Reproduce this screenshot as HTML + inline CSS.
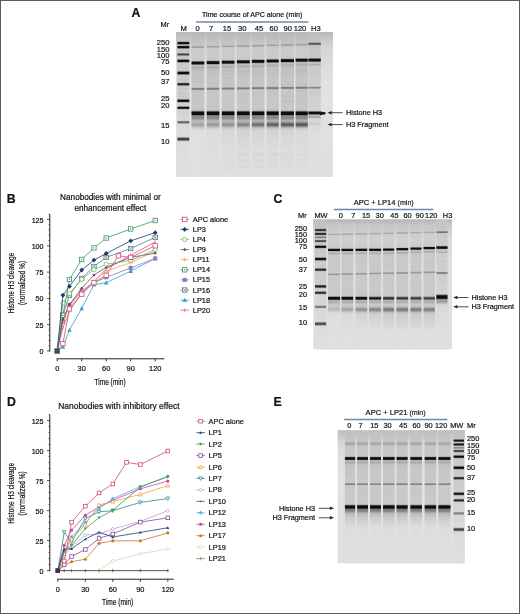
<!DOCTYPE html>
<html><head><meta charset="utf-8"><style>
html,body{margin:0;padding:0;background:#fff;}
svg{display:block;will-change:transform;}
text{font-family:"Liberation Sans", sans-serif;}
</style></head><body>
<svg width="520" height="614" viewBox="0 0 520 614">
<rect x="0" y="0" width="520" height="614" fill="#fff"/>
<defs><filter id="lb" x="-10%" y="-2%" width="120%" height="104%"><feGaussianBlur stdDeviation="0.5 0.6"/></filter><filter id="gb" x="-2%" y="-2%" width="104%" height="104%"><feGaussianBlur stdDeviation="0.4"/></filter></defs>
<text x="131.60" y="16.98" font-size="12.3" text-anchor="start" font-weight="bold" fill="#111" stroke="#111" stroke-width="0.2" >A</text>
<text x="202.00" y="16.74" font-size="7.1" text-anchor="start" fill="#111111" stroke="#111111" stroke-width="0.2" >Time course of APC alone (min)</text>
<line x1="196.00" y1="21.90" x2="308.50" y2="21.90" stroke="#7088a8" stroke-width="1.5" />
<text x="160.50" y="26.85" font-size="7.4" text-anchor="start" fill="#111111" stroke="#111111" stroke-width="0.2" >Mr</text>
<text x="183.70" y="30.91" font-size="7.6" text-anchor="middle" fill="#111111" stroke="#111111" stroke-width="0.2" >M</text>
<text x="197.70" y="30.91" font-size="7.6" text-anchor="middle" fill="#111111" stroke="#111111" stroke-width="0.2" >0</text>
<text x="211.20" y="30.91" font-size="7.6" text-anchor="middle" fill="#111111" stroke="#111111" stroke-width="0.2" >7</text>
<text x="226.90" y="30.91" font-size="7.6" text-anchor="middle" fill="#111111" stroke="#111111" stroke-width="0.2" >15</text>
<text x="242.30" y="30.91" font-size="7.6" text-anchor="middle" fill="#111111" stroke="#111111" stroke-width="0.2" >30</text>
<text x="259.10" y="30.91" font-size="7.6" text-anchor="middle" fill="#111111" stroke="#111111" stroke-width="0.2" >45</text>
<text x="273.80" y="30.91" font-size="7.6" text-anchor="middle" fill="#111111" stroke="#111111" stroke-width="0.2" >60</text>
<text x="287.70" y="30.91" font-size="7.6" text-anchor="middle" fill="#111111" stroke="#111111" stroke-width="0.2" >90</text>
<text x="300.00" y="30.91" font-size="7.6" text-anchor="middle" fill="#111111" stroke="#111111" stroke-width="0.2" >120</text>
<text x="315.80" y="30.91" font-size="7.6" text-anchor="middle" fill="#111111" stroke="#111111" stroke-width="0.2" >H3</text>
<text x="169.50" y="45.41" font-size="7.6" text-anchor="end" fill="#111111" stroke="#111111" stroke-width="0.2" >250</text>
<text x="169.50" y="51.81" font-size="7.6" text-anchor="end" fill="#111111" stroke="#111111" stroke-width="0.2" >150</text>
<text x="169.50" y="57.81" font-size="7.6" text-anchor="end" fill="#111111" stroke="#111111" stroke-width="0.2" >100</text>
<text x="169.50" y="64.21" font-size="7.6" text-anchor="end" fill="#111111" stroke="#111111" stroke-width="0.2" >75</text>
<text x="169.50" y="75.11" font-size="7.6" text-anchor="end" fill="#111111" stroke="#111111" stroke-width="0.2" >50</text>
<text x="169.50" y="84.41" font-size="7.6" text-anchor="end" fill="#111111" stroke="#111111" stroke-width="0.2" >37</text>
<text x="169.50" y="101.41" font-size="7.6" text-anchor="end" fill="#111111" stroke="#111111" stroke-width="0.2" >25</text>
<text x="169.50" y="108.01" font-size="7.6" text-anchor="end" fill="#111111" stroke="#111111" stroke-width="0.2" >20</text>
<text x="169.50" y="128.21" font-size="7.6" text-anchor="end" fill="#111111" stroke="#111111" stroke-width="0.2" >15</text>
<text x="169.50" y="144.11" font-size="7.6" text-anchor="end" fill="#111111" stroke="#111111" stroke-width="0.2" >10</text>
<linearGradient id="g1" gradientUnits="userSpaceOnUse" x1="0" y1="32.00" x2="0" y2="177.00"><stop offset="0.0000" stop-color="#b8b8b8"/><stop offset="0.0483" stop-color="#c8c8c8"/><stop offset="0.1103" stop-color="#d6d6d6"/><stop offset="0.3172" stop-color="#e0e0e0"/><stop offset="0.4414" stop-color="#e2e2e2"/><stop offset="1.0000" stop-color="#dfdfdf"/></linearGradient>
<rect x="176.00" y="32.00" width="157.00" height="145.00" fill="url(#g1)" />
<g filter="url(#lb)">
<linearGradient id="g2" gradientUnits="userSpaceOnUse" x1="0" y1="32.50" x2="0" y2="176.50"><stop offset="0.0000" stop-color="#bebebe"/><stop offset="0.0556" stop-color="#c4c4c4"/><stop offset="0.0590" stop-color="#c1c1c1"/><stop offset="0.0625" stop-color="#a6a6a6"/><stop offset="0.0660" stop-color="#5a5a5a"/><stop offset="0.0694" stop-color="#141414"/><stop offset="0.0729" stop-color="#0c0c0c"/><stop offset="0.0764" stop-color="#0c0c0c"/><stop offset="0.0799" stop-color="#393939"/><stop offset="0.0833" stop-color="#8d8d8d"/><stop offset="0.0868" stop-color="#bbbbbb"/><stop offset="0.0903" stop-color="#acacac"/><stop offset="0.0938" stop-color="#676767"/><stop offset="0.0972" stop-color="#181818"/><stop offset="0.1007" stop-color="#0c0c0c"/><stop offset="0.1042" stop-color="#0c0c0c"/><stop offset="0.1076" stop-color="#2c2c2c"/><stop offset="0.1111" stop-color="#7f7f7f"/><stop offset="0.1146" stop-color="#b9b9b9"/><stop offset="0.1181" stop-color="#c6c6c6"/><stop offset="0.1389" stop-color="#c7c7c7"/><stop offset="0.1424" stop-color="#bdbdbd"/><stop offset="0.1458" stop-color="#868686"/><stop offset="0.1493" stop-color="#494949"/><stop offset="0.1528" stop-color="#3c3c3c"/><stop offset="0.1562" stop-color="#494949"/><stop offset="0.1597" stop-color="#878787"/><stop offset="0.1632" stop-color="#bebebe"/><stop offset="0.1667" stop-color="#c9c9c9"/><stop offset="0.1806" stop-color="#c8c8c8"/><stop offset="0.1840" stop-color="#b9b9b9"/><stop offset="0.1875" stop-color="#7e7e7e"/><stop offset="0.1910" stop-color="#272727"/><stop offset="0.1944" stop-color="#0c0c0c"/><stop offset="0.2014" stop-color="#0d0d0d"/><stop offset="0.2049" stop-color="#4c4c4c"/><stop offset="0.2083" stop-color="#9c9c9c"/><stop offset="0.2118" stop-color="#c3c3c3"/><stop offset="0.2153" stop-color="#cacaca"/><stop offset="0.2604" stop-color="#cbcbcb"/><stop offset="0.2639" stop-color="#c5c5c5"/><stop offset="0.2674" stop-color="#b3b3b3"/><stop offset="0.2708" stop-color="#7f7f7f"/><stop offset="0.2743" stop-color="#333333"/><stop offset="0.2778" stop-color="#0c0c0c"/><stop offset="0.2847" stop-color="#0c0c0c"/><stop offset="0.2882" stop-color="#333333"/><stop offset="0.2917" stop-color="#7c7c7c"/><stop offset="0.2951" stop-color="#b1b1b1"/><stop offset="0.2986" stop-color="#c8c8c8"/><stop offset="0.3021" stop-color="#cbcbcb"/><stop offset="0.3194" stop-color="#cbcbcb"/><stop offset="0.3229" stop-color="#c5c5c5"/><stop offset="0.3264" stop-color="#c5c5c5"/><stop offset="0.3299" stop-color="#cbcbcb"/><stop offset="0.3438" stop-color="#cbcbcb"/><stop offset="0.3472" stop-color="#bababa"/><stop offset="0.3507" stop-color="#7d7d7d"/><stop offset="0.3542" stop-color="#373737"/><stop offset="0.3576" stop-color="#1e1e1e"/><stop offset="0.3611" stop-color="#202020"/><stop offset="0.3646" stop-color="#404040"/><stop offset="0.3681" stop-color="#848484"/><stop offset="0.3715" stop-color="#bababa"/><stop offset="0.3750" stop-color="#cbcbcb"/><stop offset="0.3854" stop-color="#cccccc"/><stop offset="0.3889" stop-color="#c5c5c5"/><stop offset="0.3924" stop-color="#c6c6c6"/><stop offset="0.3958" stop-color="#cccccc"/><stop offset="0.4271" stop-color="#cccccc"/><stop offset="0.4306" stop-color="#c9c9c9"/><stop offset="0.4375" stop-color="#cdcdcd"/><stop offset="0.4410" stop-color="#cdcdcd"/><stop offset="0.4479" stop-color="#c6c6c6"/><stop offset="0.4514" stop-color="#cccccc"/><stop offset="0.4549" stop-color="#cecece"/><stop offset="0.4583" stop-color="#cbcbcb"/><stop offset="0.4618" stop-color="#b5b5b5"/><stop offset="0.4653" stop-color="#727272"/><stop offset="0.4688" stop-color="#242424"/><stop offset="0.4722" stop-color="#0c0c0c"/><stop offset="0.4757" stop-color="#0c0c0c"/><stop offset="0.4792" stop-color="#1a1a1a"/><stop offset="0.4826" stop-color="#626262"/><stop offset="0.4861" stop-color="#adadad"/><stop offset="0.4896" stop-color="#cbcbcb"/><stop offset="0.4931" stop-color="#d0d0d0"/><stop offset="0.5069" stop-color="#d0d0d0"/><stop offset="0.5104" stop-color="#c3c3c3"/><stop offset="0.5139" stop-color="#8a8a8a"/><stop offset="0.5174" stop-color="#373737"/><stop offset="0.5208" stop-color="#111111"/><stop offset="0.5243" stop-color="#101010"/><stop offset="0.5278" stop-color="#2c2c2c"/><stop offset="0.5312" stop-color="#7a7a7a"/><stop offset="0.5347" stop-color="#bebebe"/><stop offset="0.5382" stop-color="#d2d2d2"/><stop offset="0.6076" stop-color="#d8d8d8"/><stop offset="0.6111" stop-color="#d0d0d0"/><stop offset="0.6146" stop-color="#aeaeae"/><stop offset="0.6181" stop-color="#7e7e7e"/><stop offset="0.6215" stop-color="#676767"/><stop offset="0.6250" stop-color="#666666"/><stop offset="0.6285" stop-color="#777777"/><stop offset="0.6319" stop-color="#a5a5a5"/><stop offset="0.6354" stop-color="#cdcdcd"/><stop offset="0.6389" stop-color="#d9d9d9"/><stop offset="0.7153" stop-color="#dcdcdc"/><stop offset="0.7188" stop-color="#dcdcdc"/><stop offset="0.7222" stop-color="#d8d8d8"/><stop offset="0.7257" stop-color="#c4c4c4"/><stop offset="0.7292" stop-color="#979797"/><stop offset="0.7326" stop-color="#636363"/><stop offset="0.7361" stop-color="#444444"/><stop offset="0.7396" stop-color="#3d3d3d"/><stop offset="0.7431" stop-color="#3f3f3f"/><stop offset="0.7465" stop-color="#535353"/><stop offset="0.7500" stop-color="#818181"/><stop offset="0.7535" stop-color="#b5b5b5"/><stop offset="0.7569" stop-color="#d3d3d3"/><stop offset="0.7604" stop-color="#dcdcdc"/><stop offset="1.0000" stop-color="#e0e0e0"/></linearGradient>
<rect x="177.40" y="32.50" width="11.90" height="144.00" fill="url(#g2)" />
<linearGradient id="g3" gradientUnits="userSpaceOnUse" x1="0" y1="33.00" x2="0" y2="176.00"><stop offset="0.0000" stop-color="#b8b8b8"/><stop offset="0.0874" stop-color="#c6c6c6"/><stop offset="0.0909" stop-color="#c1c1c1"/><stop offset="0.0944" stop-color="#aaaaaa"/><stop offset="0.0979" stop-color="#a0a0a0"/><stop offset="0.1014" stop-color="#a4a4a4"/><stop offset="0.1049" stop-color="#bbbbbb"/><stop offset="0.1084" stop-color="#c9c9c9"/><stop offset="0.1259" stop-color="#cccccc"/><stop offset="0.1888" stop-color="#cacaca"/><stop offset="0.1923" stop-color="#c5c5c5"/><stop offset="0.1958" stop-color="#a9a9a9"/><stop offset="0.1993" stop-color="#666666"/><stop offset="0.2028" stop-color="#181818"/><stop offset="0.2063" stop-color="#0c0c0c"/><stop offset="0.2133" stop-color="#0c0c0c"/><stop offset="0.2168" stop-color="#161616"/><stop offset="0.2203" stop-color="#636363"/><stop offset="0.2238" stop-color="#a5a5a5"/><stop offset="0.2273" stop-color="#bdbdbd"/><stop offset="0.2308" stop-color="#bcbcbc"/><stop offset="0.2343" stop-color="#b3b3b3"/><stop offset="0.2378" stop-color="#aeaeae"/><stop offset="0.2448" stop-color="#adadad"/><stop offset="0.2483" stop-color="#b1b1b1"/><stop offset="0.2517" stop-color="#b9b9b9"/><stop offset="0.2552" stop-color="#bdbdbd"/><stop offset="0.2587" stop-color="#bababa"/><stop offset="0.2657" stop-color="#c0c0c0"/><stop offset="0.3112" stop-color="#c4c4c4"/><stop offset="0.3147" stop-color="#bebebe"/><stop offset="0.3182" stop-color="#bebebe"/><stop offset="0.3217" stop-color="#c4c4c4"/><stop offset="0.3322" stop-color="#c6c6c6"/><stop offset="0.3392" stop-color="#c0c0c0"/><stop offset="0.3462" stop-color="#c6c6c6"/><stop offset="0.3776" stop-color="#c6c6c6"/><stop offset="0.3811" stop-color="#bdbdbd"/><stop offset="0.3846" stop-color="#9b9b9b"/><stop offset="0.3881" stop-color="#7f7f7f"/><stop offset="0.3916" stop-color="#7c7c7c"/><stop offset="0.3951" stop-color="#878787"/><stop offset="0.3986" stop-color="#ababab"/><stop offset="0.4021" stop-color="#c3c3c3"/><stop offset="0.4056" stop-color="#c5c5c5"/><stop offset="0.4091" stop-color="#c2c2c2"/><stop offset="0.4196" stop-color="#c7c7c7"/><stop offset="0.4336" stop-color="#c5c5c5"/><stop offset="0.4476" stop-color="#c6c6c6"/><stop offset="0.4510" stop-color="#c2c2c2"/><stop offset="0.4580" stop-color="#c7c7c7"/><stop offset="0.4825" stop-color="#c5c5c5"/><stop offset="0.5000" stop-color="#c8c8c8"/><stop offset="0.5280" stop-color="#c7c7c7"/><stop offset="0.5350" stop-color="#c3c3c3"/><stop offset="0.5385" stop-color="#c4c4c4"/><stop offset="0.5420" stop-color="#b8b8b8"/><stop offset="0.5455" stop-color="#939393"/><stop offset="0.5524" stop-color="#151515"/><stop offset="0.5559" stop-color="#0c0c0c"/><stop offset="0.5699" stop-color="#0d0d0d"/><stop offset="0.5734" stop-color="#454545"/><stop offset="0.5769" stop-color="#757575"/><stop offset="0.5804" stop-color="#8a8a8a"/><stop offset="0.5839" stop-color="#8b8b8b"/><stop offset="0.5909" stop-color="#858585"/><stop offset="0.5944" stop-color="#878787"/><stop offset="0.6014" stop-color="#979797"/><stop offset="0.6119" stop-color="#b4b4b4"/><stop offset="0.6154" stop-color="#b9b9b9"/><stop offset="0.6189" stop-color="#bbbbbb"/><stop offset="0.6259" stop-color="#b6b6b6"/><stop offset="0.6364" stop-color="#a7a7a7"/><stop offset="0.6399" stop-color="#a5a5a5"/><stop offset="0.6469" stop-color="#aaaaaa"/><stop offset="0.6643" stop-color="#cccccc"/><stop offset="0.6748" stop-color="#d8d8d8"/><stop offset="0.6853" stop-color="#e0e0e0"/><stop offset="1.0000" stop-color="#e0e0e0"/></linearGradient>
<rect x="191.50" y="33.00" width="12.80" height="143.00" fill="url(#g3)" />
<linearGradient id="g4" gradientUnits="userSpaceOnUse" x1="0" y1="33.00" x2="0" y2="176.00"><stop offset="0.0000" stop-color="#b8b8b8"/><stop offset="0.0839" stop-color="#c6c6c6"/><stop offset="0.0874" stop-color="#c4c4c4"/><stop offset="0.0944" stop-color="#a1a1a1"/><stop offset="0.0979" stop-color="#a1a1a1"/><stop offset="0.1049" stop-color="#c7c7c7"/><stop offset="0.1119" stop-color="#cbcbcb"/><stop offset="0.1853" stop-color="#cacaca"/><stop offset="0.1888" stop-color="#c7c7c7"/><stop offset="0.1923" stop-color="#b2b2b2"/><stop offset="0.1958" stop-color="#767676"/><stop offset="0.1993" stop-color="#262626"/><stop offset="0.2028" stop-color="#0c0c0c"/><stop offset="0.2133" stop-color="#0c0c0c"/><stop offset="0.2203" stop-color="#9b9b9b"/><stop offset="0.2238" stop-color="#bcbcbc"/><stop offset="0.2273" stop-color="#bdbdbd"/><stop offset="0.2343" stop-color="#afafaf"/><stop offset="0.2413" stop-color="#adadad"/><stop offset="0.2448" stop-color="#b0b0b0"/><stop offset="0.2517" stop-color="#bebebe"/><stop offset="0.2552" stop-color="#bfbfbf"/><stop offset="0.2587" stop-color="#bcbcbc"/><stop offset="0.2692" stop-color="#c1c1c1"/><stop offset="0.3007" stop-color="#c2c2c2"/><stop offset="0.3287" stop-color="#c6c6c6"/><stop offset="0.3392" stop-color="#c5c5c5"/><stop offset="0.3427" stop-color="#c1c1c1"/><stop offset="0.3741" stop-color="#c6c6c6"/><stop offset="0.3776" stop-color="#c5c5c5"/><stop offset="0.3811" stop-color="#b4b4b4"/><stop offset="0.3846" stop-color="#8f8f8f"/><stop offset="0.3881" stop-color="#7c7c7c"/><stop offset="0.3916" stop-color="#7d7d7d"/><stop offset="0.3951" stop-color="#919191"/><stop offset="0.3986" stop-color="#b7b7b7"/><stop offset="0.4021" stop-color="#c6c6c6"/><stop offset="0.4510" stop-color="#c7c7c7"/><stop offset="0.4580" stop-color="#c6c6c6"/><stop offset="0.4825" stop-color="#c7c7c7"/><stop offset="0.4895" stop-color="#c5c5c5"/><stop offset="0.4965" stop-color="#c8c8c8"/><stop offset="0.5105" stop-color="#c5c5c5"/><stop offset="0.5210" stop-color="#c8c8c8"/><stop offset="0.5385" stop-color="#c5c5c5"/><stop offset="0.5420" stop-color="#b8b8b8"/><stop offset="0.5455" stop-color="#939393"/><stop offset="0.5524" stop-color="#151515"/><stop offset="0.5559" stop-color="#0c0c0c"/><stop offset="0.5699" stop-color="#0d0d0d"/><stop offset="0.5734" stop-color="#454545"/><stop offset="0.5769" stop-color="#757575"/><stop offset="0.5804" stop-color="#8a8a8a"/><stop offset="0.5839" stop-color="#8b8b8b"/><stop offset="0.5909" stop-color="#858585"/><stop offset="0.5944" stop-color="#878787"/><stop offset="0.6014" stop-color="#979797"/><stop offset="0.6084" stop-color="#ababab"/><stop offset="0.6119" stop-color="#b3b3b3"/><stop offset="0.6154" stop-color="#b8b8b8"/><stop offset="0.6189" stop-color="#b9b9b9"/><stop offset="0.6259" stop-color="#b1b1b1"/><stop offset="0.6364" stop-color="#9d9d9d"/><stop offset="0.6399" stop-color="#9b9b9b"/><stop offset="0.6434" stop-color="#9d9d9d"/><stop offset="0.6503" stop-color="#a9a9a9"/><stop offset="0.6643" stop-color="#cacaca"/><stop offset="0.6748" stop-color="#d6d6d6"/><stop offset="0.6853" stop-color="#dcdcdc"/><stop offset="0.8357" stop-color="#dedede"/><stop offset="0.8566" stop-color="#dedede"/><stop offset="1.0000" stop-color="#e0e0e0"/></linearGradient>
<rect x="206.70" y="33.00" width="12.70" height="143.00" fill="url(#g4)" />
<linearGradient id="g5" gradientUnits="userSpaceOnUse" x1="0" y1="33.00" x2="0" y2="176.00"><stop offset="0.0000" stop-color="#b8b8b8"/><stop offset="0.0839" stop-color="#c5c5c5"/><stop offset="0.0874" stop-color="#b8b8b8"/><stop offset="0.0909" stop-color="#a3a3a3"/><stop offset="0.0944" stop-color="#a0a0a0"/><stop offset="0.0979" stop-color="#ababab"/><stop offset="0.1014" stop-color="#c3c3c3"/><stop offset="0.1049" stop-color="#c9c9c9"/><stop offset="0.1329" stop-color="#cccccc"/><stop offset="0.1818" stop-color="#cacaca"/><stop offset="0.1853" stop-color="#c8c8c8"/><stop offset="0.1888" stop-color="#b9b9b9"/><stop offset="0.1923" stop-color="#868686"/><stop offset="0.1958" stop-color="#353535"/><stop offset="0.1993" stop-color="#0c0c0c"/><stop offset="0.2098" stop-color="#0c0c0c"/><stop offset="0.2133" stop-color="#434343"/><stop offset="0.2168" stop-color="#909090"/><stop offset="0.2203" stop-color="#b9b9b9"/><stop offset="0.2238" stop-color="#bfbfbf"/><stop offset="0.2308" stop-color="#b0b0b0"/><stop offset="0.2378" stop-color="#adadad"/><stop offset="0.2413" stop-color="#b0b0b0"/><stop offset="0.2483" stop-color="#bebebe"/><stop offset="0.2552" stop-color="#c0c0c0"/><stop offset="0.2622" stop-color="#bababa"/><stop offset="0.2692" stop-color="#c0c0c0"/><stop offset="0.2832" stop-color="#c2c2c2"/><stop offset="0.2902" stop-color="#bebebe"/><stop offset="0.2972" stop-color="#c3c3c3"/><stop offset="0.3042" stop-color="#c3c3c3"/><stop offset="0.3112" stop-color="#bdbdbd"/><stop offset="0.3217" stop-color="#c5c5c5"/><stop offset="0.3497" stop-color="#c6c6c6"/><stop offset="0.3601" stop-color="#c2c2c2"/><stop offset="0.3706" stop-color="#c6c6c6"/><stop offset="0.3741" stop-color="#c6c6c6"/><stop offset="0.3776" stop-color="#c2c2c2"/><stop offset="0.3811" stop-color="#a8a8a8"/><stop offset="0.3846" stop-color="#858585"/><stop offset="0.3881" stop-color="#7c7c7c"/><stop offset="0.3916" stop-color="#808080"/><stop offset="0.3986" stop-color="#bfbfbf"/><stop offset="0.4021" stop-color="#c4c4c4"/><stop offset="0.4056" stop-color="#c2c2c2"/><stop offset="0.4126" stop-color="#c7c7c7"/><stop offset="0.4615" stop-color="#c7c7c7"/><stop offset="0.4685" stop-color="#c2c2c2"/><stop offset="0.4755" stop-color="#c7c7c7"/><stop offset="0.5140" stop-color="#c7c7c7"/><stop offset="0.5175" stop-color="#c3c3c3"/><stop offset="0.5280" stop-color="#c8c8c8"/><stop offset="0.5350" stop-color="#c8c8c8"/><stop offset="0.5385" stop-color="#c5c5c5"/><stop offset="0.5420" stop-color="#b8b8b8"/><stop offset="0.5455" stop-color="#939393"/><stop offset="0.5524" stop-color="#151515"/><stop offset="0.5559" stop-color="#0c0c0c"/><stop offset="0.5699" stop-color="#0d0d0d"/><stop offset="0.5734" stop-color="#454545"/><stop offset="0.5769" stop-color="#757575"/><stop offset="0.5804" stop-color="#8a8a8a"/><stop offset="0.5839" stop-color="#8b8b8b"/><stop offset="0.5909" stop-color="#858585"/><stop offset="0.5944" stop-color="#878787"/><stop offset="0.6014" stop-color="#979797"/><stop offset="0.6084" stop-color="#ababab"/><stop offset="0.6119" stop-color="#b2b2b2"/><stop offset="0.6154" stop-color="#b6b6b6"/><stop offset="0.6189" stop-color="#b7b7b7"/><stop offset="0.6224" stop-color="#b3b3b3"/><stop offset="0.6364" stop-color="#949494"/><stop offset="0.6399" stop-color="#919191"/><stop offset="0.6434" stop-color="#939393"/><stop offset="0.6469" stop-color="#999999"/><stop offset="0.6608" stop-color="#c0c0c0"/><stop offset="0.6678" stop-color="#cccccc"/><stop offset="0.6818" stop-color="#d6d6d6"/><stop offset="0.8322" stop-color="#dddddd"/><stop offset="0.8497" stop-color="#dadada"/><stop offset="0.8671" stop-color="#dedede"/><stop offset="0.8916" stop-color="#dbdbdb"/><stop offset="0.9126" stop-color="#dedede"/><stop offset="0.9336" stop-color="#dcdcdc"/><stop offset="0.9790" stop-color="#dfdfdf"/><stop offset="1.0000" stop-color="#e0e0e0"/></linearGradient>
<rect x="221.80" y="33.00" width="12.70" height="143.00" fill="url(#g5)" />
<linearGradient id="g6" gradientUnits="userSpaceOnUse" x1="0" y1="33.00" x2="0" y2="176.00"><stop offset="0.0000" stop-color="#b8b8b8"/><stop offset="0.0804" stop-color="#c5c5c5"/><stop offset="0.0839" stop-color="#bebebe"/><stop offset="0.0874" stop-color="#a7a7a7"/><stop offset="0.0909" stop-color="#9f9f9f"/><stop offset="0.0944" stop-color="#a5a5a5"/><stop offset="0.0979" stop-color="#bcbcbc"/><stop offset="0.1014" stop-color="#c8c8c8"/><stop offset="0.1259" stop-color="#cccccc"/><stop offset="0.1818" stop-color="#c9c9c9"/><stop offset="0.1853" stop-color="#bfbfbf"/><stop offset="0.1888" stop-color="#949494"/><stop offset="0.1923" stop-color="#464646"/><stop offset="0.1958" stop-color="#0c0c0c"/><stop offset="0.2063" stop-color="#0c0c0c"/><stop offset="0.2098" stop-color="#333333"/><stop offset="0.2133" stop-color="#838383"/><stop offset="0.2168" stop-color="#b5b5b5"/><stop offset="0.2203" stop-color="#c0c0c0"/><stop offset="0.2273" stop-color="#b2b2b2"/><stop offset="0.2343" stop-color="#aeaeae"/><stop offset="0.2378" stop-color="#afafaf"/><stop offset="0.2448" stop-color="#bdbdbd"/><stop offset="0.2483" stop-color="#c1c1c1"/><stop offset="0.2622" stop-color="#c0c0c0"/><stop offset="0.2692" stop-color="#bbbbbb"/><stop offset="0.2762" stop-color="#c1c1c1"/><stop offset="0.2832" stop-color="#bebebe"/><stop offset="0.2937" stop-color="#c3c3c3"/><stop offset="0.3042" stop-color="#c2c2c2"/><stop offset="0.3252" stop-color="#c6c6c6"/><stop offset="0.3427" stop-color="#c6c6c6"/><stop offset="0.3531" stop-color="#c1c1c1"/><stop offset="0.3601" stop-color="#c6c6c6"/><stop offset="0.3741" stop-color="#c6c6c6"/><stop offset="0.3776" stop-color="#bcbcbc"/><stop offset="0.3811" stop-color="#9a9a9a"/><stop offset="0.3846" stop-color="#7f7f7f"/><stop offset="0.3881" stop-color="#7c7c7c"/><stop offset="0.3916" stop-color="#878787"/><stop offset="0.3951" stop-color="#acacac"/><stop offset="0.3986" stop-color="#c3c3c3"/><stop offset="0.4021" stop-color="#c7c7c7"/><stop offset="0.4126" stop-color="#c4c4c4"/><stop offset="0.4231" stop-color="#c7c7c7"/><stop offset="0.4301" stop-color="#c1c1c1"/><stop offset="0.4371" stop-color="#c7c7c7"/><stop offset="0.4476" stop-color="#c5c5c5"/><stop offset="0.4510" stop-color="#c1c1c1"/><stop offset="0.4580" stop-color="#c7c7c7"/><stop offset="0.4755" stop-color="#c7c7c7"/><stop offset="0.4825" stop-color="#c2c2c2"/><stop offset="0.4895" stop-color="#c7c7c7"/><stop offset="0.5350" stop-color="#c8c8c8"/><stop offset="0.5385" stop-color="#c5c5c5"/><stop offset="0.5420" stop-color="#b8b8b8"/><stop offset="0.5455" stop-color="#939393"/><stop offset="0.5524" stop-color="#151515"/><stop offset="0.5559" stop-color="#0c0c0c"/><stop offset="0.5699" stop-color="#0d0d0d"/><stop offset="0.5734" stop-color="#454545"/><stop offset="0.5769" stop-color="#757575"/><stop offset="0.5804" stop-color="#8a8a8a"/><stop offset="0.5839" stop-color="#8b8b8b"/><stop offset="0.5909" stop-color="#858585"/><stop offset="0.5944" stop-color="#878787"/><stop offset="0.6014" stop-color="#979797"/><stop offset="0.6084" stop-color="#aaaaaa"/><stop offset="0.6119" stop-color="#b2b2b2"/><stop offset="0.6154" stop-color="#b5b5b5"/><stop offset="0.6189" stop-color="#b4b4b4"/><stop offset="0.6224" stop-color="#afafaf"/><stop offset="0.6364" stop-color="#898989"/><stop offset="0.6399" stop-color="#858585"/><stop offset="0.6434" stop-color="#878787"/><stop offset="0.6469" stop-color="#8e8e8e"/><stop offset="0.6608" stop-color="#bcbcbc"/><stop offset="0.6678" stop-color="#cacaca"/><stop offset="0.6783" stop-color="#d2d2d2"/><stop offset="0.7587" stop-color="#d8d8d8"/><stop offset="0.8287" stop-color="#dddddd"/><stop offset="0.8462" stop-color="#d6d6d6"/><stop offset="0.8671" stop-color="#dddddd"/><stop offset="0.8916" stop-color="#d8d8d8"/><stop offset="0.9091" stop-color="#dedede"/><stop offset="0.9336" stop-color="#dadada"/><stop offset="0.9545" stop-color="#dedede"/><stop offset="1.0000" stop-color="#e0e0e0"/></linearGradient>
<rect x="236.90" y="33.00" width="12.90" height="143.00" fill="url(#g6)" />
<linearGradient id="g7" gradientUnits="userSpaceOnUse" x1="0" y1="33.00" x2="0" y2="176.00"><stop offset="0.0000" stop-color="#b8b8b8"/><stop offset="0.0769" stop-color="#c5c5c5"/><stop offset="0.0804" stop-color="#c2c2c2"/><stop offset="0.0839" stop-color="#adadad"/><stop offset="0.0874" stop-color="#9f9f9f"/><stop offset="0.0909" stop-color="#a1a1a1"/><stop offset="0.0979" stop-color="#c6c6c6"/><stop offset="0.1119" stop-color="#cbcbcb"/><stop offset="0.1783" stop-color="#cacaca"/><stop offset="0.1818" stop-color="#c3c3c3"/><stop offset="0.1853" stop-color="#a0a0a0"/><stop offset="0.1923" stop-color="#0d0d0d"/><stop offset="0.2028" stop-color="#0c0c0c"/><stop offset="0.2063" stop-color="#252525"/><stop offset="0.2098" stop-color="#747474"/><stop offset="0.2133" stop-color="#afafaf"/><stop offset="0.2168" stop-color="#c0c0c0"/><stop offset="0.2203" stop-color="#bcbcbc"/><stop offset="0.2238" stop-color="#b3b3b3"/><stop offset="0.2273" stop-color="#afafaf"/><stop offset="0.2343" stop-color="#afafaf"/><stop offset="0.2448" stop-color="#c1c1c1"/><stop offset="0.2622" stop-color="#c0c0c0"/><stop offset="0.2727" stop-color="#bcbcbc"/><stop offset="0.2832" stop-color="#c2c2c2"/><stop offset="0.2902" stop-color="#c0c0c0"/><stop offset="0.2972" stop-color="#c3c3c3"/><stop offset="0.3671" stop-color="#c6c6c6"/><stop offset="0.3741" stop-color="#c3c3c3"/><stop offset="0.3776" stop-color="#b3b3b3"/><stop offset="0.3811" stop-color="#8d8d8d"/><stop offset="0.3846" stop-color="#797979"/><stop offset="0.3881" stop-color="#7a7a7a"/><stop offset="0.3916" stop-color="#929292"/><stop offset="0.3951" stop-color="#b7b7b7"/><stop offset="0.3986" stop-color="#c6c6c6"/><stop offset="0.4196" stop-color="#c6c6c6"/><stop offset="0.4231" stop-color="#c3c3c3"/><stop offset="0.4266" stop-color="#c3c3c3"/><stop offset="0.4301" stop-color="#c6c6c6"/><stop offset="0.4336" stop-color="#c3c3c3"/><stop offset="0.4441" stop-color="#c7c7c7"/><stop offset="0.4580" stop-color="#c7c7c7"/><stop offset="0.4615" stop-color="#c3c3c3"/><stop offset="0.4650" stop-color="#c3c3c3"/><stop offset="0.4685" stop-color="#c7c7c7"/><stop offset="0.4895" stop-color="#c7c7c7"/><stop offset="0.4930" stop-color="#c5c5c5"/><stop offset="0.5105" stop-color="#c8c8c8"/><stop offset="0.5315" stop-color="#c6c6c6"/><stop offset="0.5385" stop-color="#c4c4c4"/><stop offset="0.5420" stop-color="#b8b8b8"/><stop offset="0.5455" stop-color="#939393"/><stop offset="0.5524" stop-color="#151515"/><stop offset="0.5559" stop-color="#0c0c0c"/><stop offset="0.5699" stop-color="#0d0d0d"/><stop offset="0.5734" stop-color="#454545"/><stop offset="0.5769" stop-color="#757575"/><stop offset="0.5804" stop-color="#8a8a8a"/><stop offset="0.5839" stop-color="#8b8b8b"/><stop offset="0.5909" stop-color="#858585"/><stop offset="0.5944" stop-color="#878787"/><stop offset="0.6014" stop-color="#979797"/><stop offset="0.6084" stop-color="#aaaaaa"/><stop offset="0.6119" stop-color="#b0b0b0"/><stop offset="0.6154" stop-color="#b2b2b2"/><stop offset="0.6189" stop-color="#afafaf"/><stop offset="0.6224" stop-color="#a7a7a7"/><stop offset="0.6329" stop-color="#7e7e7e"/><stop offset="0.6364" stop-color="#737373"/><stop offset="0.6399" stop-color="#6e6e6e"/><stop offset="0.6434" stop-color="#717171"/><stop offset="0.6469" stop-color="#7a7a7a"/><stop offset="0.6608" stop-color="#b6b6b6"/><stop offset="0.6643" stop-color="#c1c1c1"/><stop offset="0.6713" stop-color="#cdcdcd"/><stop offset="0.6853" stop-color="#d4d4d4"/><stop offset="0.8287" stop-color="#dddddd"/><stop offset="0.8462" stop-color="#d6d6d6"/><stop offset="0.8671" stop-color="#dddddd"/><stop offset="0.8916" stop-color="#d8d8d8"/><stop offset="0.9091" stop-color="#dedede"/><stop offset="0.9336" stop-color="#dadada"/><stop offset="0.9545" stop-color="#dedede"/><stop offset="1.0000" stop-color="#e0e0e0"/></linearGradient>
<rect x="251.90" y="33.00" width="12.50" height="143.00" fill="url(#g7)" />
<linearGradient id="g8" gradientUnits="userSpaceOnUse" x1="0" y1="33.00" x2="0" y2="176.00"><stop offset="0.0000" stop-color="#b8b8b8"/><stop offset="0.0769" stop-color="#c3c3c3"/><stop offset="0.0804" stop-color="#b4b4b4"/><stop offset="0.0839" stop-color="#a0a0a0"/><stop offset="0.0874" stop-color="#9f9f9f"/><stop offset="0.0909" stop-color="#acacac"/><stop offset="0.0944" stop-color="#c3c3c3"/><stop offset="0.0979" stop-color="#c8c8c8"/><stop offset="0.1294" stop-color="#cccccc"/><stop offset="0.1748" stop-color="#cacaca"/><stop offset="0.1783" stop-color="#c5c5c5"/><stop offset="0.1818" stop-color="#aaaaaa"/><stop offset="0.1853" stop-color="#676767"/><stop offset="0.1888" stop-color="#1a1a1a"/><stop offset="0.1923" stop-color="#0c0c0c"/><stop offset="0.1993" stop-color="#0c0c0c"/><stop offset="0.2028" stop-color="#181818"/><stop offset="0.2063" stop-color="#656565"/><stop offset="0.2098" stop-color="#a7a7a7"/><stop offset="0.2133" stop-color="#bfbfbf"/><stop offset="0.2168" stop-color="#bebebe"/><stop offset="0.2203" stop-color="#b5b5b5"/><stop offset="0.2238" stop-color="#b0b0b0"/><stop offset="0.2308" stop-color="#afafaf"/><stop offset="0.2343" stop-color="#b3b3b3"/><stop offset="0.2413" stop-color="#c0c0c0"/><stop offset="0.2937" stop-color="#c3c3c3"/><stop offset="0.3007" stop-color="#bebebe"/><stop offset="0.3077" stop-color="#c4c4c4"/><stop offset="0.3357" stop-color="#c6c6c6"/><stop offset="0.3427" stop-color="#c3c3c3"/><stop offset="0.3497" stop-color="#c6c6c6"/><stop offset="0.3601" stop-color="#c5c5c5"/><stop offset="0.3636" stop-color="#c1c1c1"/><stop offset="0.3706" stop-color="#c4c4c4"/><stop offset="0.3741" stop-color="#c0c0c0"/><stop offset="0.3776" stop-color="#a7a7a7"/><stop offset="0.3811" stop-color="#848484"/><stop offset="0.3846" stop-color="#7c7c7c"/><stop offset="0.3881" stop-color="#808080"/><stop offset="0.3951" stop-color="#b7b7b7"/><stop offset="0.3986" stop-color="#c1c1c1"/><stop offset="0.4021" stop-color="#c5c5c5"/><stop offset="0.5210" stop-color="#c8c8c8"/><stop offset="0.5280" stop-color="#c2c2c2"/><stop offset="0.5350" stop-color="#c4c4c4"/><stop offset="0.5385" stop-color="#c0c0c0"/><stop offset="0.5420" stop-color="#b6b6b6"/><stop offset="0.5455" stop-color="#929292"/><stop offset="0.5524" stop-color="#151515"/><stop offset="0.5559" stop-color="#0c0c0c"/><stop offset="0.5699" stop-color="#0d0d0d"/><stop offset="0.5734" stop-color="#454545"/><stop offset="0.5769" stop-color="#757575"/><stop offset="0.5804" stop-color="#8a8a8a"/><stop offset="0.5839" stop-color="#8b8b8b"/><stop offset="0.5909" stop-color="#858585"/><stop offset="0.5944" stop-color="#878787"/><stop offset="0.6014" stop-color="#969696"/><stop offset="0.6084" stop-color="#a9a9a9"/><stop offset="0.6119" stop-color="#afafaf"/><stop offset="0.6154" stop-color="#b0b0b0"/><stop offset="0.6189" stop-color="#acacac"/><stop offset="0.6224" stop-color="#a2a2a2"/><stop offset="0.6294" stop-color="#828282"/><stop offset="0.6329" stop-color="#727272"/><stop offset="0.6364" stop-color="#656565"/><stop offset="0.6399" stop-color="#5f5f5f"/><stop offset="0.6434" stop-color="#626262"/><stop offset="0.6469" stop-color="#6d6d6d"/><stop offset="0.6608" stop-color="#b2b2b2"/><stop offset="0.6643" stop-color="#bebebe"/><stop offset="0.6713" stop-color="#cccccc"/><stop offset="0.6818" stop-color="#d3d3d3"/><stop offset="0.8287" stop-color="#dddddd"/><stop offset="0.8462" stop-color="#d6d6d6"/><stop offset="0.8671" stop-color="#dddddd"/><stop offset="0.8916" stop-color="#d8d8d8"/><stop offset="0.9091" stop-color="#dedede"/><stop offset="0.9336" stop-color="#dadada"/><stop offset="0.9545" stop-color="#dedede"/><stop offset="1.0000" stop-color="#e0e0e0"/></linearGradient>
<rect x="266.60" y="33.00" width="12.20" height="143.00" fill="url(#g8)" />
<linearGradient id="g9" gradientUnits="userSpaceOnUse" x1="0" y1="33.00" x2="0" y2="176.00"><stop offset="0.0000" stop-color="#b8b8b8"/><stop offset="0.0734" stop-color="#c4c4c4"/><stop offset="0.0769" stop-color="#bbbbbb"/><stop offset="0.0804" stop-color="#a4a4a4"/><stop offset="0.0839" stop-color="#9e9e9e"/><stop offset="0.0874" stop-color="#a5a5a5"/><stop offset="0.0909" stop-color="#bdbdbd"/><stop offset="0.0944" stop-color="#c7c7c7"/><stop offset="0.1259" stop-color="#cccccc"/><stop offset="0.1713" stop-color="#cacaca"/><stop offset="0.1748" stop-color="#c7c7c7"/><stop offset="0.1783" stop-color="#b3b3b3"/><stop offset="0.1818" stop-color="#777777"/><stop offset="0.1853" stop-color="#282828"/><stop offset="0.1888" stop-color="#0c0c0c"/><stop offset="0.1993" stop-color="#0c0c0c"/><stop offset="0.2063" stop-color="#9d9d9d"/><stop offset="0.2098" stop-color="#bebebe"/><stop offset="0.2133" stop-color="#bfbfbf"/><stop offset="0.2203" stop-color="#b1b1b1"/><stop offset="0.2273" stop-color="#afafaf"/><stop offset="0.2308" stop-color="#b2b2b2"/><stop offset="0.2378" stop-color="#c0c0c0"/><stop offset="0.2448" stop-color="#c2c2c2"/><stop offset="0.2692" stop-color="#c1c1c1"/><stop offset="0.2832" stop-color="#bfbfbf"/><stop offset="0.2972" stop-color="#c3c3c3"/><stop offset="0.3322" stop-color="#c6c6c6"/><stop offset="0.3392" stop-color="#bfbfbf"/><stop offset="0.3462" stop-color="#c6c6c6"/><stop offset="0.3531" stop-color="#c6c6c6"/><stop offset="0.3601" stop-color="#bcbcbc"/><stop offset="0.3671" stop-color="#c6c6c6"/><stop offset="0.3706" stop-color="#c6c6c6"/><stop offset="0.3741" stop-color="#bcbcbc"/><stop offset="0.3776" stop-color="#9a9a9a"/><stop offset="0.3811" stop-color="#7f7f7f"/><stop offset="0.3846" stop-color="#7c7c7c"/><stop offset="0.3881" stop-color="#888888"/><stop offset="0.3916" stop-color="#acacac"/><stop offset="0.3951" stop-color="#c4c4c4"/><stop offset="0.4021" stop-color="#c7c7c7"/><stop offset="0.4371" stop-color="#c5c5c5"/><stop offset="0.4406" stop-color="#c1c1c1"/><stop offset="0.4441" stop-color="#c1c1c1"/><stop offset="0.4510" stop-color="#c7c7c7"/><stop offset="0.4685" stop-color="#c7c7c7"/><stop offset="0.4755" stop-color="#bbbbbb"/><stop offset="0.4825" stop-color="#c7c7c7"/><stop offset="0.5350" stop-color="#c8c8c8"/><stop offset="0.5385" stop-color="#c5c5c5"/><stop offset="0.5420" stop-color="#b8b8b8"/><stop offset="0.5455" stop-color="#939393"/><stop offset="0.5524" stop-color="#151515"/><stop offset="0.5559" stop-color="#0c0c0c"/><stop offset="0.5699" stop-color="#0d0d0d"/><stop offset="0.5734" stop-color="#454545"/><stop offset="0.5769" stop-color="#757575"/><stop offset="0.5804" stop-color="#8a8a8a"/><stop offset="0.5839" stop-color="#8b8b8b"/><stop offset="0.5909" stop-color="#858585"/><stop offset="0.5944" stop-color="#878787"/><stop offset="0.6014" stop-color="#969696"/><stop offset="0.6084" stop-color="#a9a9a9"/><stop offset="0.6119" stop-color="#afafaf"/><stop offset="0.6154" stop-color="#b0b0b0"/><stop offset="0.6189" stop-color="#ababab"/><stop offset="0.6224" stop-color="#a0a0a0"/><stop offset="0.6294" stop-color="#7f7f7f"/><stop offset="0.6329" stop-color="#6d6d6d"/><stop offset="0.6364" stop-color="#606060"/><stop offset="0.6399" stop-color="#5a5a5a"/><stop offset="0.6434" stop-color="#5d5d5d"/><stop offset="0.6469" stop-color="#686868"/><stop offset="0.6608" stop-color="#b1b1b1"/><stop offset="0.6643" stop-color="#bebebe"/><stop offset="0.6678" stop-color="#c7c7c7"/><stop offset="0.6748" stop-color="#d0d0d0"/><stop offset="0.6888" stop-color="#d5d5d5"/><stop offset="0.8287" stop-color="#dddddd"/><stop offset="0.8462" stop-color="#d7d7d7"/><stop offset="0.8671" stop-color="#dddddd"/><stop offset="0.8916" stop-color="#d9d9d9"/><stop offset="0.9091" stop-color="#dedede"/><stop offset="0.9336" stop-color="#dbdbdb"/><stop offset="0.9580" stop-color="#dedede"/><stop offset="1.0000" stop-color="#e0e0e0"/></linearGradient>
<rect x="280.80" y="33.00" width="13.20" height="143.00" fill="url(#g9)" />
<linearGradient id="g10" gradientUnits="userSpaceOnUse" x1="0" y1="33.00" x2="0" y2="176.00"><stop offset="0.0000" stop-color="#b8b8b8"/><stop offset="0.0699" stop-color="#c4c4c4"/><stop offset="0.0734" stop-color="#bfbfbf"/><stop offset="0.0769" stop-color="#a9a9a9"/><stop offset="0.0804" stop-color="#9e9e9e"/><stop offset="0.0839" stop-color="#a0a0a0"/><stop offset="0.0874" stop-color="#b5b5b5"/><stop offset="0.0909" stop-color="#c6c6c6"/><stop offset="0.1259" stop-color="#cccccc"/><stop offset="0.1678" stop-color="#cbcbcb"/><stop offset="0.1713" stop-color="#c9c9c9"/><stop offset="0.1748" stop-color="#bababa"/><stop offset="0.1783" stop-color="#868686"/><stop offset="0.1818" stop-color="#373737"/><stop offset="0.1853" stop-color="#0c0c0c"/><stop offset="0.1958" stop-color="#0c0c0c"/><stop offset="0.1993" stop-color="#454545"/><stop offset="0.2028" stop-color="#929292"/><stop offset="0.2063" stop-color="#bbbbbb"/><stop offset="0.2098" stop-color="#c1c1c1"/><stop offset="0.2168" stop-color="#b2b2b2"/><stop offset="0.2238" stop-color="#afafaf"/><stop offset="0.2273" stop-color="#b2b2b2"/><stop offset="0.2343" stop-color="#c0c0c0"/><stop offset="0.2413" stop-color="#c2c2c2"/><stop offset="0.2587" stop-color="#bebebe"/><stop offset="0.2622" stop-color="#bcbcbc"/><stop offset="0.2727" stop-color="#c1c1c1"/><stop offset="0.3252" stop-color="#c4c4c4"/><stop offset="0.3287" stop-color="#c1c1c1"/><stop offset="0.3392" stop-color="#c6c6c6"/><stop offset="0.3497" stop-color="#c6c6c6"/><stop offset="0.3566" stop-color="#bcbcbc"/><stop offset="0.3601" stop-color="#c3c3c3"/><stop offset="0.3671" stop-color="#c6c6c6"/><stop offset="0.3706" stop-color="#c5c5c5"/><stop offset="0.3741" stop-color="#b3b3b3"/><stop offset="0.3776" stop-color="#8d8d8d"/><stop offset="0.3811" stop-color="#7c7c7c"/><stop offset="0.3846" stop-color="#7b7b7b"/><stop offset="0.3881" stop-color="#8e8e8e"/><stop offset="0.3916" stop-color="#b6b6b6"/><stop offset="0.3951" stop-color="#c6c6c6"/><stop offset="0.3986" stop-color="#c6c6c6"/><stop offset="0.4021" stop-color="#c3c3c3"/><stop offset="0.4161" stop-color="#c7c7c7"/><stop offset="0.4336" stop-color="#c7c7c7"/><stop offset="0.4406" stop-color="#c2c2c2"/><stop offset="0.4476" stop-color="#c7c7c7"/><stop offset="0.4615" stop-color="#c5c5c5"/><stop offset="0.4650" stop-color="#c2c2c2"/><stop offset="0.4720" stop-color="#c7c7c7"/><stop offset="0.4965" stop-color="#c7c7c7"/><stop offset="0.5035" stop-color="#c4c4c4"/><stop offset="0.5105" stop-color="#c8c8c8"/><stop offset="0.5280" stop-color="#c6c6c6"/><stop offset="0.5315" stop-color="#c2c2c2"/><stop offset="0.5350" stop-color="#c5c5c5"/><stop offset="0.5385" stop-color="#c5c5c5"/><stop offset="0.5420" stop-color="#b8b8b8"/><stop offset="0.5455" stop-color="#939393"/><stop offset="0.5524" stop-color="#151515"/><stop offset="0.5559" stop-color="#0c0c0c"/><stop offset="0.5699" stop-color="#0d0d0d"/><stop offset="0.5734" stop-color="#454545"/><stop offset="0.5769" stop-color="#757575"/><stop offset="0.5804" stop-color="#8a8a8a"/><stop offset="0.5839" stop-color="#8b8b8b"/><stop offset="0.5909" stop-color="#858585"/><stop offset="0.5944" stop-color="#878787"/><stop offset="0.6014" stop-color="#969696"/><stop offset="0.6084" stop-color="#a9a9a9"/><stop offset="0.6119" stop-color="#aeaeae"/><stop offset="0.6154" stop-color="#afafaf"/><stop offset="0.6189" stop-color="#aaaaaa"/><stop offset="0.6224" stop-color="#9f9f9f"/><stop offset="0.6294" stop-color="#7c7c7c"/><stop offset="0.6329" stop-color="#696969"/><stop offset="0.6364" stop-color="#5b5b5b"/><stop offset="0.6399" stop-color="#555555"/><stop offset="0.6434" stop-color="#585858"/><stop offset="0.6469" stop-color="#646464"/><stop offset="0.6538" stop-color="#8a8a8a"/><stop offset="0.6608" stop-color="#b0b0b0"/><stop offset="0.6643" stop-color="#bdbdbd"/><stop offset="0.6678" stop-color="#c7c7c7"/><stop offset="0.6748" stop-color="#d1d1d1"/><stop offset="0.6888" stop-color="#d7d7d7"/><stop offset="0.8322" stop-color="#dddddd"/><stop offset="0.8462" stop-color="#d8d8d8"/><stop offset="0.8671" stop-color="#dedede"/><stop offset="0.8916" stop-color="#dadada"/><stop offset="0.9126" stop-color="#dedede"/><stop offset="0.9336" stop-color="#dcdcdc"/><stop offset="0.9650" stop-color="#dfdfdf"/><stop offset="1.0000" stop-color="#e0e0e0"/></linearGradient>
<rect x="295.60" y="33.00" width="12.20" height="143.00" fill="url(#g10)" />
<linearGradient id="g11" gradientUnits="userSpaceOnUse" x1="0" y1="33.00" x2="0" y2="176.00"><stop offset="0.0000" stop-color="#bebebe"/><stop offset="0.0594" stop-color="#c4c4c4"/><stop offset="0.0629" stop-color="#c1c1c1"/><stop offset="0.0664" stop-color="#a6a6a6"/><stop offset="0.0699" stop-color="#737373"/><stop offset="0.0734" stop-color="#595959"/><stop offset="0.0769" stop-color="#585858"/><stop offset="0.0804" stop-color="#6b6b6b"/><stop offset="0.0839" stop-color="#9d9d9d"/><stop offset="0.0874" stop-color="#bfbfbf"/><stop offset="0.0909" stop-color="#c5c5c5"/><stop offset="0.1678" stop-color="#c8c8c8"/><stop offset="0.1713" stop-color="#c5c5c5"/><stop offset="0.1748" stop-color="#b1b1b1"/><stop offset="0.1783" stop-color="#767676"/><stop offset="0.1818" stop-color="#262626"/><stop offset="0.1853" stop-color="#0c0c0c"/><stop offset="0.1958" stop-color="#0d0d0d"/><stop offset="0.2028" stop-color="#9f9f9f"/><stop offset="0.2063" stop-color="#c2c2c2"/><stop offset="0.2098" stop-color="#c8c8c8"/><stop offset="0.2133" stop-color="#bfbfbf"/><stop offset="0.2168" stop-color="#afafaf"/><stop offset="0.2203" stop-color="#acacac"/><stop offset="0.2238" stop-color="#b0b0b0"/><stop offset="0.2273" stop-color="#bfbfbf"/><stop offset="0.2308" stop-color="#c9c9c9"/><stop offset="0.2727" stop-color="#cbcbcb"/><stop offset="0.2797" stop-color="#c6c6c6"/><stop offset="0.2867" stop-color="#cccccc"/><stop offset="0.3706" stop-color="#cdcdcd"/><stop offset="0.3741" stop-color="#c2c2c2"/><stop offset="0.3776" stop-color="#9c9c9c"/><stop offset="0.3811" stop-color="#898989"/><stop offset="0.3846" stop-color="#8a8a8a"/><stop offset="0.3881" stop-color="#a4a4a4"/><stop offset="0.3916" stop-color="#c7c7c7"/><stop offset="0.3951" stop-color="#cecece"/><stop offset="0.4091" stop-color="#cecece"/><stop offset="0.4161" stop-color="#c8c8c8"/><stop offset="0.4231" stop-color="#cdcdcd"/><stop offset="0.4336" stop-color="#cbcbcb"/><stop offset="0.4406" stop-color="#cfcfcf"/><stop offset="0.4476" stop-color="#cecece"/><stop offset="0.4545" stop-color="#d0d0d0"/><stop offset="0.4615" stop-color="#cdcdcd"/><stop offset="0.4685" stop-color="#d0d0d0"/><stop offset="0.5000" stop-color="#d1d1d1"/><stop offset="0.5070" stop-color="#cecece"/><stop offset="0.5140" stop-color="#d1d1d1"/><stop offset="0.5385" stop-color="#d2d2d2"/><stop offset="0.5420" stop-color="#cdcdcd"/><stop offset="0.5455" stop-color="#b3b3b3"/><stop offset="0.5490" stop-color="#707070"/><stop offset="0.5524" stop-color="#232323"/><stop offset="0.5559" stop-color="#0c0c0c"/><stop offset="0.5629" stop-color="#0c0c0c"/><stop offset="0.5664" stop-color="#242424"/><stop offset="0.5699" stop-color="#717171"/><stop offset="0.5734" stop-color="#b0b0b0"/><stop offset="0.5769" stop-color="#bcbcbc"/><stop offset="0.5804" stop-color="#b0b0b0"/><stop offset="0.5839" stop-color="#a9a9a9"/><stop offset="0.5874" stop-color="#a9a9a9"/><stop offset="0.5909" stop-color="#afafaf"/><stop offset="0.5979" stop-color="#d0d0d0"/><stop offset="0.6014" stop-color="#d6d6d6"/><stop offset="0.6224" stop-color="#d8d8d8"/><stop offset="0.6329" stop-color="#cfcfcf"/><stop offset="0.6399" stop-color="#cfcfcf"/><stop offset="0.6503" stop-color="#dadada"/><stop offset="0.6993" stop-color="#dedede"/><stop offset="1.0000" stop-color="#e0e0e0"/></linearGradient>
<rect x="308.40" y="33.00" width="12.40" height="143.00" fill="url(#g11)" />
<path d="M320,111.6 L325.5,112.2 L325.5,114.2 L320,115.2 Z" fill="#181818"/>
</g>
<line x1="330.50" y1="112.70" x2="342.70" y2="112.70" stroke="#222" stroke-width="0.8" />
<path d="M327.50,112.70 L331.70,111.00 L331.70,114.40 Z" fill="#222"/>
<line x1="330.50" y1="124.60" x2="342.70" y2="124.60" stroke="#222" stroke-width="0.8" />
<path d="M327.50,124.60 L331.70,122.90 L331.70,126.30 Z" fill="#222"/>
<text x="346.00" y="115.21" font-size="7.3" text-anchor="start" fill="#111111" stroke="#111111" stroke-width="0.2" >Histone H3</text>
<text x="346.00" y="127.11" font-size="7.3" text-anchor="start" fill="#111111" stroke="#111111" stroke-width="0.2" >H3 Fragment</text>
<text x="273.60" y="203.23" font-size="12.3" text-anchor="start" font-weight="bold" fill="#111" stroke="#111" stroke-width="0.2" >C</text>
<text x="353.70" y="205.20" font-size="7.55" text-anchor="start" fill="#111111" stroke="#111111" stroke-width="0.2" >APC + LP14 <tspan font-size="7.1" fill="#3a3a3a">(min)</tspan></text>
<line x1="333.70" y1="209.50" x2="433.30" y2="209.50" stroke="#7088a8" stroke-width="1.5" />
<text x="298.00" y="218.25" font-size="7.4" text-anchor="start" fill="#111111" stroke="#111111" stroke-width="0.2" >Mr</text>
<text x="321.00" y="218.25" font-size="7.4" text-anchor="middle" fill="#111111" stroke="#111111" stroke-width="0.2" >MW</text>
<text x="340.80" y="218.05" font-size="7.4" text-anchor="middle" fill="#111111" stroke="#111111" stroke-width="0.2" >0</text>
<text x="353.20" y="218.05" font-size="7.4" text-anchor="middle" fill="#111111" stroke="#111111" stroke-width="0.2" >7</text>
<text x="366.00" y="218.05" font-size="7.4" text-anchor="middle" fill="#111111" stroke="#111111" stroke-width="0.2" >15</text>
<text x="379.70" y="218.05" font-size="7.4" text-anchor="middle" fill="#111111" stroke="#111111" stroke-width="0.2" >30</text>
<text x="394.40" y="218.05" font-size="7.4" text-anchor="middle" fill="#111111" stroke="#111111" stroke-width="0.2" >45</text>
<text x="407.50" y="218.05" font-size="7.4" text-anchor="middle" fill="#111111" stroke="#111111" stroke-width="0.2" >60</text>
<text x="419.70" y="218.05" font-size="7.4" text-anchor="middle" fill="#111111" stroke="#111111" stroke-width="0.2" >90</text>
<text x="431.20" y="218.05" font-size="7.4" text-anchor="middle" fill="#111111" stroke="#111111" stroke-width="0.2" >120</text>
<text x="447.60" y="218.05" font-size="7.4" text-anchor="middle" fill="#111111" stroke="#111111" stroke-width="0.2" >H3</text>
<text x="307.00" y="230.55" font-size="7.4" text-anchor="end" fill="#111111" stroke="#111111" stroke-width="0.2" >250</text>
<text x="307.00" y="236.75" font-size="7.4" text-anchor="end" fill="#111111" stroke="#111111" stroke-width="0.2" >150</text>
<text x="307.00" y="242.55" font-size="7.4" text-anchor="end" fill="#111111" stroke="#111111" stroke-width="0.2" >100</text>
<text x="307.00" y="248.85" font-size="7.4" text-anchor="end" fill="#111111" stroke="#111111" stroke-width="0.2" >75</text>
<text x="307.00" y="261.75" font-size="7.4" text-anchor="end" fill="#111111" stroke="#111111" stroke-width="0.2" >50</text>
<text x="307.00" y="271.95" font-size="7.4" text-anchor="end" fill="#111111" stroke="#111111" stroke-width="0.2" >37</text>
<text x="307.00" y="289.45" font-size="7.4" text-anchor="end" fill="#111111" stroke="#111111" stroke-width="0.2" >25</text>
<text x="307.00" y="296.85" font-size="7.4" text-anchor="end" fill="#111111" stroke="#111111" stroke-width="0.2" >20</text>
<text x="307.00" y="310.25" font-size="7.4" text-anchor="end" fill="#111111" stroke="#111111" stroke-width="0.2" >15</text>
<text x="307.00" y="325.45" font-size="7.4" text-anchor="end" fill="#111111" stroke="#111111" stroke-width="0.2" >10</text>
<linearGradient id="g12" gradientUnits="userSpaceOnUse" x1="0" y1="219.30" x2="0" y2="349.30"><stop offset="0.0000" stop-color="#b6b6b6"/><stop offset="0.0538" stop-color="#cccccc"/><stop offset="0.1385" stop-color="#d8d8d8"/><stop offset="0.3385" stop-color="#e0e0e0"/><stop offset="1.0000" stop-color="#dfdfdf"/></linearGradient>
<rect x="313.20" y="219.30" width="138.80" height="130.00" fill="url(#g12)" />
<g filter="url(#lb)">
<linearGradient id="g13" gradientUnits="userSpaceOnUse" x1="0" y1="220.00" x2="0" y2="349.50"><stop offset="0.0000" stop-color="#c0c0c0"/><stop offset="0.0618" stop-color="#c2c2c2"/><stop offset="0.0656" stop-color="#b5b5b5"/><stop offset="0.0695" stop-color="#7e7e7e"/><stop offset="0.0734" stop-color="#3f3f3f"/><stop offset="0.0772" stop-color="#2e2e2e"/><stop offset="0.0811" stop-color="#343434"/><stop offset="0.0849" stop-color="#626262"/><stop offset="0.0888" stop-color="#a6a6a6"/><stop offset="0.0927" stop-color="#bfbfbf"/><stop offset="0.0965" stop-color="#a4a4a4"/><stop offset="0.1004" stop-color="#5c5c5c"/><stop offset="0.1042" stop-color="#2b2b2b"/><stop offset="0.1081" stop-color="#262626"/><stop offset="0.1120" stop-color="#393939"/><stop offset="0.1158" stop-color="#7c7c7c"/><stop offset="0.1197" stop-color="#b7b7b7"/><stop offset="0.1236" stop-color="#c2c2c2"/><stop offset="0.1274" stop-color="#a4a4a4"/><stop offset="0.1313" stop-color="#828282"/><stop offset="0.1351" stop-color="#7e7e7e"/><stop offset="0.1390" stop-color="#9a9a9a"/><stop offset="0.1429" stop-color="#bfbfbf"/><stop offset="0.1467" stop-color="#c4c4c4"/><stop offset="0.1506" stop-color="#c1c1c1"/><stop offset="0.1544" stop-color="#989898"/><stop offset="0.1583" stop-color="#5a5a5a"/><stop offset="0.1622" stop-color="#464646"/><stop offset="0.1660" stop-color="#4c4c4c"/><stop offset="0.1699" stop-color="#7d7d7d"/><stop offset="0.1737" stop-color="#b8b8b8"/><stop offset="0.1776" stop-color="#c8c8c8"/><stop offset="0.1892" stop-color="#c8c8c8"/><stop offset="0.1931" stop-color="#bbbbbb"/><stop offset="0.1969" stop-color="#838383"/><stop offset="0.2008" stop-color="#313131"/><stop offset="0.2046" stop-color="#0c0c0c"/><stop offset="0.2085" stop-color="#0c0c0c"/><stop offset="0.2124" stop-color="#222222"/><stop offset="0.2201" stop-color="#b4b4b4"/><stop offset="0.2239" stop-color="#c8c8c8"/><stop offset="0.2510" stop-color="#c9c9c9"/><stop offset="0.2548" stop-color="#c6c6c6"/><stop offset="0.2664" stop-color="#cacaca"/><stop offset="0.2819" stop-color="#cacaca"/><stop offset="0.2857" stop-color="#c0c0c0"/><stop offset="0.2896" stop-color="#939393"/><stop offset="0.2934" stop-color="#474747"/><stop offset="0.2973" stop-color="#151515"/><stop offset="0.3012" stop-color="#0c0c0c"/><stop offset="0.3050" stop-color="#111111"/><stop offset="0.3089" stop-color="#414141"/><stop offset="0.3127" stop-color="#929292"/><stop offset="0.3166" stop-color="#bfbfbf"/><stop offset="0.3205" stop-color="#c6c6c6"/><stop offset="0.3282" stop-color="#cbcbcb"/><stop offset="0.3668" stop-color="#cbcbcb"/><stop offset="0.3707" stop-color="#bbbbbb"/><stop offset="0.3745" stop-color="#838383"/><stop offset="0.3784" stop-color="#434343"/><stop offset="0.3822" stop-color="#2c2c2c"/><stop offset="0.3861" stop-color="#2b2b2b"/><stop offset="0.3900" stop-color="#4c4c4c"/><stop offset="0.3938" stop-color="#929292"/><stop offset="0.3977" stop-color="#c1c1c1"/><stop offset="0.4015" stop-color="#cccccc"/><stop offset="0.4942" stop-color="#cecece"/><stop offset="0.4981" stop-color="#c1c1c1"/><stop offset="0.5019" stop-color="#909090"/><stop offset="0.5058" stop-color="#4a4a4a"/><stop offset="0.5097" stop-color="#252525"/><stop offset="0.5135" stop-color="#222222"/><stop offset="0.5174" stop-color="#2f2f2f"/><stop offset="0.5212" stop-color="#656565"/><stop offset="0.5251" stop-color="#aaaaaa"/><stop offset="0.5290" stop-color="#cbcbcb"/><stop offset="0.5328" stop-color="#d1d1d1"/><stop offset="0.5444" stop-color="#d2d2d2"/><stop offset="0.5483" stop-color="#c7c7c7"/><stop offset="0.5521" stop-color="#969696"/><stop offset="0.5560" stop-color="#505050"/><stop offset="0.5598" stop-color="#303030"/><stop offset="0.5637" stop-color="#2f2f2f"/><stop offset="0.5676" stop-color="#464646"/><stop offset="0.5714" stop-color="#888888"/><stop offset="0.5753" stop-color="#c2c2c2"/><stop offset="0.5792" stop-color="#d3d3d3"/><stop offset="0.6525" stop-color="#d7d7d7"/><stop offset="0.6564" stop-color="#d3d3d3"/><stop offset="0.6602" stop-color="#bcbcbc"/><stop offset="0.6641" stop-color="#949494"/><stop offset="0.6680" stop-color="#7c7c7c"/><stop offset="0.6718" stop-color="#797979"/><stop offset="0.6757" stop-color="#828282"/><stop offset="0.6834" stop-color="#cacaca"/><stop offset="0.6873" stop-color="#d7d7d7"/><stop offset="0.7799" stop-color="#dbdbdb"/><stop offset="0.7838" stop-color="#d5d5d5"/><stop offset="0.7876" stop-color="#b9b9b9"/><stop offset="0.7915" stop-color="#888888"/><stop offset="0.7954" stop-color="#5c5c5c"/><stop offset="0.7992" stop-color="#4c4c4c"/><stop offset="0.8031" stop-color="#4c4c4c"/><stop offset="0.8069" stop-color="#575757"/><stop offset="0.8108" stop-color="#7e7e7e"/><stop offset="0.8147" stop-color="#b1b1b1"/><stop offset="0.8185" stop-color="#d2d2d2"/><stop offset="0.8224" stop-color="#dcdcdc"/><stop offset="1.0000" stop-color="#e0e0e0"/></linearGradient>
<rect x="315.00" y="220.00" width="11.20" height="129.50" fill="url(#g13)" />
<linearGradient id="g14" gradientUnits="userSpaceOnUse" x1="0" y1="220.00" x2="0" y2="349.50"><stop offset="0.0000" stop-color="#b8b8b8"/><stop offset="0.0502" stop-color="#c8c8c8"/><stop offset="0.1004" stop-color="#cccccc"/><stop offset="0.1042" stop-color="#c5c5c5"/><stop offset="0.1081" stop-color="#b0b0b0"/><stop offset="0.1120" stop-color="#aaaaaa"/><stop offset="0.1158" stop-color="#b1b1b1"/><stop offset="0.1197" stop-color="#c7c7c7"/><stop offset="0.1236" stop-color="#cecece"/><stop offset="0.1622" stop-color="#cfcfcf"/><stop offset="0.2124" stop-color="#cacaca"/><stop offset="0.2162" stop-color="#c6c6c6"/><stop offset="0.2201" stop-color="#9d9d9d"/><stop offset="0.2239" stop-color="#3c3c3c"/><stop offset="0.2278" stop-color="#0c0c0c"/><stop offset="0.2355" stop-color="#0c0c0c"/><stop offset="0.2394" stop-color="#656565"/><stop offset="0.2432" stop-color="#b4b4b4"/><stop offset="0.2471" stop-color="#c6c6c6"/><stop offset="0.2510" stop-color="#bebebe"/><stop offset="0.2548" stop-color="#b0b0b0"/><stop offset="0.2587" stop-color="#acacac"/><stop offset="0.2625" stop-color="#acacac"/><stop offset="0.2664" stop-color="#bdbdbd"/><stop offset="0.2703" stop-color="#c8c8c8"/><stop offset="0.2934" stop-color="#c9c9c9"/><stop offset="0.3012" stop-color="#c5c5c5"/><stop offset="0.3089" stop-color="#cacaca"/><stop offset="0.3320" stop-color="#cacaca"/><stop offset="0.3398" stop-color="#c4c4c4"/><stop offset="0.3475" stop-color="#c9c9c9"/><stop offset="0.3514" stop-color="#c7c7c7"/><stop offset="0.3668" stop-color="#cacaca"/><stop offset="0.3861" stop-color="#c8c8c8"/><stop offset="0.4054" stop-color="#cacaca"/><stop offset="0.4093" stop-color="#c8c8c8"/><stop offset="0.4131" stop-color="#b4b4b4"/><stop offset="0.4170" stop-color="#9b9b9b"/><stop offset="0.4208" stop-color="#989898"/><stop offset="0.4247" stop-color="#a5a5a5"/><stop offset="0.4286" stop-color="#c2c2c2"/><stop offset="0.4324" stop-color="#cacaca"/><stop offset="0.4556" stop-color="#c9c9c9"/><stop offset="0.4595" stop-color="#c4c4c4"/><stop offset="0.4633" stop-color="#c5c5c5"/><stop offset="0.4672" stop-color="#c9c9c9"/><stop offset="0.5830" stop-color="#c9c9c9"/><stop offset="0.5869" stop-color="#bebebe"/><stop offset="0.5907" stop-color="#939393"/><stop offset="0.5946" stop-color="#454545"/><stop offset="0.5985" stop-color="#0c0c0c"/><stop offset="0.6100" stop-color="#0c0c0c"/><stop offset="0.6139" stop-color="#333333"/><stop offset="0.6178" stop-color="#818181"/><stop offset="0.6216" stop-color="#afafaf"/><stop offset="0.6255" stop-color="#b6b6b6"/><stop offset="0.6332" stop-color="#adadad"/><stop offset="0.6371" stop-color="#b0b0b0"/><stop offset="0.6486" stop-color="#c6c6c6"/><stop offset="0.6564" stop-color="#cbcbcb"/><stop offset="0.6718" stop-color="#c7c7c7"/><stop offset="0.6873" stop-color="#bababa"/><stop offset="0.6950" stop-color="#bcbcbc"/><stop offset="0.7104" stop-color="#d6d6d6"/><stop offset="0.7220" stop-color="#dedede"/><stop offset="0.8919" stop-color="#e0e0e0"/><stop offset="1.0000" stop-color="#e0e0e0"/></linearGradient>
<rect x="328.10" y="220.00" width="12.00" height="129.50" fill="url(#g14)" />
<linearGradient id="g15" gradientUnits="userSpaceOnUse" x1="0" y1="220.00" x2="0" y2="349.50"><stop offset="0.0000" stop-color="#b8b8b8"/><stop offset="0.0502" stop-color="#c8c8c8"/><stop offset="0.0965" stop-color="#cccccc"/><stop offset="0.1004" stop-color="#cacaca"/><stop offset="0.1042" stop-color="#b8b8b8"/><stop offset="0.1081" stop-color="#aaaaaa"/><stop offset="0.1120" stop-color="#ababab"/><stop offset="0.1158" stop-color="#bebebe"/><stop offset="0.1197" stop-color="#cccccc"/><stop offset="0.1622" stop-color="#cfcfcf"/><stop offset="0.2124" stop-color="#cacaca"/><stop offset="0.2162" stop-color="#c6c6c6"/><stop offset="0.2201" stop-color="#9d9d9d"/><stop offset="0.2239" stop-color="#3c3c3c"/><stop offset="0.2278" stop-color="#0c0c0c"/><stop offset="0.2355" stop-color="#0c0c0c"/><stop offset="0.2394" stop-color="#656565"/><stop offset="0.2432" stop-color="#b4b4b4"/><stop offset="0.2471" stop-color="#c6c6c6"/><stop offset="0.2510" stop-color="#bebebe"/><stop offset="0.2548" stop-color="#b0b0b0"/><stop offset="0.2587" stop-color="#adadad"/><stop offset="0.2625" stop-color="#b0b0b0"/><stop offset="0.2664" stop-color="#bfbfbf"/><stop offset="0.2703" stop-color="#c8c8c8"/><stop offset="0.3745" stop-color="#cacaca"/><stop offset="0.3822" stop-color="#c7c7c7"/><stop offset="0.4015" stop-color="#cacaca"/><stop offset="0.4054" stop-color="#cacaca"/><stop offset="0.4093" stop-color="#c2c2c2"/><stop offset="0.4131" stop-color="#a5a5a5"/><stop offset="0.4170" stop-color="#989898"/><stop offset="0.4208" stop-color="#9c9c9c"/><stop offset="0.4247" stop-color="#b8b8b8"/><stop offset="0.4286" stop-color="#c9c9c9"/><stop offset="0.4363" stop-color="#c8c8c8"/><stop offset="0.4402" stop-color="#c7c7c7"/><stop offset="0.4440" stop-color="#c9c9c9"/><stop offset="0.4517" stop-color="#c3c3c3"/><stop offset="0.4595" stop-color="#c5c5c5"/><stop offset="0.4672" stop-color="#cacaca"/><stop offset="0.5212" stop-color="#c9c9c9"/><stop offset="0.5251" stop-color="#c4c4c4"/><stop offset="0.5290" stop-color="#c4c4c4"/><stop offset="0.5328" stop-color="#c9c9c9"/><stop offset="0.5676" stop-color="#c9c9c9"/><stop offset="0.5714" stop-color="#c5c5c5"/><stop offset="0.5792" stop-color="#cacaca"/><stop offset="0.5830" stop-color="#c9c9c9"/><stop offset="0.5869" stop-color="#bfbfbf"/><stop offset="0.5907" stop-color="#959595"/><stop offset="0.5946" stop-color="#484848"/><stop offset="0.5985" stop-color="#0c0c0c"/><stop offset="0.6100" stop-color="#0c0c0c"/><stop offset="0.6139" stop-color="#373737"/><stop offset="0.6178" stop-color="#838383"/><stop offset="0.6216" stop-color="#afafaf"/><stop offset="0.6255" stop-color="#b6b6b6"/><stop offset="0.6332" stop-color="#adadad"/><stop offset="0.6371" stop-color="#b0b0b0"/><stop offset="0.6486" stop-color="#c6c6c6"/><stop offset="0.6564" stop-color="#cacaca"/><stop offset="0.6680" stop-color="#c5c5c5"/><stop offset="0.6757" stop-color="#bababa"/><stop offset="0.6873" stop-color="#a4a4a4"/><stop offset="0.6911" stop-color="#a2a2a2"/><stop offset="0.6950" stop-color="#a4a4a4"/><stop offset="0.7027" stop-color="#b5b5b5"/><stop offset="0.7104" stop-color="#c9c9c9"/><stop offset="0.7181" stop-color="#d4d4d4"/><stop offset="0.7297" stop-color="#dadada"/><stop offset="0.9073" stop-color="#e0e0e0"/><stop offset="1.0000" stop-color="#e0e0e0"/></linearGradient>
<rect x="341.50" y="220.00" width="11.70" height="129.50" fill="url(#g15)" />
<linearGradient id="g16" gradientUnits="userSpaceOnUse" x1="0" y1="220.00" x2="0" y2="349.50"><stop offset="0.0000" stop-color="#b8b8b8"/><stop offset="0.0502" stop-color="#c8c8c8"/><stop offset="0.0965" stop-color="#cbcbcb"/><stop offset="0.1004" stop-color="#c1c1c1"/><stop offset="0.1042" stop-color="#adadad"/><stop offset="0.1081" stop-color="#aaaaaa"/><stop offset="0.1120" stop-color="#b4b4b4"/><stop offset="0.1158" stop-color="#c9c9c9"/><stop offset="0.1197" stop-color="#cdcdcd"/><stop offset="0.1622" stop-color="#cfcfcf"/><stop offset="0.2124" stop-color="#cacaca"/><stop offset="0.2162" stop-color="#c2c2c2"/><stop offset="0.2201" stop-color="#8d8d8d"/><stop offset="0.2239" stop-color="#292929"/><stop offset="0.2278" stop-color="#0c0c0c"/><stop offset="0.2317" stop-color="#0c0c0c"/><stop offset="0.2355" stop-color="#181818"/><stop offset="0.2394" stop-color="#797979"/><stop offset="0.2432" stop-color="#bcbcbc"/><stop offset="0.2471" stop-color="#c6c6c6"/><stop offset="0.2548" stop-color="#aeaeae"/><stop offset="0.2587" stop-color="#adadad"/><stop offset="0.2625" stop-color="#b2b2b2"/><stop offset="0.2664" stop-color="#c2c2c2"/><stop offset="0.2703" stop-color="#c9c9c9"/><stop offset="0.2934" stop-color="#c8c8c8"/><stop offset="0.2973" stop-color="#c5c5c5"/><stop offset="0.3089" stop-color="#cacaca"/><stop offset="0.3320" stop-color="#c9c9c9"/><stop offset="0.3359" stop-color="#c7c7c7"/><stop offset="0.3475" stop-color="#cacaca"/><stop offset="0.3784" stop-color="#cacaca"/><stop offset="0.3861" stop-color="#c7c7c7"/><stop offset="0.3938" stop-color="#cacaca"/><stop offset="0.4015" stop-color="#cacaca"/><stop offset="0.4054" stop-color="#c8c8c8"/><stop offset="0.4131" stop-color="#9a9a9a"/><stop offset="0.4170" stop-color="#999999"/><stop offset="0.4208" stop-color="#ababab"/><stop offset="0.4247" stop-color="#c5c5c5"/><stop offset="0.4286" stop-color="#cacaca"/><stop offset="0.4595" stop-color="#c8c8c8"/><stop offset="0.4672" stop-color="#c4c4c4"/><stop offset="0.4749" stop-color="#cacaca"/><stop offset="0.5483" stop-color="#c9c9c9"/><stop offset="0.5560" stop-color="#c9c9c9"/><stop offset="0.5676" stop-color="#cacaca"/><stop offset="0.5753" stop-color="#c3c3c3"/><stop offset="0.5830" stop-color="#c8c8c8"/><stop offset="0.5869" stop-color="#bfbfbf"/><stop offset="0.5907" stop-color="#999999"/><stop offset="0.5946" stop-color="#525252"/><stop offset="0.5985" stop-color="#151515"/><stop offset="0.6023" stop-color="#0c0c0c"/><stop offset="0.6100" stop-color="#0e0e0e"/><stop offset="0.6139" stop-color="#424242"/><stop offset="0.6178" stop-color="#888888"/><stop offset="0.6216" stop-color="#b1b1b1"/><stop offset="0.6255" stop-color="#b6b6b6"/><stop offset="0.6332" stop-color="#adadad"/><stop offset="0.6371" stop-color="#b0b0b0"/><stop offset="0.6486" stop-color="#c6c6c6"/><stop offset="0.6564" stop-color="#cacaca"/><stop offset="0.6641" stop-color="#c7c7c7"/><stop offset="0.6718" stop-color="#bcbcbc"/><stop offset="0.6834" stop-color="#9e9e9e"/><stop offset="0.6873" stop-color="#959595"/><stop offset="0.6911" stop-color="#929292"/><stop offset="0.6950" stop-color="#949494"/><stop offset="0.6988" stop-color="#9c9c9c"/><stop offset="0.7104" stop-color="#bebebe"/><stop offset="0.7181" stop-color="#cccccc"/><stop offset="0.7297" stop-color="#d4d4d4"/><stop offset="0.8726" stop-color="#dfdfdf"/><stop offset="1.0000" stop-color="#e0e0e0"/></linearGradient>
<rect x="355.50" y="220.00" width="11.70" height="129.50" fill="url(#g16)" />
<linearGradient id="g17" gradientUnits="userSpaceOnUse" x1="0" y1="220.00" x2="0" y2="349.50"><stop offset="0.0000" stop-color="#b8b8b8"/><stop offset="0.0502" stop-color="#c8c8c8"/><stop offset="0.0927" stop-color="#cbcbcb"/><stop offset="0.0965" stop-color="#c8c8c8"/><stop offset="0.1004" stop-color="#b3b3b3"/><stop offset="0.1042" stop-color="#a9a9a9"/><stop offset="0.1081" stop-color="#adadad"/><stop offset="0.1120" stop-color="#c2c2c2"/><stop offset="0.1158" stop-color="#cdcdcd"/><stop offset="0.1622" stop-color="#cfcfcf"/><stop offset="0.2124" stop-color="#cacaca"/><stop offset="0.2162" stop-color="#c2c2c2"/><stop offset="0.2201" stop-color="#8d8d8d"/><stop offset="0.2239" stop-color="#292929"/><stop offset="0.2278" stop-color="#0c0c0c"/><stop offset="0.2317" stop-color="#0c0c0c"/><stop offset="0.2355" stop-color="#181818"/><stop offset="0.2394" stop-color="#797979"/><stop offset="0.2432" stop-color="#bcbcbc"/><stop offset="0.2471" stop-color="#c6c6c6"/><stop offset="0.2548" stop-color="#aeaeae"/><stop offset="0.2587" stop-color="#adadad"/><stop offset="0.2625" stop-color="#b2b2b2"/><stop offset="0.2664" stop-color="#c2c2c2"/><stop offset="0.2703" stop-color="#c9c9c9"/><stop offset="0.2973" stop-color="#c9c9c9"/><stop offset="0.3012" stop-color="#c6c6c6"/><stop offset="0.3127" stop-color="#cacaca"/><stop offset="0.3514" stop-color="#c9c9c9"/><stop offset="0.3552" stop-color="#c6c6c6"/><stop offset="0.3668" stop-color="#cacaca"/><stop offset="0.3938" stop-color="#c9c9c9"/><stop offset="0.4015" stop-color="#c8c8c8"/><stop offset="0.4054" stop-color="#bababa"/><stop offset="0.4093" stop-color="#9e9e9e"/><stop offset="0.4131" stop-color="#989898"/><stop offset="0.4170" stop-color="#a0a0a0"/><stop offset="0.4208" stop-color="#bdbdbd"/><stop offset="0.4247" stop-color="#cacaca"/><stop offset="0.4517" stop-color="#c9c9c9"/><stop offset="0.4556" stop-color="#c7c7c7"/><stop offset="0.4710" stop-color="#cacaca"/><stop offset="0.5097" stop-color="#cacaca"/><stop offset="0.5174" stop-color="#c5c5c5"/><stop offset="0.5251" stop-color="#cacaca"/><stop offset="0.5753" stop-color="#c9c9c9"/><stop offset="0.5792" stop-color="#c4c4c4"/><stop offset="0.5869" stop-color="#c0c0c0"/><stop offset="0.5907" stop-color="#a0a0a0"/><stop offset="0.5946" stop-color="#646464"/><stop offset="0.5985" stop-color="#303030"/><stop offset="0.6023" stop-color="#1d1d1d"/><stop offset="0.6062" stop-color="#1c1c1c"/><stop offset="0.6100" stop-color="#292929"/><stop offset="0.6139" stop-color="#565656"/><stop offset="0.6178" stop-color="#919191"/><stop offset="0.6216" stop-color="#b3b3b3"/><stop offset="0.6255" stop-color="#b6b6b6"/><stop offset="0.6293" stop-color="#b0b0b0"/><stop offset="0.6332" stop-color="#adadad"/><stop offset="0.6371" stop-color="#b0b0b0"/><stop offset="0.6486" stop-color="#c6c6c6"/><stop offset="0.6564" stop-color="#cacaca"/><stop offset="0.6641" stop-color="#c6c6c6"/><stop offset="0.6718" stop-color="#b8b8b8"/><stop offset="0.6834" stop-color="#949494"/><stop offset="0.6873" stop-color="#8a8a8a"/><stop offset="0.6911" stop-color="#868686"/><stop offset="0.6950" stop-color="#888888"/><stop offset="0.6988" stop-color="#909090"/><stop offset="0.7104" stop-color="#b6b6b6"/><stop offset="0.7181" stop-color="#c7c7c7"/><stop offset="0.7259" stop-color="#cecece"/><stop offset="0.8494" stop-color="#dedede"/><stop offset="0.9614" stop-color="#e0e0e0"/><stop offset="1.0000" stop-color="#e0e0e0"/></linearGradient>
<rect x="369.10" y="220.00" width="12.00" height="129.50" fill="url(#g17)" />
<linearGradient id="g18" gradientUnits="userSpaceOnUse" x1="0" y1="220.00" x2="0" y2="349.50"><stop offset="0.0000" stop-color="#b8b8b8"/><stop offset="0.0502" stop-color="#c8c8c8"/><stop offset="0.0927" stop-color="#cacaca"/><stop offset="0.0965" stop-color="#bdbdbd"/><stop offset="0.1004" stop-color="#ababab"/><stop offset="0.1042" stop-color="#aaaaaa"/><stop offset="0.1081" stop-color="#b9b9b9"/><stop offset="0.1120" stop-color="#cbcbcb"/><stop offset="0.1236" stop-color="#cecece"/><stop offset="0.1660" stop-color="#cfcfcf"/><stop offset="0.2124" stop-color="#c9c9c9"/><stop offset="0.2162" stop-color="#b6b6b6"/><stop offset="0.2201" stop-color="#666666"/><stop offset="0.2239" stop-color="#0c0c0c"/><stop offset="0.2317" stop-color="#0c0c0c"/><stop offset="0.2355" stop-color="#3b3b3b"/><stop offset="0.2394" stop-color="#9c9c9c"/><stop offset="0.2432" stop-color="#c4c4c4"/><stop offset="0.2471" stop-color="#c3c3c3"/><stop offset="0.2510" stop-color="#b5b5b5"/><stop offset="0.2548" stop-color="#adadad"/><stop offset="0.2587" stop-color="#adadad"/><stop offset="0.2664" stop-color="#c2c2c2"/><stop offset="0.2703" stop-color="#c7c7c7"/><stop offset="0.2896" stop-color="#cacaca"/><stop offset="0.3436" stop-color="#cacaca"/><stop offset="0.3514" stop-color="#c2c2c2"/><stop offset="0.3552" stop-color="#c8c8c8"/><stop offset="0.3668" stop-color="#cacaca"/><stop offset="0.3977" stop-color="#cacaca"/><stop offset="0.4015" stop-color="#c5c5c5"/><stop offset="0.4054" stop-color="#ababab"/><stop offset="0.4093" stop-color="#999999"/><stop offset="0.4131" stop-color="#9a9a9a"/><stop offset="0.4208" stop-color="#c8c8c8"/><stop offset="0.4286" stop-color="#cacaca"/><stop offset="0.4556" stop-color="#c9c9c9"/><stop offset="0.4595" stop-color="#c6c6c6"/><stop offset="0.4672" stop-color="#c9c9c9"/><stop offset="0.4710" stop-color="#c6c6c6"/><stop offset="0.4826" stop-color="#cacaca"/><stop offset="0.5058" stop-color="#c8c8c8"/><stop offset="0.5135" stop-color="#c8c8c8"/><stop offset="0.5714" stop-color="#cacaca"/><stop offset="0.5792" stop-color="#c9c9c9"/><stop offset="0.5869" stop-color="#c1c1c1"/><stop offset="0.5907" stop-color="#a5a5a5"/><stop offset="0.5946" stop-color="#707070"/><stop offset="0.5985" stop-color="#424242"/><stop offset="0.6023" stop-color="#303030"/><stop offset="0.6062" stop-color="#303030"/><stop offset="0.6100" stop-color="#3c3c3c"/><stop offset="0.6139" stop-color="#636363"/><stop offset="0.6178" stop-color="#979797"/><stop offset="0.6216" stop-color="#b4b4b4"/><stop offset="0.6255" stop-color="#b6b6b6"/><stop offset="0.6293" stop-color="#b0b0b0"/><stop offset="0.6332" stop-color="#adadad"/><stop offset="0.6371" stop-color="#b0b0b0"/><stop offset="0.6486" stop-color="#c6c6c6"/><stop offset="0.6564" stop-color="#cacaca"/><stop offset="0.6641" stop-color="#c5c5c5"/><stop offset="0.6680" stop-color="#bfbfbf"/><stop offset="0.6718" stop-color="#b5b5b5"/><stop offset="0.6834" stop-color="#8c8c8c"/><stop offset="0.6873" stop-color="#808080"/><stop offset="0.6911" stop-color="#7b7b7b"/><stop offset="0.6950" stop-color="#7d7d7d"/><stop offset="0.6988" stop-color="#868686"/><stop offset="0.7104" stop-color="#afafaf"/><stop offset="0.7143" stop-color="#bababa"/><stop offset="0.7220" stop-color="#c7c7c7"/><stop offset="0.7375" stop-color="#cdcdcd"/><stop offset="0.8571" stop-color="#dedede"/><stop offset="0.9459" stop-color="#e0e0e0"/><stop offset="1.0000" stop-color="#e0e0e0"/></linearGradient>
<rect x="383.10" y="220.00" width="11.10" height="129.50" fill="url(#g18)" />
<linearGradient id="g19" gradientUnits="userSpaceOnUse" x1="0" y1="220.00" x2="0" y2="349.50"><stop offset="0.0000" stop-color="#b8b8b8"/><stop offset="0.0502" stop-color="#c8c8c8"/><stop offset="0.0888" stop-color="#cbcbcb"/><stop offset="0.0927" stop-color="#c5c5c5"/><stop offset="0.0965" stop-color="#afafaf"/><stop offset="0.1004" stop-color="#a9a9a9"/><stop offset="0.1042" stop-color="#b0b0b0"/><stop offset="0.1081" stop-color="#c6c6c6"/><stop offset="0.1120" stop-color="#cdcdcd"/><stop offset="0.1622" stop-color="#cfcfcf"/><stop offset="0.2085" stop-color="#cacaca"/><stop offset="0.2124" stop-color="#bdbdbd"/><stop offset="0.2162" stop-color="#7b7b7b"/><stop offset="0.2201" stop-color="#191919"/><stop offset="0.2239" stop-color="#0c0c0c"/><stop offset="0.2278" stop-color="#0c0c0c"/><stop offset="0.2317" stop-color="#282828"/><stop offset="0.2355" stop-color="#8c8c8c"/><stop offset="0.2394" stop-color="#c1c1c1"/><stop offset="0.2432" stop-color="#c5c5c5"/><stop offset="0.2471" stop-color="#b8b8b8"/><stop offset="0.2510" stop-color="#adadad"/><stop offset="0.2548" stop-color="#adadad"/><stop offset="0.2587" stop-color="#b5b5b5"/><stop offset="0.2625" stop-color="#c4c4c4"/><stop offset="0.2664" stop-color="#c9c9c9"/><stop offset="0.2741" stop-color="#c6c6c6"/><stop offset="0.2896" stop-color="#c9c9c9"/><stop offset="0.3514" stop-color="#cacaca"/><stop offset="0.3591" stop-color="#c6c6c6"/><stop offset="0.3707" stop-color="#cacaca"/><stop offset="0.3977" stop-color="#c9c9c9"/><stop offset="0.4015" stop-color="#b8b8b8"/><stop offset="0.4054" stop-color="#9b9b9b"/><stop offset="0.4093" stop-color="#929292"/><stop offset="0.4131" stop-color="#9e9e9e"/><stop offset="0.4170" stop-color="#c0c0c0"/><stop offset="0.4208" stop-color="#cacaca"/><stop offset="0.4324" stop-color="#c8c8c8"/><stop offset="0.4363" stop-color="#c7c7c7"/><stop offset="0.4479" stop-color="#cacaca"/><stop offset="0.4981" stop-color="#cacaca"/><stop offset="0.5058" stop-color="#c5c5c5"/><stop offset="0.5174" stop-color="#cacaca"/><stop offset="0.5444" stop-color="#cacaca"/><stop offset="0.5521" stop-color="#c6c6c6"/><stop offset="0.5598" stop-color="#cacaca"/><stop offset="0.5830" stop-color="#c9c9c9"/><stop offset="0.5869" stop-color="#c3c3c3"/><stop offset="0.5907" stop-color="#a7a7a7"/><stop offset="0.5946" stop-color="#757575"/><stop offset="0.5985" stop-color="#4a4a4a"/><stop offset="0.6023" stop-color="#3a3a3a"/><stop offset="0.6062" stop-color="#3a3a3a"/><stop offset="0.6100" stop-color="#454545"/><stop offset="0.6139" stop-color="#6a6a6a"/><stop offset="0.6178" stop-color="#9a9a9a"/><stop offset="0.6216" stop-color="#b5b5b5"/><stop offset="0.6255" stop-color="#b7b7b7"/><stop offset="0.6293" stop-color="#b0b0b0"/><stop offset="0.6332" stop-color="#adadad"/><stop offset="0.6371" stop-color="#b0b0b0"/><stop offset="0.6486" stop-color="#c6c6c6"/><stop offset="0.6564" stop-color="#cacaca"/><stop offset="0.6641" stop-color="#c5c5c5"/><stop offset="0.6680" stop-color="#bfbfbf"/><stop offset="0.6718" stop-color="#b5b5b5"/><stop offset="0.6834" stop-color="#8c8c8c"/><stop offset="0.6873" stop-color="#808080"/><stop offset="0.6911" stop-color="#7b7b7b"/><stop offset="0.6950" stop-color="#7d7d7d"/><stop offset="0.6988" stop-color="#868686"/><stop offset="0.7104" stop-color="#afafaf"/><stop offset="0.7143" stop-color="#bababa"/><stop offset="0.7220" stop-color="#c7c7c7"/><stop offset="0.7375" stop-color="#cdcdcd"/><stop offset="0.8571" stop-color="#dedede"/><stop offset="0.9459" stop-color="#e0e0e0"/><stop offset="1.0000" stop-color="#e0e0e0"/></linearGradient>
<rect x="396.40" y="220.00" width="11.80" height="129.50" fill="url(#g19)" />
<linearGradient id="g20" gradientUnits="userSpaceOnUse" x1="0" y1="220.00" x2="0" y2="349.50"><stop offset="0.0000" stop-color="#b8b8b8"/><stop offset="0.0502" stop-color="#c8c8c8"/><stop offset="0.0849" stop-color="#cbcbcb"/><stop offset="0.0888" stop-color="#c9c9c9"/><stop offset="0.0927" stop-color="#b7b7b7"/><stop offset="0.0965" stop-color="#a9a9a9"/><stop offset="0.1004" stop-color="#ababab"/><stop offset="0.1042" stop-color="#bdbdbd"/><stop offset="0.1081" stop-color="#cccccc"/><stop offset="0.1622" stop-color="#cfcfcf"/><stop offset="0.2046" stop-color="#cacaca"/><stop offset="0.2085" stop-color="#b6b6b6"/><stop offset="0.2124" stop-color="#666666"/><stop offset="0.2162" stop-color="#0c0c0c"/><stop offset="0.2239" stop-color="#0c0c0c"/><stop offset="0.2278" stop-color="#3b3b3b"/><stop offset="0.2317" stop-color="#9c9c9c"/><stop offset="0.2355" stop-color="#c4c4c4"/><stop offset="0.2394" stop-color="#c3c3c3"/><stop offset="0.2432" stop-color="#b4b4b4"/><stop offset="0.2471" stop-color="#adadad"/><stop offset="0.2510" stop-color="#adadad"/><stop offset="0.2548" stop-color="#b8b8b8"/><stop offset="0.2587" stop-color="#c6c6c6"/><stop offset="0.2625" stop-color="#c8c8c8"/><stop offset="0.2664" stop-color="#c4c4c4"/><stop offset="0.2741" stop-color="#c9c9c9"/><stop offset="0.2780" stop-color="#c9c9c9"/><stop offset="0.2819" stop-color="#c5c5c5"/><stop offset="0.2857" stop-color="#c5c5c5"/><stop offset="0.2896" stop-color="#c9c9c9"/><stop offset="0.3514" stop-color="#cacaca"/><stop offset="0.3591" stop-color="#c5c5c5"/><stop offset="0.3668" stop-color="#cacaca"/><stop offset="0.3822" stop-color="#c9c9c9"/><stop offset="0.3861" stop-color="#c7c7c7"/><stop offset="0.3938" stop-color="#c9c9c9"/><stop offset="0.3977" stop-color="#c0c0c0"/><stop offset="0.4015" stop-color="#a1a1a1"/><stop offset="0.4054" stop-color="#979797"/><stop offset="0.4093" stop-color="#9c9c9c"/><stop offset="0.4131" stop-color="#b7b7b7"/><stop offset="0.4170" stop-color="#c4c4c4"/><stop offset="0.4286" stop-color="#cacaca"/><stop offset="0.4865" stop-color="#cacaca"/><stop offset="0.4903" stop-color="#c6c6c6"/><stop offset="0.5058" stop-color="#cacaca"/><stop offset="0.5328" stop-color="#cacaca"/><stop offset="0.5405" stop-color="#c8c8c8"/><stop offset="0.5598" stop-color="#cacaca"/><stop offset="0.5830" stop-color="#c9c9c9"/><stop offset="0.5869" stop-color="#c3c3c3"/><stop offset="0.5907" stop-color="#a8a8a8"/><stop offset="0.5946" stop-color="#787878"/><stop offset="0.5985" stop-color="#4f4f4f"/><stop offset="0.6023" stop-color="#3f3f3f"/><stop offset="0.6062" stop-color="#3f3f3f"/><stop offset="0.6100" stop-color="#494949"/><stop offset="0.6139" stop-color="#6d6d6d"/><stop offset="0.6178" stop-color="#9c9c9c"/><stop offset="0.6216" stop-color="#b5b5b5"/><stop offset="0.6255" stop-color="#b7b7b7"/><stop offset="0.6293" stop-color="#b0b0b0"/><stop offset="0.6332" stop-color="#adadad"/><stop offset="0.6371" stop-color="#b0b0b0"/><stop offset="0.6486" stop-color="#c6c6c6"/><stop offset="0.6564" stop-color="#cacaca"/><stop offset="0.6641" stop-color="#c5c5c5"/><stop offset="0.6680" stop-color="#bfbfbf"/><stop offset="0.6718" stop-color="#b6b6b6"/><stop offset="0.6834" stop-color="#8d8d8d"/><stop offset="0.6873" stop-color="#828282"/><stop offset="0.6911" stop-color="#7d7d7d"/><stop offset="0.6950" stop-color="#7f7f7f"/><stop offset="0.6988" stop-color="#888888"/><stop offset="0.7104" stop-color="#b0b0b0"/><stop offset="0.7143" stop-color="#bbbbbb"/><stop offset="0.7220" stop-color="#c7c7c7"/><stop offset="0.7375" stop-color="#cdcdcd"/><stop offset="0.8571" stop-color="#dedede"/><stop offset="0.9459" stop-color="#e0e0e0"/><stop offset="1.0000" stop-color="#e0e0e0"/></linearGradient>
<rect x="410.40" y="220.00" width="11.10" height="129.50" fill="url(#g20)" />
<linearGradient id="g21" gradientUnits="userSpaceOnUse" x1="0" y1="220.00" x2="0" y2="349.50"><stop offset="0.0000" stop-color="#b8b8b8"/><stop offset="0.0502" stop-color="#c8c8c8"/><stop offset="0.0849" stop-color="#cacaca"/><stop offset="0.0888" stop-color="#c0c0c0"/><stop offset="0.0927" stop-color="#acacac"/><stop offset="0.0965" stop-color="#a9a9a9"/><stop offset="0.1004" stop-color="#b3b3b3"/><stop offset="0.1042" stop-color="#c8c8c8"/><stop offset="0.1081" stop-color="#cdcdcd"/><stop offset="0.1622" stop-color="#cfcfcf"/><stop offset="0.2008" stop-color="#cacaca"/><stop offset="0.2046" stop-color="#b7b7b7"/><stop offset="0.2085" stop-color="#676767"/><stop offset="0.2124" stop-color="#0c0c0c"/><stop offset="0.2201" stop-color="#0c0c0c"/><stop offset="0.2239" stop-color="#3c3c3c"/><stop offset="0.2278" stop-color="#9c9c9c"/><stop offset="0.2317" stop-color="#c4c4c4"/><stop offset="0.2355" stop-color="#c3c3c3"/><stop offset="0.2394" stop-color="#b4b4b4"/><stop offset="0.2432" stop-color="#adadad"/><stop offset="0.2471" stop-color="#adadad"/><stop offset="0.2510" stop-color="#b8b8b8"/><stop offset="0.2548" stop-color="#c5c5c5"/><stop offset="0.2625" stop-color="#c9c9c9"/><stop offset="0.3050" stop-color="#cacaca"/><stop offset="0.3127" stop-color="#c6c6c6"/><stop offset="0.3205" stop-color="#cacaca"/><stop offset="0.3320" stop-color="#c9c9c9"/><stop offset="0.3359" stop-color="#c5c5c5"/><stop offset="0.3475" stop-color="#cacaca"/><stop offset="0.3552" stop-color="#c5c5c5"/><stop offset="0.3629" stop-color="#cacaca"/><stop offset="0.3900" stop-color="#cacaca"/><stop offset="0.3938" stop-color="#c8c8c8"/><stop offset="0.4015" stop-color="#9a9a9a"/><stop offset="0.4054" stop-color="#999999"/><stop offset="0.4093" stop-color="#ababab"/><stop offset="0.4131" stop-color="#c4c4c4"/><stop offset="0.4363" stop-color="#cacaca"/><stop offset="0.4826" stop-color="#c9c9c9"/><stop offset="0.4865" stop-color="#c7c7c7"/><stop offset="0.5019" stop-color="#cacaca"/><stop offset="0.5290" stop-color="#c9c9c9"/><stop offset="0.5521" stop-color="#cacaca"/><stop offset="0.5598" stop-color="#c8c8c8"/><stop offset="0.5792" stop-color="#cacaca"/><stop offset="0.5830" stop-color="#c9c9c9"/><stop offset="0.5869" stop-color="#c3c3c3"/><stop offset="0.5907" stop-color="#aaaaaa"/><stop offset="0.5946" stop-color="#7b7b7b"/><stop offset="0.5985" stop-color="#535353"/><stop offset="0.6023" stop-color="#444444"/><stop offset="0.6062" stop-color="#444444"/><stop offset="0.6100" stop-color="#4e4e4e"/><stop offset="0.6139" stop-color="#707070"/><stop offset="0.6178" stop-color="#9d9d9d"/><stop offset="0.6216" stop-color="#b6b6b6"/><stop offset="0.6255" stop-color="#b7b7b7"/><stop offset="0.6293" stop-color="#b0b0b0"/><stop offset="0.6332" stop-color="#adadad"/><stop offset="0.6371" stop-color="#b0b0b0"/><stop offset="0.6486" stop-color="#c6c6c6"/><stop offset="0.6564" stop-color="#cacaca"/><stop offset="0.6641" stop-color="#c6c6c6"/><stop offset="0.6680" stop-color="#c0c0c0"/><stop offset="0.6757" stop-color="#ababab"/><stop offset="0.6834" stop-color="#909090"/><stop offset="0.6873" stop-color="#858585"/><stop offset="0.6911" stop-color="#808080"/><stop offset="0.6950" stop-color="#828282"/><stop offset="0.6988" stop-color="#8a8a8a"/><stop offset="0.7104" stop-color="#b1b1b1"/><stop offset="0.7143" stop-color="#bbbbbb"/><stop offset="0.7220" stop-color="#c7c7c7"/><stop offset="0.7375" stop-color="#cdcdcd"/><stop offset="0.8571" stop-color="#dedede"/><stop offset="0.9459" stop-color="#e0e0e0"/><stop offset="1.0000" stop-color="#e0e0e0"/></linearGradient>
<rect x="423.50" y="220.00" width="11.40" height="129.50" fill="url(#g21)" />
<linearGradient id="g22" gradientUnits="userSpaceOnUse" x1="0" y1="220.00" x2="0" y2="349.50"><stop offset="0.0000" stop-color="#c4c4c4"/><stop offset="0.0811" stop-color="#c8c8c8"/><stop offset="0.0849" stop-color="#c0c0c0"/><stop offset="0.0888" stop-color="#909090"/><stop offset="0.0927" stop-color="#6f6f6f"/><stop offset="0.0965" stop-color="#727272"/><stop offset="0.1042" stop-color="#c4c4c4"/><stop offset="0.1081" stop-color="#c9c9c9"/><stop offset="0.1931" stop-color="#cbcbcb"/><stop offset="0.1969" stop-color="#c4c4c4"/><stop offset="0.2008" stop-color="#9b9b9b"/><stop offset="0.2046" stop-color="#474747"/><stop offset="0.2085" stop-color="#0c0c0c"/><stop offset="0.2162" stop-color="#0c0c0c"/><stop offset="0.2201" stop-color="#272727"/><stop offset="0.2239" stop-color="#7d7d7d"/><stop offset="0.2278" stop-color="#bababa"/><stop offset="0.2317" stop-color="#cacaca"/><stop offset="0.2355" stop-color="#cacaca"/><stop offset="0.2394" stop-color="#c4c4c4"/><stop offset="0.2471" stop-color="#afafaf"/><stop offset="0.2510" stop-color="#b0b0b0"/><stop offset="0.2548" stop-color="#c2c2c2"/><stop offset="0.2587" stop-color="#cccccc"/><stop offset="0.3166" stop-color="#cdcdcd"/><stop offset="0.3205" stop-color="#c7c7c7"/><stop offset="0.3243" stop-color="#c8c8c8"/><stop offset="0.3282" stop-color="#cecece"/><stop offset="0.3938" stop-color="#d0d0d0"/><stop offset="0.3977" stop-color="#cacaca"/><stop offset="0.4015" stop-color="#ababab"/><stop offset="0.4054" stop-color="#888888"/><stop offset="0.4093" stop-color="#818181"/><stop offset="0.4131" stop-color="#888888"/><stop offset="0.4170" stop-color="#ababab"/><stop offset="0.4208" stop-color="#cbcbcb"/><stop offset="0.4247" stop-color="#d0d0d0"/><stop offset="0.4324" stop-color="#c9c9c9"/><stop offset="0.4363" stop-color="#d0d0d0"/><stop offset="0.4440" stop-color="#d0d0d0"/><stop offset="0.4479" stop-color="#cdcdcd"/><stop offset="0.4517" stop-color="#cccccc"/><stop offset="0.4595" stop-color="#d2d2d2"/><stop offset="0.4710" stop-color="#d1d1d1"/><stop offset="0.4749" stop-color="#cccccc"/><stop offset="0.4826" stop-color="#d2d2d2"/><stop offset="0.4903" stop-color="#cfcfcf"/><stop offset="0.5019" stop-color="#d3d3d3"/><stop offset="0.5290" stop-color="#d2d2d2"/><stop offset="0.5328" stop-color="#cccccc"/><stop offset="0.5405" stop-color="#d4d4d4"/><stop offset="0.5637" stop-color="#d4d4d4"/><stop offset="0.5676" stop-color="#d1d1d1"/><stop offset="0.5714" stop-color="#c3c3c3"/><stop offset="0.5753" stop-color="#a0a0a0"/><stop offset="0.5792" stop-color="#696969"/><stop offset="0.5830" stop-color="#2f2f2f"/><stop offset="0.5869" stop-color="#0c0c0c"/><stop offset="0.6023" stop-color="#0c0c0c"/><stop offset="0.6062" stop-color="#292929"/><stop offset="0.6100" stop-color="#5e5e5e"/><stop offset="0.6139" stop-color="#8b8b8b"/><stop offset="0.6178" stop-color="#a2a2a2"/><stop offset="0.6216" stop-color="#a3a3a3"/><stop offset="0.6255" stop-color="#9d9d9d"/><stop offset="0.6293" stop-color="#9b9b9b"/><stop offset="0.6332" stop-color="#9e9e9e"/><stop offset="0.6409" stop-color="#b5b5b5"/><stop offset="0.6486" stop-color="#cbcbcb"/><stop offset="0.6564" stop-color="#d5d5d5"/><stop offset="0.6795" stop-color="#d9d9d9"/><stop offset="0.8263" stop-color="#dedede"/><stop offset="1.0000" stop-color="#e0e0e0"/></linearGradient>
<rect x="436.30" y="220.00" width="11.30" height="129.50" fill="url(#g22)" />
</g>
<line x1="456.20" y1="297.50" x2="468.50" y2="297.50" stroke="#222" stroke-width="0.8" />
<path d="M453.20,297.50 L457.40,295.80 L457.40,299.20 Z" fill="#222"/>
<line x1="456.20" y1="306.80" x2="468.50" y2="306.80" stroke="#222" stroke-width="0.8" />
<path d="M453.20,306.80 L457.40,305.10 L457.40,308.50 Z" fill="#222"/>
<text x="471.50" y="300.01" font-size="7.3" text-anchor="start" fill="#111111" stroke="#111111" stroke-width="0.2" >Histone H3</text>
<text x="471.50" y="309.31" font-size="7.3" text-anchor="start" fill="#111111" stroke="#111111" stroke-width="0.2" >H3 Fragment</text>
<text x="273.40" y="406.28" font-size="12.3" text-anchor="start" font-weight="bold" fill="#111" stroke="#111" stroke-width="0.2" >E</text>
<text x="365.60" y="415.10" font-size="7.55" text-anchor="start" fill="#111111" stroke="#111111" stroke-width="0.2" >APC + LP21 <tspan font-size="7.1" fill="#3a3a3a">(min)</tspan></text>
<line x1="344.00" y1="419.60" x2="447.50" y2="419.60" stroke="#7088a8" stroke-width="1.5" />
<text x="349.40" y="427.95" font-size="7.4" text-anchor="middle" fill="#111111" stroke="#111111" stroke-width="0.2" >0</text>
<text x="360.50" y="427.95" font-size="7.4" text-anchor="middle" fill="#111111" stroke="#111111" stroke-width="0.2" >7</text>
<text x="374.30" y="427.95" font-size="7.4" text-anchor="middle" fill="#111111" stroke="#111111" stroke-width="0.2" >15</text>
<text x="387.50" y="427.95" font-size="7.4" text-anchor="middle" fill="#111111" stroke="#111111" stroke-width="0.2" >30</text>
<text x="403.20" y="427.95" font-size="7.4" text-anchor="middle" fill="#111111" stroke="#111111" stroke-width="0.2" >45</text>
<text x="416.50" y="427.95" font-size="7.4" text-anchor="middle" fill="#111111" stroke="#111111" stroke-width="0.2" >60</text>
<text x="428.50" y="427.95" font-size="7.4" text-anchor="middle" fill="#111111" stroke="#111111" stroke-width="0.2" >90</text>
<text x="441.10" y="427.95" font-size="7.4" text-anchor="middle" fill="#111111" stroke="#111111" stroke-width="0.2" >120</text>
<text x="456.70" y="427.95" font-size="7.4" text-anchor="middle" fill="#111111" stroke="#111111" stroke-width="0.2" >MW</text>
<text x="467.00" y="427.95" font-size="7.4" text-anchor="start" fill="#111111" stroke="#111111" stroke-width="0.2" >Mr</text>
<text x="467.00" y="441.35" font-size="7.4" text-anchor="start" fill="#111111" stroke="#111111" stroke-width="0.2" >250</text>
<text x="467.00" y="447.55" font-size="7.4" text-anchor="start" fill="#111111" stroke="#111111" stroke-width="0.2" >150</text>
<text x="467.00" y="453.75" font-size="7.4" text-anchor="start" fill="#111111" stroke="#111111" stroke-width="0.2" >100</text>
<text x="467.00" y="460.05" font-size="7.4" text-anchor="start" fill="#111111" stroke="#111111" stroke-width="0.2" >75</text>
<text x="467.00" y="470.05" font-size="7.4" text-anchor="start" fill="#111111" stroke="#111111" stroke-width="0.2" >50</text>
<text x="467.00" y="480.05" font-size="7.4" text-anchor="start" fill="#111111" stroke="#111111" stroke-width="0.2" >37</text>
<text x="467.00" y="495.05" font-size="7.4" text-anchor="start" fill="#111111" stroke="#111111" stroke-width="0.2" >25</text>
<text x="467.00" y="501.55" font-size="7.4" text-anchor="start" fill="#111111" stroke="#111111" stroke-width="0.2" >20</text>
<text x="467.00" y="515.05" font-size="7.4" text-anchor="start" fill="#111111" stroke="#111111" stroke-width="0.2" >15</text>
<text x="467.00" y="531.05" font-size="7.4" text-anchor="start" fill="#111111" stroke="#111111" stroke-width="0.2" >10</text>
<linearGradient id="g23" gradientUnits="userSpaceOnUse" x1="0" y1="430.20" x2="0" y2="563.20"><stop offset="0.0000" stop-color="#bcbcbc"/><stop offset="0.0602" stop-color="#cecece"/><stop offset="0.1203" stop-color="#dadada"/><stop offset="0.3158" stop-color="#e2e2e2"/><stop offset="1.0000" stop-color="#dfdfdf"/></linearGradient>
<rect x="337.60" y="430.20" width="127.40" height="133.00" fill="url(#g23)" />
<g filter="url(#lb)">
<linearGradient id="g24" gradientUnits="userSpaceOnUse" x1="0" y1="431.00" x2="0" y2="563.50"><stop offset="0.0000" stop-color="#c0c0c0"/><stop offset="0.0566" stop-color="#c2c2c2"/><stop offset="0.0604" stop-color="#b3b3b3"/><stop offset="0.0642" stop-color="#737373"/><stop offset="0.0679" stop-color="#292929"/><stop offset="0.0717" stop-color="#151515"/><stop offset="0.0755" stop-color="#1c1c1c"/><stop offset="0.0792" stop-color="#525252"/><stop offset="0.0830" stop-color="#a1a1a1"/><stop offset="0.0868" stop-color="#c0c0c0"/><stop offset="0.0906" stop-color="#acacac"/><stop offset="0.0943" stop-color="#636363"/><stop offset="0.0981" stop-color="#232323"/><stop offset="0.1019" stop-color="#171717"/><stop offset="0.1057" stop-color="#232323"/><stop offset="0.1094" stop-color="#646464"/><stop offset="0.1132" stop-color="#adadad"/><stop offset="0.1170" stop-color="#c4c4c4"/><stop offset="0.1208" stop-color="#b1b1b1"/><stop offset="0.1245" stop-color="#8e8e8e"/><stop offset="0.1283" stop-color="#8b8b8b"/><stop offset="0.1321" stop-color="#a5a5a5"/><stop offset="0.1358" stop-color="#c3c3c3"/><stop offset="0.1396" stop-color="#bdbdbd"/><stop offset="0.1434" stop-color="#868686"/><stop offset="0.1472" stop-color="#484848"/><stop offset="0.1509" stop-color="#404040"/><stop offset="0.1547" stop-color="#4d4d4d"/><stop offset="0.1585" stop-color="#868686"/><stop offset="0.1623" stop-color="#b7b7b7"/><stop offset="0.1660" stop-color="#c6c6c6"/><stop offset="0.1736" stop-color="#c9c9c9"/><stop offset="0.1774" stop-color="#c7c7c7"/><stop offset="0.1811" stop-color="#b4b4b4"/><stop offset="0.1849" stop-color="#707070"/><stop offset="0.1887" stop-color="#222222"/><stop offset="0.1925" stop-color="#0c0c0c"/><stop offset="0.1962" stop-color="#0c0c0c"/><stop offset="0.2000" stop-color="#2f2f2f"/><stop offset="0.2038" stop-color="#818181"/><stop offset="0.2075" stop-color="#bcbcbc"/><stop offset="0.2113" stop-color="#c9c9c9"/><stop offset="0.2566" stop-color="#cacaca"/><stop offset="0.2604" stop-color="#c5c5c5"/><stop offset="0.2642" stop-color="#afafaf"/><stop offset="0.2679" stop-color="#6e6e6e"/><stop offset="0.2717" stop-color="#262626"/><stop offset="0.2755" stop-color="#0c0c0c"/><stop offset="0.2792" stop-color="#0c0c0c"/><stop offset="0.2830" stop-color="#1f1f1f"/><stop offset="0.2868" stop-color="#636363"/><stop offset="0.2906" stop-color="#aaaaaa"/><stop offset="0.2943" stop-color="#c7c7c7"/><stop offset="0.2981" stop-color="#cbcbcb"/><stop offset="0.3170" stop-color="#cbcbcb"/><stop offset="0.3208" stop-color="#c6c6c6"/><stop offset="0.3245" stop-color="#c6c6c6"/><stop offset="0.3283" stop-color="#cbcbcb"/><stop offset="0.3358" stop-color="#cbcbcb"/><stop offset="0.3396" stop-color="#c8c8c8"/><stop offset="0.3434" stop-color="#b9b9b9"/><stop offset="0.3472" stop-color="#818181"/><stop offset="0.3509" stop-color="#3f3f3f"/><stop offset="0.3547" stop-color="#282828"/><stop offset="0.3585" stop-color="#292929"/><stop offset="0.3623" stop-color="#4a4a4a"/><stop offset="0.3660" stop-color="#909090"/><stop offset="0.3698" stop-color="#c1c1c1"/><stop offset="0.3736" stop-color="#cccccc"/><stop offset="0.4302" stop-color="#cecece"/><stop offset="0.4377" stop-color="#cacaca"/><stop offset="0.4491" stop-color="#cecece"/><stop offset="0.4566" stop-color="#cccccc"/><stop offset="0.4604" stop-color="#b9b9b9"/><stop offset="0.4642" stop-color="#7c7c7c"/><stop offset="0.4679" stop-color="#363636"/><stop offset="0.4717" stop-color="#181818"/><stop offset="0.4755" stop-color="#171717"/><stop offset="0.4792" stop-color="#2d2d2d"/><stop offset="0.4868" stop-color="#b1b1b1"/><stop offset="0.4906" stop-color="#cdcdcd"/><stop offset="0.4943" stop-color="#d0d0d0"/><stop offset="0.5057" stop-color="#d1d1d1"/><stop offset="0.5094" stop-color="#cacaca"/><stop offset="0.5132" stop-color="#a2a2a2"/><stop offset="0.5170" stop-color="#5b5b5b"/><stop offset="0.5208" stop-color="#323232"/><stop offset="0.5245" stop-color="#2d2d2d"/><stop offset="0.5283" stop-color="#3d3d3d"/><stop offset="0.5321" stop-color="#797979"/><stop offset="0.5358" stop-color="#b9b9b9"/><stop offset="0.5396" stop-color="#d1d1d1"/><stop offset="0.5472" stop-color="#d3d3d3"/><stop offset="0.6038" stop-color="#d6d6d6"/><stop offset="0.6075" stop-color="#d3d3d3"/><stop offset="0.6113" stop-color="#bebebe"/><stop offset="0.6151" stop-color="#9a9a9a"/><stop offset="0.6189" stop-color="#848484"/><stop offset="0.6226" stop-color="#828282"/><stop offset="0.6264" stop-color="#8a8a8a"/><stop offset="0.6340" stop-color="#cacaca"/><stop offset="0.6377" stop-color="#d6d6d6"/><stop offset="0.7208" stop-color="#dbdbdb"/><stop offset="0.7245" stop-color="#d8d8d8"/><stop offset="0.7283" stop-color="#c6c6c6"/><stop offset="0.7321" stop-color="#9a9a9a"/><stop offset="0.7358" stop-color="#666666"/><stop offset="0.7396" stop-color="#4a4a4a"/><stop offset="0.7434" stop-color="#464646"/><stop offset="0.7472" stop-color="#4b4b4b"/><stop offset="0.7509" stop-color="#676767"/><stop offset="0.7547" stop-color="#9a9a9a"/><stop offset="0.7585" stop-color="#c7c7c7"/><stop offset="0.7623" stop-color="#d9d9d9"/><stop offset="0.7698" stop-color="#dcdcdc"/><stop offset="1.0000" stop-color="#dfdfdf"/></linearGradient>
<rect x="453.60" y="431.00" width="10.40" height="132.50" fill="url(#g24)" />
<linearGradient id="g25" gradientUnits="userSpaceOnUse" x1="0" y1="431.00" x2="0" y2="563.50"><stop offset="0.0000" stop-color="#c0c0c0"/><stop offset="0.0717" stop-color="#c5c5c5"/><stop offset="0.0792" stop-color="#c1c1c1"/><stop offset="0.0830" stop-color="#bcbcbc"/><stop offset="0.0906" stop-color="#aaaaaa"/><stop offset="0.0943" stop-color="#a4a4a4"/><stop offset="0.0981" stop-color="#a5a5a5"/><stop offset="0.1094" stop-color="#bebebe"/><stop offset="0.1170" stop-color="#c6c6c6"/><stop offset="0.1585" stop-color="#c7c7c7"/><stop offset="0.1849" stop-color="#c5c5c5"/><stop offset="0.1887" stop-color="#c3c3c3"/><stop offset="0.1925" stop-color="#b1b1b1"/><stop offset="0.1962" stop-color="#757575"/><stop offset="0.2000" stop-color="#242424"/><stop offset="0.2038" stop-color="#0c0c0c"/><stop offset="0.2113" stop-color="#0c0c0c"/><stop offset="0.2151" stop-color="#232323"/><stop offset="0.2189" stop-color="#747474"/><stop offset="0.2226" stop-color="#afafaf"/><stop offset="0.2264" stop-color="#bfbfbf"/><stop offset="0.2302" stop-color="#b7b7b7"/><stop offset="0.2340" stop-color="#a8a8a8"/><stop offset="0.2377" stop-color="#a4a4a4"/><stop offset="0.2415" stop-color="#a8a8a8"/><stop offset="0.2453" stop-color="#b8b8b8"/><stop offset="0.2491" stop-color="#c2c2c2"/><stop offset="0.2528" stop-color="#c4c4c4"/><stop offset="0.2604" stop-color="#c0c0c0"/><stop offset="0.2679" stop-color="#c5c5c5"/><stop offset="0.2830" stop-color="#c7c7c7"/><stop offset="0.2906" stop-color="#c4c4c4"/><stop offset="0.2981" stop-color="#c8c8c8"/><stop offset="0.3132" stop-color="#c6c6c6"/><stop offset="0.3245" stop-color="#c1c1c1"/><stop offset="0.3283" stop-color="#c6c6c6"/><stop offset="0.3396" stop-color="#c8c8c8"/><stop offset="0.3887" stop-color="#c9c9c9"/><stop offset="0.3925" stop-color="#c2c2c2"/><stop offset="0.3962" stop-color="#9c9c9c"/><stop offset="0.4000" stop-color="#7f7f7f"/><stop offset="0.4038" stop-color="#7f7f7f"/><stop offset="0.4075" stop-color="#a4a4a4"/><stop offset="0.4113" stop-color="#c5c5c5"/><stop offset="0.4189" stop-color="#c5c5c5"/><stop offset="0.4226" stop-color="#c8c8c8"/><stop offset="0.4340" stop-color="#c6c6c6"/><stop offset="0.4415" stop-color="#c9c9c9"/><stop offset="0.5321" stop-color="#cacaca"/><stop offset="0.5396" stop-color="#c6c6c6"/><stop offset="0.5472" stop-color="#cacaca"/><stop offset="0.5509" stop-color="#c7c7c7"/><stop offset="0.5547" stop-color="#b5b5b5"/><stop offset="0.5585" stop-color="#858585"/><stop offset="0.5623" stop-color="#3b3b3b"/><stop offset="0.5660" stop-color="#0c0c0c"/><stop offset="0.5811" stop-color="#0c0c0c"/><stop offset="0.5849" stop-color="#333333"/><stop offset="0.5887" stop-color="#666666"/><stop offset="0.5925" stop-color="#7d7d7d"/><stop offset="0.6000" stop-color="#7d7d7d"/><stop offset="0.6038" stop-color="#828282"/><stop offset="0.6113" stop-color="#9a9a9a"/><stop offset="0.6189" stop-color="#b1b1b1"/><stop offset="0.6264" stop-color="#bdbdbd"/><stop offset="0.6491" stop-color="#c8c8c8"/><stop offset="0.7057" stop-color="#d8d8d8"/><stop offset="0.7321" stop-color="#dddddd"/><stop offset="1.0000" stop-color="#dfdfdf"/></linearGradient>
<rect x="344.90" y="431.00" width="10.30" height="132.50" fill="url(#g25)" />
<linearGradient id="g26" gradientUnits="userSpaceOnUse" x1="0" y1="431.00" x2="0" y2="563.50"><stop offset="0.0000" stop-color="#c0c0c0"/><stop offset="0.0717" stop-color="#c5c5c5"/><stop offset="0.0792" stop-color="#c1c1c1"/><stop offset="0.0830" stop-color="#bcbcbc"/><stop offset="0.0906" stop-color="#aaaaaa"/><stop offset="0.0943" stop-color="#a4a4a4"/><stop offset="0.0981" stop-color="#a5a5a5"/><stop offset="0.1094" stop-color="#bebebe"/><stop offset="0.1170" stop-color="#c6c6c6"/><stop offset="0.1585" stop-color="#c7c7c7"/><stop offset="0.1849" stop-color="#c5c5c5"/><stop offset="0.1887" stop-color="#c3c3c3"/><stop offset="0.1925" stop-color="#b1b1b1"/><stop offset="0.1962" stop-color="#757575"/><stop offset="0.2000" stop-color="#242424"/><stop offset="0.2038" stop-color="#0c0c0c"/><stop offset="0.2113" stop-color="#0c0c0c"/><stop offset="0.2151" stop-color="#232323"/><stop offset="0.2189" stop-color="#747474"/><stop offset="0.2226" stop-color="#afafaf"/><stop offset="0.2264" stop-color="#bfbfbf"/><stop offset="0.2302" stop-color="#b7b7b7"/><stop offset="0.2340" stop-color="#a8a8a8"/><stop offset="0.2377" stop-color="#a4a4a4"/><stop offset="0.2415" stop-color="#a8a8a8"/><stop offset="0.2453" stop-color="#b8b8b8"/><stop offset="0.2491" stop-color="#bfbfbf"/><stop offset="0.2642" stop-color="#c3c3c3"/><stop offset="0.2679" stop-color="#bfbfbf"/><stop offset="0.2792" stop-color="#c6c6c6"/><stop offset="0.3396" stop-color="#c7c7c7"/><stop offset="0.3434" stop-color="#c3c3c3"/><stop offset="0.3509" stop-color="#c8c8c8"/><stop offset="0.3887" stop-color="#c9c9c9"/><stop offset="0.3925" stop-color="#c2c2c2"/><stop offset="0.3962" stop-color="#9d9d9d"/><stop offset="0.4000" stop-color="#848484"/><stop offset="0.4038" stop-color="#858585"/><stop offset="0.4113" stop-color="#c5c5c5"/><stop offset="0.4151" stop-color="#c9c9c9"/><stop offset="0.4302" stop-color="#c6c6c6"/><stop offset="0.4453" stop-color="#c9c9c9"/><stop offset="0.4642" stop-color="#c7c7c7"/><stop offset="0.4679" stop-color="#c5c5c5"/><stop offset="0.4868" stop-color="#c9c9c9"/><stop offset="0.5132" stop-color="#c9c9c9"/><stop offset="0.5208" stop-color="#c6c6c6"/><stop offset="0.5283" stop-color="#cacaca"/><stop offset="0.5396" stop-color="#c8c8c8"/><stop offset="0.5434" stop-color="#c5c5c5"/><stop offset="0.5472" stop-color="#c8c8c8"/><stop offset="0.5509" stop-color="#c6c6c6"/><stop offset="0.5547" stop-color="#b5b5b5"/><stop offset="0.5585" stop-color="#858585"/><stop offset="0.5623" stop-color="#3b3b3b"/><stop offset="0.5660" stop-color="#0c0c0c"/><stop offset="0.5811" stop-color="#0c0c0c"/><stop offset="0.5849" stop-color="#333333"/><stop offset="0.5887" stop-color="#666666"/><stop offset="0.5925" stop-color="#7d7d7d"/><stop offset="0.6000" stop-color="#7d7d7d"/><stop offset="0.6038" stop-color="#828282"/><stop offset="0.6113" stop-color="#9a9a9a"/><stop offset="0.6189" stop-color="#b1b1b1"/><stop offset="0.6264" stop-color="#bdbdbd"/><stop offset="0.6491" stop-color="#c8c8c8"/><stop offset="0.7057" stop-color="#d8d8d8"/><stop offset="0.7321" stop-color="#dddddd"/><stop offset="1.0000" stop-color="#dfdfdf"/></linearGradient>
<rect x="357.10" y="431.00" width="10.90" height="132.50" fill="url(#g26)" />
<linearGradient id="g27" gradientUnits="userSpaceOnUse" x1="0" y1="431.00" x2="0" y2="563.50"><stop offset="0.0000" stop-color="#c0c0c0"/><stop offset="0.0717" stop-color="#c5c5c5"/><stop offset="0.0792" stop-color="#c1c1c1"/><stop offset="0.0830" stop-color="#bcbcbc"/><stop offset="0.0906" stop-color="#aaaaaa"/><stop offset="0.0943" stop-color="#a4a4a4"/><stop offset="0.0981" stop-color="#a5a5a5"/><stop offset="0.1094" stop-color="#bebebe"/><stop offset="0.1170" stop-color="#c6c6c6"/><stop offset="0.1585" stop-color="#c7c7c7"/><stop offset="0.1849" stop-color="#c5c5c5"/><stop offset="0.1887" stop-color="#c3c3c3"/><stop offset="0.1925" stop-color="#b1b1b1"/><stop offset="0.1962" stop-color="#757575"/><stop offset="0.2000" stop-color="#242424"/><stop offset="0.2038" stop-color="#0c0c0c"/><stop offset="0.2113" stop-color="#0c0c0c"/><stop offset="0.2151" stop-color="#232323"/><stop offset="0.2189" stop-color="#747474"/><stop offset="0.2226" stop-color="#afafaf"/><stop offset="0.2264" stop-color="#bfbfbf"/><stop offset="0.2302" stop-color="#b7b7b7"/><stop offset="0.2340" stop-color="#a8a8a8"/><stop offset="0.2377" stop-color="#a4a4a4"/><stop offset="0.2415" stop-color="#a8a8a8"/><stop offset="0.2453" stop-color="#b8b8b8"/><stop offset="0.2491" stop-color="#c2c2c2"/><stop offset="0.3057" stop-color="#c8c8c8"/><stop offset="0.3132" stop-color="#c4c4c4"/><stop offset="0.3283" stop-color="#c8c8c8"/><stop offset="0.3585" stop-color="#c8c8c8"/><stop offset="0.3660" stop-color="#c7c7c7"/><stop offset="0.3887" stop-color="#c9c9c9"/><stop offset="0.3925" stop-color="#c2c2c2"/><stop offset="0.3962" stop-color="#9d9d9d"/><stop offset="0.4000" stop-color="#848484"/><stop offset="0.4038" stop-color="#858585"/><stop offset="0.4113" stop-color="#c5c5c5"/><stop offset="0.4151" stop-color="#c9c9c9"/><stop offset="0.4302" stop-color="#c9c9c9"/><stop offset="0.4377" stop-color="#c4c4c4"/><stop offset="0.4491" stop-color="#c9c9c9"/><stop offset="0.4906" stop-color="#c9c9c9"/><stop offset="0.5057" stop-color="#c4c4c4"/><stop offset="0.5208" stop-color="#cacaca"/><stop offset="0.5434" stop-color="#cacaca"/><stop offset="0.5509" stop-color="#c2c2c2"/><stop offset="0.5547" stop-color="#b4b4b4"/><stop offset="0.5585" stop-color="#858585"/><stop offset="0.5623" stop-color="#3b3b3b"/><stop offset="0.5660" stop-color="#0c0c0c"/><stop offset="0.5811" stop-color="#0c0c0c"/><stop offset="0.5849" stop-color="#333333"/><stop offset="0.5887" stop-color="#666666"/><stop offset="0.5925" stop-color="#7d7d7d"/><stop offset="0.6000" stop-color="#7d7d7d"/><stop offset="0.6038" stop-color="#828282"/><stop offset="0.6113" stop-color="#9a9a9a"/><stop offset="0.6189" stop-color="#b1b1b1"/><stop offset="0.6264" stop-color="#bdbdbd"/><stop offset="0.6491" stop-color="#c8c8c8"/><stop offset="0.7057" stop-color="#d8d8d8"/><stop offset="0.7321" stop-color="#dddddd"/><stop offset="1.0000" stop-color="#dfdfdf"/></linearGradient>
<rect x="370.00" y="431.00" width="11.00" height="132.50" fill="url(#g27)" />
<linearGradient id="g28" gradientUnits="userSpaceOnUse" x1="0" y1="431.00" x2="0" y2="563.50"><stop offset="0.0000" stop-color="#c0c0c0"/><stop offset="0.0717" stop-color="#c5c5c5"/><stop offset="0.0792" stop-color="#c1c1c1"/><stop offset="0.0830" stop-color="#bcbcbc"/><stop offset="0.0906" stop-color="#aaaaaa"/><stop offset="0.0943" stop-color="#a4a4a4"/><stop offset="0.0981" stop-color="#a5a5a5"/><stop offset="0.1094" stop-color="#bebebe"/><stop offset="0.1170" stop-color="#c6c6c6"/><stop offset="0.1585" stop-color="#c7c7c7"/><stop offset="0.1849" stop-color="#c5c5c5"/><stop offset="0.1887" stop-color="#c3c3c3"/><stop offset="0.1925" stop-color="#b1b1b1"/><stop offset="0.1962" stop-color="#757575"/><stop offset="0.2000" stop-color="#242424"/><stop offset="0.2038" stop-color="#0c0c0c"/><stop offset="0.2113" stop-color="#0c0c0c"/><stop offset="0.2151" stop-color="#232323"/><stop offset="0.2189" stop-color="#747474"/><stop offset="0.2226" stop-color="#afafaf"/><stop offset="0.2264" stop-color="#bfbfbf"/><stop offset="0.2302" stop-color="#b7b7b7"/><stop offset="0.2340" stop-color="#a8a8a8"/><stop offset="0.2377" stop-color="#a4a4a4"/><stop offset="0.2415" stop-color="#a8a8a8"/><stop offset="0.2453" stop-color="#b8b8b8"/><stop offset="0.2491" stop-color="#c2c2c2"/><stop offset="0.2679" stop-color="#c5c5c5"/><stop offset="0.2755" stop-color="#c5c5c5"/><stop offset="0.2868" stop-color="#c6c6c6"/><stop offset="0.2906" stop-color="#c5c5c5"/><stop offset="0.3019" stop-color="#c7c7c7"/><stop offset="0.3094" stop-color="#c7c7c7"/><stop offset="0.3849" stop-color="#c7c7c7"/><stop offset="0.3925" stop-color="#bdbdbd"/><stop offset="0.3962" stop-color="#9c9c9c"/><stop offset="0.4000" stop-color="#848484"/><stop offset="0.4038" stop-color="#858585"/><stop offset="0.4113" stop-color="#c5c5c5"/><stop offset="0.4151" stop-color="#c9c9c9"/><stop offset="0.4264" stop-color="#c7c7c7"/><stop offset="0.4302" stop-color="#c5c5c5"/><stop offset="0.4340" stop-color="#c7c7c7"/><stop offset="0.4377" stop-color="#c5c5c5"/><stop offset="0.4491" stop-color="#c9c9c9"/><stop offset="0.4717" stop-color="#c8c8c8"/><stop offset="0.4755" stop-color="#c6c6c6"/><stop offset="0.5019" stop-color="#cacaca"/><stop offset="0.5170" stop-color="#c9c9c9"/><stop offset="0.5245" stop-color="#c6c6c6"/><stop offset="0.5321" stop-color="#cacaca"/><stop offset="0.5472" stop-color="#cacaca"/><stop offset="0.5509" stop-color="#c7c7c7"/><stop offset="0.5547" stop-color="#b5b5b5"/><stop offset="0.5585" stop-color="#858585"/><stop offset="0.5623" stop-color="#3b3b3b"/><stop offset="0.5660" stop-color="#0c0c0c"/><stop offset="0.5811" stop-color="#0c0c0c"/><stop offset="0.5849" stop-color="#333333"/><stop offset="0.5887" stop-color="#666666"/><stop offset="0.5925" stop-color="#7d7d7d"/><stop offset="0.6000" stop-color="#7d7d7d"/><stop offset="0.6038" stop-color="#828282"/><stop offset="0.6113" stop-color="#9a9a9a"/><stop offset="0.6189" stop-color="#b1b1b1"/><stop offset="0.6264" stop-color="#bdbdbd"/><stop offset="0.6491" stop-color="#c8c8c8"/><stop offset="0.7057" stop-color="#d8d8d8"/><stop offset="0.7321" stop-color="#dddddd"/><stop offset="1.0000" stop-color="#dfdfdf"/></linearGradient>
<rect x="383.00" y="431.00" width="11.70" height="132.50" fill="url(#g28)" />
<linearGradient id="g29" gradientUnits="userSpaceOnUse" x1="0" y1="431.00" x2="0" y2="563.50"><stop offset="0.0000" stop-color="#c0c0c0"/><stop offset="0.0717" stop-color="#c5c5c5"/><stop offset="0.0792" stop-color="#c1c1c1"/><stop offset="0.0830" stop-color="#bcbcbc"/><stop offset="0.0906" stop-color="#aaaaaa"/><stop offset="0.0943" stop-color="#a4a4a4"/><stop offset="0.0981" stop-color="#a5a5a5"/><stop offset="0.1094" stop-color="#bebebe"/><stop offset="0.1170" stop-color="#c6c6c6"/><stop offset="0.1585" stop-color="#c7c7c7"/><stop offset="0.1849" stop-color="#c5c5c5"/><stop offset="0.1887" stop-color="#c3c3c3"/><stop offset="0.1925" stop-color="#b1b1b1"/><stop offset="0.1962" stop-color="#757575"/><stop offset="0.2000" stop-color="#242424"/><stop offset="0.2038" stop-color="#0c0c0c"/><stop offset="0.2113" stop-color="#0c0c0c"/><stop offset="0.2151" stop-color="#232323"/><stop offset="0.2189" stop-color="#747474"/><stop offset="0.2226" stop-color="#afafaf"/><stop offset="0.2264" stop-color="#bfbfbf"/><stop offset="0.2302" stop-color="#b7b7b7"/><stop offset="0.2340" stop-color="#a8a8a8"/><stop offset="0.2377" stop-color="#a4a4a4"/><stop offset="0.2415" stop-color="#a8a8a8"/><stop offset="0.2453" stop-color="#b8b8b8"/><stop offset="0.2491" stop-color="#bfbfbf"/><stop offset="0.2528" stop-color="#bfbfbf"/><stop offset="0.2566" stop-color="#c3c3c3"/><stop offset="0.2717" stop-color="#c6c6c6"/><stop offset="0.2792" stop-color="#c2c2c2"/><stop offset="0.2868" stop-color="#c7c7c7"/><stop offset="0.2943" stop-color="#c5c5c5"/><stop offset="0.3057" stop-color="#c8c8c8"/><stop offset="0.3170" stop-color="#c4c4c4"/><stop offset="0.3358" stop-color="#c8c8c8"/><stop offset="0.3509" stop-color="#c8c8c8"/><stop offset="0.3547" stop-color="#c6c6c6"/><stop offset="0.3585" stop-color="#c0c0c0"/><stop offset="0.3660" stop-color="#c8c8c8"/><stop offset="0.3849" stop-color="#c8c8c8"/><stop offset="0.3887" stop-color="#c5c5c5"/><stop offset="0.3925" stop-color="#bdbdbd"/><stop offset="0.3962" stop-color="#9c9c9c"/><stop offset="0.4000" stop-color="#848484"/><stop offset="0.4038" stop-color="#858585"/><stop offset="0.4113" stop-color="#c5c5c5"/><stop offset="0.4151" stop-color="#c9c9c9"/><stop offset="0.4528" stop-color="#c9c9c9"/><stop offset="0.4604" stop-color="#c5c5c5"/><stop offset="0.4679" stop-color="#c9c9c9"/><stop offset="0.5170" stop-color="#c9c9c9"/><stop offset="0.5208" stop-color="#c7c7c7"/><stop offset="0.5358" stop-color="#cacaca"/><stop offset="0.5472" stop-color="#cacaca"/><stop offset="0.5509" stop-color="#c7c7c7"/><stop offset="0.5547" stop-color="#b5b5b5"/><stop offset="0.5585" stop-color="#858585"/><stop offset="0.5623" stop-color="#3b3b3b"/><stop offset="0.5660" stop-color="#0c0c0c"/><stop offset="0.5811" stop-color="#0c0c0c"/><stop offset="0.5849" stop-color="#333333"/><stop offset="0.5887" stop-color="#666666"/><stop offset="0.5925" stop-color="#7d7d7d"/><stop offset="0.6000" stop-color="#7d7d7d"/><stop offset="0.6038" stop-color="#828282"/><stop offset="0.6113" stop-color="#9a9a9a"/><stop offset="0.6189" stop-color="#b1b1b1"/><stop offset="0.6264" stop-color="#bdbdbd"/><stop offset="0.6491" stop-color="#c8c8c8"/><stop offset="0.7057" stop-color="#d8d8d8"/><stop offset="0.7321" stop-color="#dddddd"/><stop offset="1.0000" stop-color="#dfdfdf"/></linearGradient>
<rect x="396.50" y="431.00" width="11.20" height="132.50" fill="url(#g29)" />
<linearGradient id="g30" gradientUnits="userSpaceOnUse" x1="0" y1="431.00" x2="0" y2="563.50"><stop offset="0.0000" stop-color="#c0c0c0"/><stop offset="0.0717" stop-color="#c5c5c5"/><stop offset="0.0792" stop-color="#c1c1c1"/><stop offset="0.0830" stop-color="#bcbcbc"/><stop offset="0.0906" stop-color="#aaaaaa"/><stop offset="0.0943" stop-color="#a4a4a4"/><stop offset="0.0981" stop-color="#a5a5a5"/><stop offset="0.1094" stop-color="#bebebe"/><stop offset="0.1170" stop-color="#c6c6c6"/><stop offset="0.1585" stop-color="#c7c7c7"/><stop offset="0.1849" stop-color="#c5c5c5"/><stop offset="0.1887" stop-color="#c3c3c3"/><stop offset="0.1925" stop-color="#b1b1b1"/><stop offset="0.1962" stop-color="#757575"/><stop offset="0.2000" stop-color="#242424"/><stop offset="0.2038" stop-color="#0c0c0c"/><stop offset="0.2113" stop-color="#0c0c0c"/><stop offset="0.2151" stop-color="#232323"/><stop offset="0.2189" stop-color="#747474"/><stop offset="0.2226" stop-color="#afafaf"/><stop offset="0.2264" stop-color="#bfbfbf"/><stop offset="0.2302" stop-color="#b7b7b7"/><stop offset="0.2340" stop-color="#a8a8a8"/><stop offset="0.2377" stop-color="#a4a4a4"/><stop offset="0.2415" stop-color="#a8a8a8"/><stop offset="0.2453" stop-color="#b8b8b8"/><stop offset="0.2491" stop-color="#c2c2c2"/><stop offset="0.2868" stop-color="#c7c7c7"/><stop offset="0.2943" stop-color="#c5c5c5"/><stop offset="0.3019" stop-color="#c7c7c7"/><stop offset="0.3170" stop-color="#c7c7c7"/><stop offset="0.3283" stop-color="#c8c8c8"/><stop offset="0.3321" stop-color="#c4c4c4"/><stop offset="0.3472" stop-color="#c8c8c8"/><stop offset="0.3585" stop-color="#c6c6c6"/><stop offset="0.3623" stop-color="#c8c8c8"/><stop offset="0.3698" stop-color="#c3c3c3"/><stop offset="0.3736" stop-color="#c8c8c8"/><stop offset="0.3849" stop-color="#c8c8c8"/><stop offset="0.3887" stop-color="#c6c6c6"/><stop offset="0.3925" stop-color="#c0c0c0"/><stop offset="0.3962" stop-color="#9d9d9d"/><stop offset="0.4000" stop-color="#848484"/><stop offset="0.4038" stop-color="#858585"/><stop offset="0.4113" stop-color="#c5c5c5"/><stop offset="0.4151" stop-color="#c9c9c9"/><stop offset="0.4491" stop-color="#c8c8c8"/><stop offset="0.4528" stop-color="#c5c5c5"/><stop offset="0.4566" stop-color="#c5c5c5"/><stop offset="0.4604" stop-color="#c9c9c9"/><stop offset="0.4679" stop-color="#c8c8c8"/><stop offset="0.4717" stop-color="#c3c3c3"/><stop offset="0.4755" stop-color="#c4c4c4"/><stop offset="0.4792" stop-color="#c9c9c9"/><stop offset="0.5472" stop-color="#cacaca"/><stop offset="0.5509" stop-color="#c7c7c7"/><stop offset="0.5547" stop-color="#b5b5b5"/><stop offset="0.5585" stop-color="#858585"/><stop offset="0.5623" stop-color="#3b3b3b"/><stop offset="0.5660" stop-color="#0c0c0c"/><stop offset="0.5811" stop-color="#0c0c0c"/><stop offset="0.5849" stop-color="#333333"/><stop offset="0.5887" stop-color="#666666"/><stop offset="0.5925" stop-color="#7d7d7d"/><stop offset="0.6000" stop-color="#7d7d7d"/><stop offset="0.6038" stop-color="#828282"/><stop offset="0.6113" stop-color="#9a9a9a"/><stop offset="0.6189" stop-color="#b1b1b1"/><stop offset="0.6264" stop-color="#bdbdbd"/><stop offset="0.6491" stop-color="#c8c8c8"/><stop offset="0.7057" stop-color="#d8d8d8"/><stop offset="0.7321" stop-color="#dddddd"/><stop offset="1.0000" stop-color="#dfdfdf"/></linearGradient>
<rect x="410.30" y="431.00" width="11.70" height="132.50" fill="url(#g30)" />
<linearGradient id="g31" gradientUnits="userSpaceOnUse" x1="0" y1="431.00" x2="0" y2="563.50"><stop offset="0.0000" stop-color="#c0c0c0"/><stop offset="0.0717" stop-color="#c5c5c5"/><stop offset="0.0792" stop-color="#c1c1c1"/><stop offset="0.0830" stop-color="#bcbcbc"/><stop offset="0.0906" stop-color="#aaaaaa"/><stop offset="0.0943" stop-color="#a4a4a4"/><stop offset="0.0981" stop-color="#a5a5a5"/><stop offset="0.1094" stop-color="#bebebe"/><stop offset="0.1170" stop-color="#c6c6c6"/><stop offset="0.1585" stop-color="#c7c7c7"/><stop offset="0.1849" stop-color="#c5c5c5"/><stop offset="0.1887" stop-color="#c3c3c3"/><stop offset="0.1925" stop-color="#b1b1b1"/><stop offset="0.1962" stop-color="#757575"/><stop offset="0.2000" stop-color="#242424"/><stop offset="0.2038" stop-color="#0c0c0c"/><stop offset="0.2113" stop-color="#0c0c0c"/><stop offset="0.2151" stop-color="#232323"/><stop offset="0.2189" stop-color="#747474"/><stop offset="0.2226" stop-color="#afafaf"/><stop offset="0.2264" stop-color="#bfbfbf"/><stop offset="0.2302" stop-color="#b7b7b7"/><stop offset="0.2340" stop-color="#a8a8a8"/><stop offset="0.2377" stop-color="#a4a4a4"/><stop offset="0.2415" stop-color="#a8a8a8"/><stop offset="0.2453" stop-color="#b8b8b8"/><stop offset="0.2491" stop-color="#c2c2c2"/><stop offset="0.2566" stop-color="#c3c3c3"/><stop offset="0.2604" stop-color="#c0c0c0"/><stop offset="0.2679" stop-color="#c4c4c4"/><stop offset="0.3094" stop-color="#c8c8c8"/><stop offset="0.3208" stop-color="#c7c7c7"/><stop offset="0.3660" stop-color="#c8c8c8"/><stop offset="0.3736" stop-color="#c7c7c7"/><stop offset="0.3887" stop-color="#c9c9c9"/><stop offset="0.3925" stop-color="#c2c2c2"/><stop offset="0.3962" stop-color="#9d9d9d"/><stop offset="0.4000" stop-color="#838383"/><stop offset="0.4038" stop-color="#838383"/><stop offset="0.4113" stop-color="#c3c3c3"/><stop offset="0.4151" stop-color="#c3c3c3"/><stop offset="0.4226" stop-color="#c9c9c9"/><stop offset="0.4415" stop-color="#c8c8c8"/><stop offset="0.4453" stop-color="#c6c6c6"/><stop offset="0.4566" stop-color="#c9c9c9"/><stop offset="0.5208" stop-color="#c9c9c9"/><stop offset="0.5283" stop-color="#c7c7c7"/><stop offset="0.5321" stop-color="#c9c9c9"/><stop offset="0.5472" stop-color="#c9c9c9"/><stop offset="0.5509" stop-color="#c4c4c4"/><stop offset="0.5547" stop-color="#b4b4b4"/><stop offset="0.5585" stop-color="#858585"/><stop offset="0.5623" stop-color="#3b3b3b"/><stop offset="0.5660" stop-color="#0c0c0c"/><stop offset="0.5811" stop-color="#0c0c0c"/><stop offset="0.5849" stop-color="#333333"/><stop offset="0.5887" stop-color="#666666"/><stop offset="0.5925" stop-color="#7d7d7d"/><stop offset="0.6000" stop-color="#7d7d7d"/><stop offset="0.6038" stop-color="#828282"/><stop offset="0.6113" stop-color="#9a9a9a"/><stop offset="0.6189" stop-color="#b1b1b1"/><stop offset="0.6264" stop-color="#bdbdbd"/><stop offset="0.6491" stop-color="#c8c8c8"/><stop offset="0.7057" stop-color="#d8d8d8"/><stop offset="0.7321" stop-color="#dddddd"/><stop offset="1.0000" stop-color="#dfdfdf"/></linearGradient>
<rect x="424.60" y="431.00" width="11.60" height="132.50" fill="url(#g31)" />
<linearGradient id="g32" gradientUnits="userSpaceOnUse" x1="0" y1="431.00" x2="0" y2="563.50"><stop offset="0.0000" stop-color="#c0c0c0"/><stop offset="0.0717" stop-color="#c5c5c5"/><stop offset="0.0792" stop-color="#c1c1c1"/><stop offset="0.0830" stop-color="#bcbcbc"/><stop offset="0.0906" stop-color="#aaaaaa"/><stop offset="0.0943" stop-color="#a4a4a4"/><stop offset="0.0981" stop-color="#a5a5a5"/><stop offset="0.1094" stop-color="#bebebe"/><stop offset="0.1170" stop-color="#c6c6c6"/><stop offset="0.1585" stop-color="#c7c7c7"/><stop offset="0.1849" stop-color="#c5c5c5"/><stop offset="0.1887" stop-color="#c3c3c3"/><stop offset="0.1925" stop-color="#b1b1b1"/><stop offset="0.1962" stop-color="#757575"/><stop offset="0.2000" stop-color="#242424"/><stop offset="0.2038" stop-color="#0c0c0c"/><stop offset="0.2113" stop-color="#0c0c0c"/><stop offset="0.2151" stop-color="#232323"/><stop offset="0.2189" stop-color="#747474"/><stop offset="0.2226" stop-color="#afafaf"/><stop offset="0.2264" stop-color="#bfbfbf"/><stop offset="0.2302" stop-color="#b7b7b7"/><stop offset="0.2340" stop-color="#a8a8a8"/><stop offset="0.2377" stop-color="#a4a4a4"/><stop offset="0.2415" stop-color="#a8a8a8"/><stop offset="0.2453" stop-color="#b8b8b8"/><stop offset="0.2491" stop-color="#c1c1c1"/><stop offset="0.2528" stop-color="#bebebe"/><stop offset="0.2604" stop-color="#c4c4c4"/><stop offset="0.2755" stop-color="#c2c2c2"/><stop offset="0.2868" stop-color="#c7c7c7"/><stop offset="0.2943" stop-color="#c7c7c7"/><stop offset="0.2981" stop-color="#c4c4c4"/><stop offset="0.3094" stop-color="#c8c8c8"/><stop offset="0.3170" stop-color="#c8c8c8"/><stop offset="0.3245" stop-color="#c6c6c6"/><stop offset="0.3321" stop-color="#c8c8c8"/><stop offset="0.3396" stop-color="#c6c6c6"/><stop offset="0.3623" stop-color="#c8c8c8"/><stop offset="0.3698" stop-color="#c3c3c3"/><stop offset="0.3736" stop-color="#c7c7c7"/><stop offset="0.3887" stop-color="#c9c9c9"/><stop offset="0.3925" stop-color="#c2c2c2"/><stop offset="0.3962" stop-color="#9d9d9d"/><stop offset="0.4000" stop-color="#848484"/><stop offset="0.4038" stop-color="#858585"/><stop offset="0.4113" stop-color="#c5c5c5"/><stop offset="0.4151" stop-color="#c9c9c9"/><stop offset="0.5094" stop-color="#c9c9c9"/><stop offset="0.5132" stop-color="#c7c7c7"/><stop offset="0.5245" stop-color="#cacaca"/><stop offset="0.5321" stop-color="#c6c6c6"/><stop offset="0.5434" stop-color="#cacaca"/><stop offset="0.5509" stop-color="#c7c7c7"/><stop offset="0.5547" stop-color="#b5b5b5"/><stop offset="0.5585" stop-color="#858585"/><stop offset="0.5623" stop-color="#3b3b3b"/><stop offset="0.5660" stop-color="#0c0c0c"/><stop offset="0.5811" stop-color="#0c0c0c"/><stop offset="0.5849" stop-color="#333333"/><stop offset="0.5887" stop-color="#666666"/><stop offset="0.5925" stop-color="#7d7d7d"/><stop offset="0.6000" stop-color="#7d7d7d"/><stop offset="0.6038" stop-color="#828282"/><stop offset="0.6113" stop-color="#9a9a9a"/><stop offset="0.6189" stop-color="#b1b1b1"/><stop offset="0.6264" stop-color="#bdbdbd"/><stop offset="0.6491" stop-color="#c8c8c8"/><stop offset="0.7057" stop-color="#d8d8d8"/><stop offset="0.7321" stop-color="#dddddd"/><stop offset="1.0000" stop-color="#dfdfdf"/></linearGradient>
<rect x="438.30" y="431.00" width="12.20" height="132.50" fill="url(#g32)" />
</g>
<line x1="318.80" y1="508.30" x2="331.00" y2="508.30" stroke="#222" stroke-width="0.8" />
<path d="M334.00,508.30 L329.80,506.60 L329.80,510.00 Z" fill="#222"/>
<line x1="318.80" y1="517.80" x2="331.00" y2="517.80" stroke="#222" stroke-width="0.8" />
<path d="M334.00,517.80 L329.80,516.10 L329.80,519.50 Z" fill="#222"/>
<text x="315.00" y="510.61" font-size="7.3" text-anchor="end" fill="#111111" stroke="#111111" stroke-width="0.2" >Histone H3</text>
<text x="315.00" y="520.41" font-size="7.3" text-anchor="end" fill="#111111" stroke="#111111" stroke-width="0.2" >H3 Fragment</text>
<text x="6.70" y="203.03" font-size="12.3" text-anchor="start" font-weight="bold" fill="#111" stroke="#111" stroke-width="0.2" >B</text>
<text x="110.40" y="199.62" font-size="8.2" text-anchor="middle" fill="#111111" stroke="#111111" stroke-width="0.2" >Nanobodies with minimal or</text>
<text x="110.30" y="211.02" font-size="8.2" text-anchor="middle" fill="#111111" stroke="#111111" stroke-width="0.2" >enhancement effect</text>
<line x1="49.80" y1="214.24" x2="49.80" y2="351.50" stroke="#222" stroke-width="1.0" />
<line x1="47.00" y1="351.00" x2="49.80" y2="351.00" stroke="#222" stroke-width="0.8" />
<line x1="48.60" y1="345.74" x2="49.80" y2="345.74" stroke="#222" stroke-width="0.8" />
<line x1="48.60" y1="340.48" x2="49.80" y2="340.48" stroke="#222" stroke-width="0.8" />
<line x1="48.60" y1="335.22" x2="49.80" y2="335.22" stroke="#222" stroke-width="0.8" />
<line x1="48.60" y1="329.96" x2="49.80" y2="329.96" stroke="#222" stroke-width="0.8" />
<line x1="47.00" y1="324.70" x2="49.80" y2="324.70" stroke="#222" stroke-width="0.8" />
<line x1="48.60" y1="319.44" x2="49.80" y2="319.44" stroke="#222" stroke-width="0.8" />
<line x1="48.60" y1="314.18" x2="49.80" y2="314.18" stroke="#222" stroke-width="0.8" />
<line x1="48.60" y1="308.92" x2="49.80" y2="308.92" stroke="#222" stroke-width="0.8" />
<line x1="48.60" y1="303.66" x2="49.80" y2="303.66" stroke="#222" stroke-width="0.8" />
<line x1="47.00" y1="298.40" x2="49.80" y2="298.40" stroke="#222" stroke-width="0.8" />
<line x1="48.60" y1="293.14" x2="49.80" y2="293.14" stroke="#222" stroke-width="0.8" />
<line x1="48.60" y1="287.88" x2="49.80" y2="287.88" stroke="#222" stroke-width="0.8" />
<line x1="48.60" y1="282.62" x2="49.80" y2="282.62" stroke="#222" stroke-width="0.8" />
<line x1="48.60" y1="277.36" x2="49.80" y2="277.36" stroke="#222" stroke-width="0.8" />
<line x1="47.00" y1="272.10" x2="49.80" y2="272.10" stroke="#222" stroke-width="0.8" />
<line x1="48.60" y1="266.84" x2="49.80" y2="266.84" stroke="#222" stroke-width="0.8" />
<line x1="48.60" y1="261.58" x2="49.80" y2="261.58" stroke="#222" stroke-width="0.8" />
<line x1="48.60" y1="256.32" x2="49.80" y2="256.32" stroke="#222" stroke-width="0.8" />
<line x1="48.60" y1="251.06" x2="49.80" y2="251.06" stroke="#222" stroke-width="0.8" />
<line x1="47.00" y1="245.80" x2="49.80" y2="245.80" stroke="#222" stroke-width="0.8" />
<line x1="48.60" y1="240.54" x2="49.80" y2="240.54" stroke="#222" stroke-width="0.8" />
<line x1="48.60" y1="235.28" x2="49.80" y2="235.28" stroke="#222" stroke-width="0.8" />
<line x1="48.60" y1="230.02" x2="49.80" y2="230.02" stroke="#222" stroke-width="0.8" />
<line x1="48.60" y1="224.76" x2="49.80" y2="224.76" stroke="#222" stroke-width="0.8" />
<line x1="47.00" y1="219.50" x2="49.80" y2="219.50" stroke="#222" stroke-width="0.8" />
<line x1="48.60" y1="214.24" x2="49.80" y2="214.24" stroke="#222" stroke-width="0.8" />
<text x="43.50" y="354.04" font-size="7.1" text-anchor="end" fill="#111111" stroke="#111111" stroke-width="0.2" >0</text>
<text x="43.50" y="327.74" font-size="7.1" text-anchor="end" fill="#111111" stroke="#111111" stroke-width="0.2" >25</text>
<text x="43.50" y="301.44" font-size="7.1" text-anchor="end" fill="#111111" stroke="#111111" stroke-width="0.2" >50</text>
<text x="43.50" y="275.14" font-size="7.1" text-anchor="end" fill="#111111" stroke="#111111" stroke-width="0.2" >75</text>
<text x="43.50" y="248.84" font-size="7.1" text-anchor="end" fill="#111111" stroke="#111111" stroke-width="0.2" >100</text>
<text x="43.50" y="222.54" font-size="7.1" text-anchor="end" fill="#111111" stroke="#111111" stroke-width="0.2" >125</text>
<line x1="56.70" y1="358.80" x2="164.30" y2="358.80" stroke="#222" stroke-width="1.0" />
<line x1="57.20" y1="358.80" x2="57.20" y2="361.40" stroke="#222" stroke-width="0.9" />
<line x1="81.70" y1="358.80" x2="81.70" y2="361.40" stroke="#222" stroke-width="0.9" />
<line x1="106.20" y1="358.80" x2="106.20" y2="361.40" stroke="#222" stroke-width="0.9" />
<line x1="130.70" y1="358.80" x2="130.70" y2="361.40" stroke="#222" stroke-width="0.9" />
<line x1="155.20" y1="358.80" x2="155.20" y2="361.40" stroke="#222" stroke-width="0.9" />
<text x="57.20" y="371.35" font-size="7.4" text-anchor="middle" fill="#111111" stroke="#111111" stroke-width="0.2" >0</text>
<text x="81.70" y="371.35" font-size="7.4" text-anchor="middle" fill="#111111" stroke="#111111" stroke-width="0.2" >30</text>
<text x="106.20" y="371.35" font-size="7.4" text-anchor="middle" fill="#111111" stroke="#111111" stroke-width="0.2" >60</text>
<text x="130.70" y="371.35" font-size="7.4" text-anchor="middle" fill="#111111" stroke="#111111" stroke-width="0.2" >90</text>
<text x="155.20" y="371.35" font-size="7.4" text-anchor="middle" fill="#111111" stroke="#111111" stroke-width="0.2" >120</text>
<text x="0" y="0" font-size="9.4" text-anchor="middle" fill="#111111" stroke="#111111" stroke-width="0.2" transform="translate(110.00,384.73) scale(0.7,1)">Time (min)</text>
<text x="0" y="0" font-size="9.4" text-anchor="middle" fill="#111111" stroke="#111111" stroke-width="0.2" transform="translate(14.13,283.00) rotate(-90) scale(0.7,1)">Histone H3 cleavage</text>
<text x="0" y="0" font-size="9.4" text-anchor="middle" fill="#111111" stroke="#111111" stroke-width="0.2" transform="translate(24.73,283.00) rotate(-90) scale(0.7,1)">(normalized %)</text>
<path d="M57.20,351.00 L62.92,327.86 L69.45,311.02 L81.70,293.14 L93.95,281.57 L106.20,268.94 L130.70,255.27 L155.20,241.91" fill="none" stroke="#e0508f" stroke-width="0.8"/>
<path d="M57.20,349.20V352.80" stroke="#e0508f" stroke-width="0.7"/>
<path d="M62.92,326.06V329.66" stroke="#e0508f" stroke-width="0.7"/>
<path d="M69.45,309.22V312.82" stroke="#e0508f" stroke-width="0.7"/>
<path d="M81.70,291.34V294.94" stroke="#e0508f" stroke-width="0.7"/>
<path d="M93.95,279.77V283.37" stroke="#e0508f" stroke-width="0.7"/>
<path d="M106.20,267.14V270.74" stroke="#e0508f" stroke-width="0.7"/>
<path d="M130.70,253.47V257.07" stroke="#e0508f" stroke-width="0.7"/>
<path d="M155.20,240.11V243.71" stroke="#e0508f" stroke-width="0.7"/>
<path d="M57.20,351.00 L62.92,346.79 L69.45,329.96 L81.70,308.39 L93.95,284.72 L106.20,282.62 L130.70,271.15 L155.20,258.42" fill="none" stroke="#3aa2cc" stroke-width="0.8"/>
<path d="M57.20,348.70L59.50,352.84L54.90,352.84Z" fill="#3aa2cc"/>
<path d="M62.92,344.49L65.22,348.63L60.62,348.63Z" fill="#3aa2cc"/>
<path d="M69.45,327.66L71.75,331.80L67.15,331.80Z" fill="#3aa2cc"/>
<path d="M81.70,306.09L84.00,310.23L79.40,310.23Z" fill="#3aa2cc"/>
<path d="M93.95,282.42L96.25,286.56L91.65,286.56Z" fill="#3aa2cc"/>
<path d="M106.20,280.32L108.50,284.46L103.90,284.46Z" fill="#3aa2cc"/>
<path d="M130.70,268.85L133.00,272.99L128.40,272.99Z" fill="#3aa2cc"/>
<path d="M155.20,256.12L157.50,260.26L152.90,260.26Z" fill="#3aa2cc"/>
<path d="M57.20,351.00 L62.92,315.23 L69.45,295.24 L81.70,278.41 L93.95,266.52 L106.20,257.37 L130.70,248.54 L155.20,237.38" fill="none" stroke="#5b7d7d" stroke-width="0.8"/>
<rect x="55.00" y="348.80" width="4.40" height="4.40" fill="#fff" stroke="#5b7d7d" stroke-width="0.8"/><path d="M55.20,349.00L59.20,353.00M59.20,349.00L55.20,353.00" stroke="#5b7d7d" stroke-width="0.7"/>
<rect x="60.72" y="313.03" width="4.40" height="4.40" fill="#fff" stroke="#5b7d7d" stroke-width="0.8"/><path d="M60.92,313.23L64.92,317.23M64.92,313.23L60.92,317.23" stroke="#5b7d7d" stroke-width="0.7"/>
<rect x="67.25" y="293.04" width="4.40" height="4.40" fill="#fff" stroke="#5b7d7d" stroke-width="0.8"/><path d="M67.45,293.24L71.45,297.24M71.45,293.24L67.45,297.24" stroke="#5b7d7d" stroke-width="0.7"/>
<rect x="79.50" y="276.21" width="4.40" height="4.40" fill="#fff" stroke="#5b7d7d" stroke-width="0.8"/><path d="M79.70,276.41L83.70,280.41M83.70,276.41L79.70,280.41" stroke="#5b7d7d" stroke-width="0.7"/>
<rect x="91.75" y="264.32" width="4.40" height="4.40" fill="#fff" stroke="#5b7d7d" stroke-width="0.8"/><path d="M91.95,264.52L95.95,268.52M95.95,264.52L91.95,268.52" stroke="#5b7d7d" stroke-width="0.7"/>
<rect x="104.00" y="255.17" width="4.40" height="4.40" fill="#fff" stroke="#5b7d7d" stroke-width="0.8"/><path d="M104.20,255.37L108.20,259.37M108.20,255.37L104.20,259.37" stroke="#5b7d7d" stroke-width="0.7"/>
<rect x="128.50" y="246.34" width="4.40" height="4.40" fill="#fff" stroke="#5b7d7d" stroke-width="0.8"/><path d="M128.70,246.54L132.70,250.54M132.70,246.54L128.70,250.54" stroke="#5b7d7d" stroke-width="0.7"/>
<rect x="153.00" y="235.18" width="4.40" height="4.40" fill="#fff" stroke="#5b7d7d" stroke-width="0.8"/><path d="M153.20,235.38L157.20,239.38M157.20,235.38L153.20,239.38" stroke="#5b7d7d" stroke-width="0.7"/>
<path d="M57.20,351.00 L62.92,321.54 L69.45,304.71 L81.70,291.04 L93.95,282.62 L106.20,277.36 L130.70,267.89 L155.20,258.42" fill="none" stroke="#8a7bc0" stroke-width="0.8"/>
<rect x="55.20" y="349.00" width="4.00" height="4.00" fill="#8a7bc0"/>
<rect x="60.92" y="319.54" width="4.00" height="4.00" fill="#8a7bc0"/>
<rect x="67.45" y="302.71" width="4.00" height="4.00" fill="#8a7bc0"/>
<rect x="79.70" y="289.04" width="4.00" height="4.00" fill="#8a7bc0"/>
<rect x="91.95" y="280.62" width="4.00" height="4.00" fill="#8a7bc0"/>
<rect x="104.20" y="275.36" width="4.00" height="4.00" fill="#8a7bc0"/>
<rect x="128.70" y="265.89" width="4.00" height="4.00" fill="#8a7bc0"/>
<rect x="153.20" y="256.42" width="4.00" height="4.00" fill="#8a7bc0"/>
<path d="M57.20,351.00 L62.92,315.23 L69.45,279.46 L81.70,259.48 L93.95,247.90 L106.20,238.02 L130.70,228.97 L155.20,220.55" fill="none" stroke="#3a8f6a" stroke-width="0.8"/>
<rect x="55.00" y="348.80" width="4.40" height="4.40" fill="#fff" stroke="#3a8f6a" stroke-width="0.8"/><circle cx="57.20" cy="351.00" r="0.7" fill="#3a8f6a"/>
<rect x="60.72" y="313.03" width="4.40" height="4.40" fill="#fff" stroke="#3a8f6a" stroke-width="0.8"/><circle cx="62.92" cy="315.23" r="0.7" fill="#3a8f6a"/>
<rect x="67.25" y="277.26" width="4.40" height="4.40" fill="#fff" stroke="#3a8f6a" stroke-width="0.8"/><circle cx="69.45" cy="279.46" r="0.7" fill="#3a8f6a"/>
<rect x="79.50" y="257.28" width="4.40" height="4.40" fill="#fff" stroke="#3a8f6a" stroke-width="0.8"/><circle cx="81.70" cy="259.48" r="0.7" fill="#3a8f6a"/>
<rect x="91.75" y="245.70" width="4.40" height="4.40" fill="#fff" stroke="#3a8f6a" stroke-width="0.8"/><circle cx="93.95" cy="247.90" r="0.7" fill="#3a8f6a"/>
<rect x="104.00" y="235.82" width="4.40" height="4.40" fill="#fff" stroke="#3a8f6a" stroke-width="0.8"/><circle cx="106.20" cy="238.02" r="0.7" fill="#3a8f6a"/>
<rect x="128.50" y="226.77" width="4.40" height="4.40" fill="#fff" stroke="#3a8f6a" stroke-width="0.8"/><circle cx="130.70" cy="228.97" r="0.7" fill="#3a8f6a"/>
<rect x="153.00" y="218.35" width="4.40" height="4.40" fill="#fff" stroke="#3a8f6a" stroke-width="0.8"/><circle cx="155.20" cy="220.55" r="0.7" fill="#3a8f6a"/>
<path d="M57.20,351.00 L62.92,321.54 L69.45,306.82 L81.70,291.04 L93.95,281.57 L106.20,271.05 L130.70,262.63 L155.20,251.06" fill="none" stroke="#f0a860" stroke-width="0.8"/>
<path d="M55.20,351.00H59.20M57.20,349.00V353.00" stroke="#f0a860" stroke-width="0.8"/>
<path d="M60.92,321.54H64.92M62.92,319.54V323.54" stroke="#f0a860" stroke-width="0.8"/>
<path d="M67.45,306.82H71.45M69.45,304.82V308.82" stroke="#f0a860" stroke-width="0.8"/>
<path d="M79.70,291.04H83.70M81.70,289.04V293.04" stroke="#f0a860" stroke-width="0.8"/>
<path d="M91.95,281.57H95.95M93.95,279.57V283.57" stroke="#f0a860" stroke-width="0.8"/>
<path d="M104.20,271.05H108.20M106.20,269.05V273.05" stroke="#f0a860" stroke-width="0.8"/>
<path d="M128.70,262.63H132.70M130.70,260.63V264.63" stroke="#f0a860" stroke-width="0.8"/>
<path d="M153.20,251.06H157.20M155.20,249.06V253.06" stroke="#f0a860" stroke-width="0.8"/>
<path d="M57.20,351.00 L62.92,319.44 L69.45,304.71 L81.70,288.30 L93.95,275.05 L106.20,267.26 L130.70,257.37 L155.20,253.16" fill="none" stroke="#6b3d7c" stroke-width="0.8"/>
<path d="M57.20,349.40L58.80,351.00L57.20,352.60L55.60,351.00Z" fill="#6b3d7c"/>
<path d="M62.92,317.84L64.52,319.44L62.92,321.04L61.32,319.44Z" fill="#6b3d7c"/>
<path d="M69.45,303.11L71.05,304.71L69.45,306.31L67.85,304.71Z" fill="#6b3d7c"/>
<path d="M81.70,286.70L83.30,288.30L81.70,289.90L80.10,288.30Z" fill="#6b3d7c"/>
<path d="M93.95,273.45L95.55,275.05L93.95,276.65L92.35,275.05Z" fill="#6b3d7c"/>
<path d="M106.20,265.66L107.80,267.26L106.20,268.86L104.60,267.26Z" fill="#6b3d7c"/>
<path d="M130.70,255.77L132.30,257.37L130.70,258.97L129.10,257.37Z" fill="#6b3d7c"/>
<path d="M155.20,251.56L156.80,253.16L155.20,254.76L153.60,253.16Z" fill="#6b3d7c"/>
<path d="M57.20,351.00 L62.92,303.03 L69.45,293.46 L81.70,279.46 L93.95,269.58 L106.20,264.21 L130.70,260.53 L155.20,249.59" fill="none" stroke="#6cbf5a" stroke-width="0.8"/>
<circle cx="57.20" cy="351.00" r="2.10" fill="#fff" stroke="#6cbf5a" stroke-width="0.8"/>
<circle cx="62.92" cy="303.03" r="2.10" fill="#fff" stroke="#6cbf5a" stroke-width="0.8"/>
<circle cx="69.45" cy="293.46" r="2.10" fill="#fff" stroke="#6cbf5a" stroke-width="0.8"/>
<circle cx="81.70" cy="279.46" r="2.10" fill="#fff" stroke="#6cbf5a" stroke-width="0.8"/>
<circle cx="93.95" cy="269.58" r="2.10" fill="#fff" stroke="#6cbf5a" stroke-width="0.8"/>
<circle cx="106.20" cy="264.21" r="2.10" fill="#fff" stroke="#6cbf5a" stroke-width="0.8"/>
<circle cx="130.70" cy="260.53" r="2.10" fill="#fff" stroke="#6cbf5a" stroke-width="0.8"/>
<circle cx="155.20" cy="249.59" r="2.10" fill="#fff" stroke="#6cbf5a" stroke-width="0.8"/>
<path d="M57.20,351.00 L62.92,295.24 L69.45,286.41 L81.70,270.00 L93.95,260.11 L106.20,253.48 L130.70,240.86 L155.20,232.65" fill="none" stroke="#1b3a6b" stroke-width="0.8"/>
<path d="M57.20,348.60L59.60,351.00L57.20,353.40L54.80,351.00Z" fill="#1b3a6b"/>
<path d="M62.92,292.84L65.32,295.24L62.92,297.64L60.52,295.24Z" fill="#1b3a6b"/>
<path d="M69.45,284.01L71.85,286.41L69.45,288.81L67.05,286.41Z" fill="#1b3a6b"/>
<path d="M81.70,267.60L84.10,270.00L81.70,272.40L79.30,270.00Z" fill="#1b3a6b"/>
<path d="M93.95,257.71L96.35,260.11L93.95,262.51L91.55,260.11Z" fill="#1b3a6b"/>
<path d="M106.20,251.08L108.60,253.48L106.20,255.88L103.80,253.48Z" fill="#1b3a6b"/>
<path d="M130.70,238.46L133.10,240.86L130.70,243.26L128.30,240.86Z" fill="#1b3a6b"/>
<path d="M155.20,230.25L157.60,232.65L155.20,235.05L152.80,232.65Z" fill="#1b3a6b"/>
<path d="M57.20,351.00 L62.92,343.64 L69.45,308.92 L81.70,294.19 L93.95,282.62 L106.20,275.26 L118.45,255.79 L130.70,257.37 L155.20,245.80" fill="none" stroke="#cc4f6c" stroke-width="0.8"/>
<rect x="55.00" y="348.80" width="4.40" height="4.40" fill="#fff" stroke="#cc4f6c" stroke-width="0.8"/>
<rect x="60.72" y="341.44" width="4.40" height="4.40" fill="#fff" stroke="#cc4f6c" stroke-width="0.8"/>
<rect x="67.25" y="306.72" width="4.40" height="4.40" fill="#fff" stroke="#cc4f6c" stroke-width="0.8"/>
<rect x="79.50" y="291.99" width="4.40" height="4.40" fill="#fff" stroke="#cc4f6c" stroke-width="0.8"/>
<rect x="91.75" y="280.42" width="4.40" height="4.40" fill="#fff" stroke="#cc4f6c" stroke-width="0.8"/>
<rect x="104.00" y="273.06" width="4.40" height="4.40" fill="#fff" stroke="#cc4f6c" stroke-width="0.8"/>
<rect x="116.25" y="253.59" width="4.40" height="4.40" fill="#fff" stroke="#cc4f6c" stroke-width="0.8"/>
<rect x="128.50" y="255.17" width="4.40" height="4.40" fill="#fff" stroke="#cc4f6c" stroke-width="0.8"/>
<rect x="153.00" y="243.60" width="4.40" height="4.40" fill="#fff" stroke="#cc4f6c" stroke-width="0.8"/>
<rect x="55.00" y="348.80" width="4.4" height="4.4" fill="#2a5a4a"/>
<line x1="180.50" y1="219.30" x2="188.90" y2="219.30" stroke="#cc4f6c" stroke-width="0.8" />
<rect x="182.50" y="217.10" width="4.40" height="4.40" fill="#fff" stroke="#cc4f6c" stroke-width="0.8"/>
<text x="192.80" y="221.85" font-size="7.4" text-anchor="start" fill="#111111" stroke="#111111" stroke-width="0.2" >APC alone</text>
<line x1="180.50" y1="229.40" x2="188.90" y2="229.40" stroke="#1b3a6b" stroke-width="0.8" />
<path d="M184.70,227.00L187.10,229.40L184.70,231.80L182.30,229.40Z" fill="#1b3a6b"/>
<text x="192.80" y="231.95" font-size="7.4" text-anchor="start" fill="#111111" stroke="#111111" stroke-width="0.2" >LP3</text>
<line x1="180.50" y1="239.50" x2="188.90" y2="239.50" stroke="#6cbf5a" stroke-width="0.8" />
<circle cx="184.70" cy="239.50" r="2.10" fill="#fff" stroke="#6cbf5a" stroke-width="0.8"/>
<text x="192.80" y="242.05" font-size="7.4" text-anchor="start" fill="#111111" stroke="#111111" stroke-width="0.2" >LP4</text>
<line x1="180.50" y1="249.60" x2="188.90" y2="249.60" stroke="#6b3d7c" stroke-width="0.8" />
<path d="M184.70,248.00L186.30,249.60L184.70,251.20L183.10,249.60Z" fill="#6b3d7c"/>
<text x="192.80" y="252.15" font-size="7.4" text-anchor="start" fill="#111111" stroke="#111111" stroke-width="0.2" >LP9</text>
<line x1="180.50" y1="259.70" x2="188.90" y2="259.70" stroke="#f0a860" stroke-width="0.8" />
<path d="M182.70,259.70H186.70M184.70,257.70V261.70" stroke="#f0a860" stroke-width="0.8"/>
<text x="192.80" y="262.25" font-size="7.4" text-anchor="start" fill="#111111" stroke="#111111" stroke-width="0.2" >LP11</text>
<line x1="180.50" y1="269.80" x2="188.90" y2="269.80" stroke="#3a8f6a" stroke-width="0.8" />
<rect x="182.50" y="267.60" width="4.40" height="4.40" fill="#fff" stroke="#3a8f6a" stroke-width="0.8"/><circle cx="184.70" cy="269.80" r="0.7" fill="#3a8f6a"/>
<text x="192.80" y="272.35" font-size="7.4" text-anchor="start" fill="#111111" stroke="#111111" stroke-width="0.2" >LP14</text>
<line x1="180.50" y1="279.90" x2="188.90" y2="279.90" stroke="#8a7bc0" stroke-width="0.8" />
<rect x="182.70" y="277.90" width="4.00" height="4.00" fill="#8a7bc0"/>
<text x="192.80" y="282.45" font-size="7.4" text-anchor="start" fill="#111111" stroke="#111111" stroke-width="0.2" >LP15</text>
<line x1="180.50" y1="290.00" x2="188.90" y2="290.00" stroke="#5b7d7d" stroke-width="0.8" />
<rect x="182.50" y="287.80" width="4.40" height="4.40" fill="#fff" stroke="#5b7d7d" stroke-width="0.8"/><path d="M182.70,288.00L186.70,292.00M186.70,288.00L182.70,292.00" stroke="#5b7d7d" stroke-width="0.7"/>
<text x="192.80" y="292.55" font-size="7.4" text-anchor="start" fill="#111111" stroke="#111111" stroke-width="0.2" >LP16</text>
<line x1="180.50" y1="300.10" x2="188.90" y2="300.10" stroke="#3aa2cc" stroke-width="0.8" />
<path d="M184.70,297.80L187.00,301.94L182.40,301.94Z" fill="#3aa2cc"/>
<text x="192.80" y="302.65" font-size="7.4" text-anchor="start" fill="#111111" stroke="#111111" stroke-width="0.2" >LP18</text>
<line x1="180.50" y1="310.20" x2="188.90" y2="310.20" stroke="#e0508f" stroke-width="0.8" />
<path d="M184.70,308.40V312.00" stroke="#e0508f" stroke-width="0.7"/>
<text x="192.80" y="312.75" font-size="7.4" text-anchor="start" fill="#111111" stroke="#111111" stroke-width="0.2" >LP20</text>
<text x="7.00" y="406.28" font-size="12.3" text-anchor="start" font-weight="bold" fill="#111" stroke="#111" stroke-width="0.2" >D</text>
<text x="118.90" y="409.31" font-size="8.45" text-anchor="middle" fill="#111111" stroke="#111111" stroke-width="0.2" >Nanobodies with inhibitory effect</text>
<line x1="49.80" y1="414.60" x2="49.80" y2="571.10" stroke="#222" stroke-width="1.0" />
<line x1="47.00" y1="570.60" x2="49.80" y2="570.60" stroke="#222" stroke-width="0.8" />
<line x1="48.60" y1="564.60" x2="49.80" y2="564.60" stroke="#222" stroke-width="0.8" />
<line x1="48.60" y1="558.60" x2="49.80" y2="558.60" stroke="#222" stroke-width="0.8" />
<line x1="48.60" y1="552.60" x2="49.80" y2="552.60" stroke="#222" stroke-width="0.8" />
<line x1="48.60" y1="546.60" x2="49.80" y2="546.60" stroke="#222" stroke-width="0.8" />
<line x1="47.00" y1="540.60" x2="49.80" y2="540.60" stroke="#222" stroke-width="0.8" />
<line x1="48.60" y1="534.60" x2="49.80" y2="534.60" stroke="#222" stroke-width="0.8" />
<line x1="48.60" y1="528.60" x2="49.80" y2="528.60" stroke="#222" stroke-width="0.8" />
<line x1="48.60" y1="522.60" x2="49.80" y2="522.60" stroke="#222" stroke-width="0.8" />
<line x1="48.60" y1="516.60" x2="49.80" y2="516.60" stroke="#222" stroke-width="0.8" />
<line x1="47.00" y1="510.60" x2="49.80" y2="510.60" stroke="#222" stroke-width="0.8" />
<line x1="48.60" y1="504.60" x2="49.80" y2="504.60" stroke="#222" stroke-width="0.8" />
<line x1="48.60" y1="498.60" x2="49.80" y2="498.60" stroke="#222" stroke-width="0.8" />
<line x1="48.60" y1="492.60" x2="49.80" y2="492.60" stroke="#222" stroke-width="0.8" />
<line x1="48.60" y1="486.60" x2="49.80" y2="486.60" stroke="#222" stroke-width="0.8" />
<line x1="47.00" y1="480.60" x2="49.80" y2="480.60" stroke="#222" stroke-width="0.8" />
<line x1="48.60" y1="474.60" x2="49.80" y2="474.60" stroke="#222" stroke-width="0.8" />
<line x1="48.60" y1="468.60" x2="49.80" y2="468.60" stroke="#222" stroke-width="0.8" />
<line x1="48.60" y1="462.60" x2="49.80" y2="462.60" stroke="#222" stroke-width="0.8" />
<line x1="48.60" y1="456.60" x2="49.80" y2="456.60" stroke="#222" stroke-width="0.8" />
<line x1="47.00" y1="450.60" x2="49.80" y2="450.60" stroke="#222" stroke-width="0.8" />
<line x1="48.60" y1="444.60" x2="49.80" y2="444.60" stroke="#222" stroke-width="0.8" />
<line x1="48.60" y1="438.60" x2="49.80" y2="438.60" stroke="#222" stroke-width="0.8" />
<line x1="48.60" y1="432.60" x2="49.80" y2="432.60" stroke="#222" stroke-width="0.8" />
<line x1="48.60" y1="426.60" x2="49.80" y2="426.60" stroke="#222" stroke-width="0.8" />
<line x1="47.00" y1="420.60" x2="49.80" y2="420.60" stroke="#222" stroke-width="0.8" />
<line x1="48.60" y1="414.60" x2="49.80" y2="414.60" stroke="#222" stroke-width="0.8" />
<text x="43.50" y="573.64" font-size="7.1" text-anchor="end" fill="#111111" stroke="#111111" stroke-width="0.2" >0</text>
<text x="43.50" y="543.64" font-size="7.1" text-anchor="end" fill="#111111" stroke="#111111" stroke-width="0.2" >25</text>
<text x="43.50" y="513.64" font-size="7.1" text-anchor="end" fill="#111111" stroke="#111111" stroke-width="0.2" >50</text>
<text x="43.50" y="483.64" font-size="7.1" text-anchor="end" fill="#111111" stroke="#111111" stroke-width="0.2" >75</text>
<text x="43.50" y="453.64" font-size="7.1" text-anchor="end" fill="#111111" stroke="#111111" stroke-width="0.2" >100</text>
<text x="43.50" y="423.64" font-size="7.1" text-anchor="end" fill="#111111" stroke="#111111" stroke-width="0.2" >125</text>
<line x1="57.30" y1="579.20" x2="173.80" y2="579.20" stroke="#222" stroke-width="1.0" />
<line x1="57.80" y1="579.20" x2="57.80" y2="581.80" stroke="#222" stroke-width="0.9" />
<line x1="85.30" y1="579.20" x2="85.30" y2="581.80" stroke="#222" stroke-width="0.9" />
<line x1="112.80" y1="579.20" x2="112.80" y2="581.80" stroke="#222" stroke-width="0.9" />
<line x1="140.30" y1="579.20" x2="140.30" y2="581.80" stroke="#222" stroke-width="0.9" />
<line x1="167.80" y1="579.20" x2="167.80" y2="581.80" stroke="#222" stroke-width="0.9" />
<text x="57.80" y="591.95" font-size="7.4" text-anchor="middle" fill="#111111" stroke="#111111" stroke-width="0.2" >0</text>
<text x="85.30" y="591.95" font-size="7.4" text-anchor="middle" fill="#111111" stroke="#111111" stroke-width="0.2" >30</text>
<text x="112.80" y="591.95" font-size="7.4" text-anchor="middle" fill="#111111" stroke="#111111" stroke-width="0.2" >60</text>
<text x="140.30" y="591.95" font-size="7.4" text-anchor="middle" fill="#111111" stroke="#111111" stroke-width="0.2" >90</text>
<text x="167.80" y="591.95" font-size="7.4" text-anchor="middle" fill="#111111" stroke="#111111" stroke-width="0.2" >120</text>
<text x="0" y="0" font-size="9.4" text-anchor="middle" fill="#111111" stroke="#111111" stroke-width="0.2" transform="translate(117.70,604.83) scale(0.7,1)">Time (min)</text>
<text x="0" y="0" font-size="9.4" text-anchor="middle" fill="#111111" stroke="#111111" stroke-width="0.2" transform="translate(14.13,493.30) rotate(-90) scale(0.7,1)">Histone H3 cleavage</text>
<text x="0" y="0" font-size="9.4" text-anchor="middle" fill="#111111" stroke="#111111" stroke-width="0.2" transform="translate(24.73,493.30) rotate(-90) scale(0.7,1)">(normalized %)</text>
<path d="M57.80,570.60 L64.22,570.60 L71.55,570.60 L85.30,570.60 L99.05,570.60 L112.80,570.60 L140.30,570.60 L167.80,570.60" fill="none" stroke="#8a7a5a" stroke-width="0.8"/>
<path d="M57.80,568.80V572.40" stroke="#8a7a5a" stroke-width="0.7"/>
<path d="M64.22,568.80V572.40" stroke="#8a7a5a" stroke-width="0.7"/>
<path d="M71.55,568.80V572.40" stroke="#8a7a5a" stroke-width="0.7"/>
<path d="M85.30,568.80V572.40" stroke="#8a7a5a" stroke-width="0.7"/>
<path d="M99.05,568.80V572.40" stroke="#8a7a5a" stroke-width="0.7"/>
<path d="M112.80,568.80V572.40" stroke="#8a7a5a" stroke-width="0.7"/>
<path d="M140.30,568.80V572.40" stroke="#8a7a5a" stroke-width="0.7"/>
<path d="M167.80,568.80V572.40" stroke="#8a7a5a" stroke-width="0.7"/>
<path d="M99.05,570.60 L112.80,561.00 L140.30,553.80 L167.80,549.00" fill="none" stroke="#c8dcb0" stroke-width="0.8"/>
<path d="M99.05,568.80L100.85,570.60L99.05,572.40L97.25,570.60Z" fill="#fff" stroke="#c8dcb0" stroke-width="0.8"/>
<path d="M112.80,559.20L114.60,561.00L112.80,562.80L111.00,561.00Z" fill="#fff" stroke="#c8dcb0" stroke-width="0.8"/>
<path d="M140.30,552.00L142.10,553.80L140.30,555.60L138.50,553.80Z" fill="#fff" stroke="#c8dcb0" stroke-width="0.8"/>
<path d="M167.80,547.20L169.60,549.00L167.80,550.80L166.00,549.00Z" fill="#fff" stroke="#c8dcb0" stroke-width="0.8"/>
<path d="M57.80,570.60 L64.22,565.80 L71.55,561.72 L85.30,559.20 L99.05,543.36 L112.80,540.84 L140.30,540.84 L167.80,532.92" fill="none" stroke="#c87a2a" stroke-width="0.8"/>
<circle cx="57.80" cy="570.60" r="1.56" fill="#c87a2a"/>
<circle cx="64.22" cy="565.80" r="1.56" fill="#c87a2a"/>
<circle cx="71.55" cy="561.72" r="1.56" fill="#c87a2a"/>
<circle cx="85.30" cy="559.20" r="1.56" fill="#c87a2a"/>
<circle cx="99.05" cy="543.36" r="1.56" fill="#c87a2a"/>
<circle cx="112.80" cy="540.84" r="1.56" fill="#c87a2a"/>
<circle cx="140.30" cy="540.84" r="1.56" fill="#c87a2a"/>
<circle cx="167.80" cy="532.92" r="1.56" fill="#c87a2a"/>
<path d="M57.80,570.60 L64.22,545.40 L71.55,530.16 L85.30,515.28 L99.05,507.00 L112.80,500.40 L140.30,488.76 L167.80,481.08" fill="none" stroke="#d040a0" stroke-width="0.8"/>
<circle cx="57.80" cy="570.60" r="1.56" fill="#d040a0"/>
<circle cx="64.22" cy="545.40" r="1.56" fill="#d040a0"/>
<circle cx="71.55" cy="530.16" r="1.56" fill="#d040a0"/>
<circle cx="85.30" cy="515.28" r="1.56" fill="#d040a0"/>
<circle cx="99.05" cy="507.00" r="1.56" fill="#d040a0"/>
<circle cx="112.80" cy="500.40" r="1.56" fill="#d040a0"/>
<circle cx="140.30" cy="488.76" r="1.56" fill="#d040a0"/>
<circle cx="167.80" cy="481.08" r="1.56" fill="#d040a0"/>
<path d="M57.80,570.60 L64.22,553.80 L71.55,537.00 L85.30,522.60 L99.05,508.20 L112.80,498.72 L140.30,486.60 L167.80,476.40" fill="none" stroke="#4ab0e8" stroke-width="0.8"/>
<path d="M57.80,568.63L59.77,570.60L57.80,572.57L55.83,570.60Z" fill="#4ab0e8"/>
<path d="M64.22,551.83L66.18,553.80L64.22,555.77L62.25,553.80Z" fill="#4ab0e8"/>
<path d="M71.55,535.03L73.52,537.00L71.55,538.97L69.58,537.00Z" fill="#4ab0e8"/>
<path d="M85.30,520.63L87.27,522.60L85.30,524.57L83.33,522.60Z" fill="#4ab0e8"/>
<path d="M99.05,506.23L101.02,508.20L99.05,510.17L97.08,508.20Z" fill="#4ab0e8"/>
<path d="M112.80,496.75L114.77,498.72L112.80,500.69L110.83,498.72Z" fill="#4ab0e8"/>
<path d="M140.30,484.63L142.27,486.60L140.30,488.57L138.33,486.60Z" fill="#4ab0e8"/>
<path d="M167.80,474.43L169.77,476.40L167.80,478.37L165.83,476.40Z" fill="#4ab0e8"/>
<path d="M57.80,570.60 L64.22,570.60 L71.55,570.60 L85.30,570.60 L99.05,570.60 L112.80,570.60 L140.30,570.60 L167.80,570.60" fill="none" stroke="#555" stroke-width="0.8"/>
<circle cx="57.80" cy="570.60" r="0.9" fill="#555"/>
<circle cx="64.22" cy="570.60" r="0.9" fill="#555"/>
<circle cx="71.55" cy="570.60" r="0.9" fill="#555"/>
<circle cx="85.30" cy="570.60" r="0.9" fill="#555"/>
<circle cx="99.05" cy="570.60" r="0.9" fill="#555"/>
<circle cx="112.80" cy="570.60" r="0.9" fill="#555"/>
<circle cx="140.30" cy="570.60" r="0.9" fill="#555"/>
<circle cx="167.80" cy="570.60" r="0.9" fill="#555"/>
<path d="M57.80,570.60 L64.22,556.20 L71.55,546.60 L85.30,534.96 L99.05,534.24 L112.80,528.96 L140.30,521.40 L167.80,510.72" fill="none" stroke="#b0a8d8" stroke-width="0.8"/>
<path d="M57.80,568.80L59.60,570.60L57.80,572.40L56.00,570.60Z" fill="#fff" stroke="#b0a8d8" stroke-width="0.8"/>
<path d="M64.22,554.40L66.02,556.20L64.22,558.00L62.41,556.20Z" fill="#fff" stroke="#b0a8d8" stroke-width="0.8"/>
<path d="M71.55,544.80L73.35,546.60L71.55,548.40L69.75,546.60Z" fill="#fff" stroke="#b0a8d8" stroke-width="0.8"/>
<path d="M85.30,533.16L87.10,534.96L85.30,536.76L83.50,534.96Z" fill="#fff" stroke="#b0a8d8" stroke-width="0.8"/>
<path d="M99.05,532.44L100.85,534.24L99.05,536.04L97.25,534.24Z" fill="#fff" stroke="#b0a8d8" stroke-width="0.8"/>
<path d="M112.80,527.16L114.60,528.96L112.80,530.76L111.00,528.96Z" fill="#fff" stroke="#b0a8d8" stroke-width="0.8"/>
<path d="M140.30,519.60L142.10,521.40L140.30,523.20L138.50,521.40Z" fill="#fff" stroke="#b0a8d8" stroke-width="0.8"/>
<path d="M167.80,508.92L169.60,510.72L167.80,512.52L166.00,510.72Z" fill="#fff" stroke="#b0a8d8" stroke-width="0.8"/>
<path d="M57.80,570.60 L64.22,532.20 L71.55,541.80 L85.30,518.40 L99.05,511.92 L112.80,510.60 L140.30,502.44 L167.80,498.60" fill="none" stroke="#2f8a8a" stroke-width="0.8"/>
<path d="M57.80,572.49L59.69,569.09L55.91,569.09Z" fill="#fff" stroke="#2f8a8a" stroke-width="0.8"/>
<path d="M64.22,534.09L66.10,530.69L62.33,530.69Z" fill="#fff" stroke="#2f8a8a" stroke-width="0.8"/>
<path d="M71.55,543.69L73.44,540.29L69.66,540.29Z" fill="#fff" stroke="#2f8a8a" stroke-width="0.8"/>
<path d="M85.30,520.29L87.19,516.89L83.41,516.89Z" fill="#fff" stroke="#2f8a8a" stroke-width="0.8"/>
<path d="M99.05,513.81L100.94,510.41L97.16,510.41Z" fill="#fff" stroke="#2f8a8a" stroke-width="0.8"/>
<path d="M112.80,512.49L114.69,509.09L110.91,509.09Z" fill="#fff" stroke="#2f8a8a" stroke-width="0.8"/>
<path d="M140.30,504.33L142.19,500.93L138.41,500.93Z" fill="#fff" stroke="#2f8a8a" stroke-width="0.8"/>
<path d="M167.80,500.49L169.69,497.09L165.91,497.09Z" fill="#fff" stroke="#2f8a8a" stroke-width="0.8"/>
<path d="M57.80,570.60 L64.22,553.80 L71.55,539.04 L85.30,524.64 L99.05,504.96 L112.80,501.60 L140.30,494.40 L167.80,485.64" fill="none" stroke="#f0a040" stroke-width="0.8"/>
<path d="M57.80,568.71L59.69,572.11L55.91,572.11Z" fill="#fff" stroke="#f0a040" stroke-width="0.8"/>
<path d="M64.22,551.91L66.10,555.31L62.33,555.31Z" fill="#fff" stroke="#f0a040" stroke-width="0.8"/>
<path d="M71.55,537.15L73.44,540.55L69.66,540.55Z" fill="#fff" stroke="#f0a040" stroke-width="0.8"/>
<path d="M85.30,522.75L87.19,526.15L83.41,526.15Z" fill="#fff" stroke="#f0a040" stroke-width="0.8"/>
<path d="M99.05,503.07L100.94,506.47L97.16,506.47Z" fill="#fff" stroke="#f0a040" stroke-width="0.8"/>
<path d="M112.80,499.71L114.69,503.11L110.91,503.11Z" fill="#fff" stroke="#f0a040" stroke-width="0.8"/>
<path d="M140.30,492.51L142.19,495.91L138.41,495.91Z" fill="#fff" stroke="#f0a040" stroke-width="0.8"/>
<path d="M167.80,483.75L169.69,487.15L165.91,487.15Z" fill="#fff" stroke="#f0a040" stroke-width="0.8"/>
<path d="M57.80,570.60 L64.22,564.60 L71.55,556.44 L85.30,549.48 L99.05,538.44 L112.80,534.00 L140.30,522.12 L167.80,517.80" fill="none" stroke="#8a4a9a" stroke-width="0.8"/>
<rect x="56.00" y="568.80" width="3.61" height="3.61" fill="#fff" stroke="#8a4a9a" stroke-width="0.8"/>
<rect x="62.41" y="562.80" width="3.61" height="3.61" fill="#fff" stroke="#8a4a9a" stroke-width="0.8"/>
<rect x="69.75" y="554.64" width="3.61" height="3.61" fill="#fff" stroke="#8a4a9a" stroke-width="0.8"/>
<rect x="83.50" y="547.68" width="3.61" height="3.61" fill="#fff" stroke="#8a4a9a" stroke-width="0.8"/>
<rect x="97.25" y="536.64" width="3.61" height="3.61" fill="#fff" stroke="#8a4a9a" stroke-width="0.8"/>
<rect x="111.00" y="532.20" width="3.61" height="3.61" fill="#fff" stroke="#8a4a9a" stroke-width="0.8"/>
<rect x="138.50" y="520.32" width="3.61" height="3.61" fill="#fff" stroke="#8a4a9a" stroke-width="0.8"/>
<rect x="166.00" y="516.00" width="3.61" height="3.61" fill="#fff" stroke="#8a4a9a" stroke-width="0.8"/>
<path d="M57.80,570.60 L64.22,551.40 L71.55,545.40 L85.30,528.72 L99.05,517.80 L112.80,510.24 L140.30,487.08 L167.80,476.76" fill="none" stroke="#3aa048" stroke-width="0.8"/>
<path d="M57.80,572.24L59.44,569.29L56.16,569.29Z" fill="#3aa048"/>
<path d="M64.22,553.04L65.86,550.09L62.58,550.09Z" fill="#3aa048"/>
<path d="M71.55,547.04L73.19,544.09L69.91,544.09Z" fill="#3aa048"/>
<path d="M85.30,530.36L86.94,527.41L83.66,527.41Z" fill="#3aa048"/>
<path d="M99.05,519.44L100.69,516.49L97.41,516.49Z" fill="#3aa048"/>
<path d="M112.80,511.88L114.44,508.93L111.16,508.93Z" fill="#3aa048"/>
<path d="M140.30,488.72L141.94,485.77L138.66,485.77Z" fill="#3aa048"/>
<path d="M167.80,478.40L169.44,475.45L166.16,475.45Z" fill="#3aa048"/>
<path d="M57.80,570.60 L64.22,549.00 L71.55,548.76 L85.30,539.16 L99.05,532.20 L112.80,537.00 L140.30,532.44 L167.80,527.76" fill="none" stroke="#1f3f73" stroke-width="0.8"/>
<path d="M57.80,569.12L59.28,571.78L56.32,571.78Z" fill="#1f3f73"/>
<path d="M64.22,547.52L65.69,550.18L62.74,550.18Z" fill="#1f3f73"/>
<path d="M71.55,547.28L73.03,549.94L70.07,549.94Z" fill="#1f3f73"/>
<path d="M85.30,537.68L86.78,540.34L83.82,540.34Z" fill="#1f3f73"/>
<path d="M99.05,530.72L100.53,533.38L97.57,533.38Z" fill="#1f3f73"/>
<path d="M112.80,535.52L114.28,538.18L111.32,538.18Z" fill="#1f3f73"/>
<path d="M140.30,530.96L141.78,533.62L138.82,533.62Z" fill="#1f3f73"/>
<path d="M167.80,526.28L169.28,528.94L166.32,528.94Z" fill="#1f3f73"/>
<path d="M57.80,570.60 L64.22,561.00 L71.55,522.24 L85.30,506.16 L99.05,492.96 L112.80,483.96 L126.55,462.36 L140.30,464.52 L167.80,450.96" fill="none" stroke="#cc4f6c" stroke-width="0.8"/>
<rect x="56.00" y="568.80" width="3.61" height="3.61" fill="#fff" stroke="#cc4f6c" stroke-width="0.8"/>
<rect x="62.41" y="559.20" width="3.61" height="3.61" fill="#fff" stroke="#cc4f6c" stroke-width="0.8"/>
<rect x="69.75" y="520.44" width="3.61" height="3.61" fill="#fff" stroke="#cc4f6c" stroke-width="0.8"/>
<rect x="83.50" y="504.36" width="3.61" height="3.61" fill="#fff" stroke="#cc4f6c" stroke-width="0.8"/>
<rect x="97.25" y="491.16" width="3.61" height="3.61" fill="#fff" stroke="#cc4f6c" stroke-width="0.8"/>
<rect x="111.00" y="482.16" width="3.61" height="3.61" fill="#fff" stroke="#cc4f6c" stroke-width="0.8"/>
<rect x="124.75" y="460.56" width="3.61" height="3.61" fill="#fff" stroke="#cc4f6c" stroke-width="0.8"/>
<rect x="138.50" y="462.72" width="3.61" height="3.61" fill="#fff" stroke="#cc4f6c" stroke-width="0.8"/>
<rect x="166.00" y="449.16" width="3.61" height="3.61" fill="#fff" stroke="#cc4f6c" stroke-width="0.8"/>
<rect x="55.60" y="568.40" width="4.4" height="4.4" fill="#3a2a5a"/>
<line x1="196.40" y1="421.20" x2="204.80" y2="421.20" stroke="#cc4f6c" stroke-width="0.8" />
<rect x="198.80" y="419.40" width="3.61" height="3.61" fill="#fff" stroke="#cc4f6c" stroke-width="0.8"/>
<text x="208.60" y="423.75" font-size="7.4" text-anchor="start" fill="#111111" stroke="#111111" stroke-width="0.2" >APC alone</text>
<line x1="196.40" y1="432.65" x2="204.80" y2="432.65" stroke="#1f3f73" stroke-width="0.8" />
<path d="M200.60,431.17L202.08,433.83L199.12,433.83Z" fill="#1f3f73"/>
<text x="208.60" y="435.20" font-size="7.4" text-anchor="start" fill="#111111" stroke="#111111" stroke-width="0.2" >LP1</text>
<line x1="196.40" y1="444.10" x2="204.80" y2="444.10" stroke="#3aa048" stroke-width="0.8" />
<path d="M200.60,445.74L202.24,442.79L198.96,442.79Z" fill="#3aa048"/>
<text x="208.60" y="446.65" font-size="7.4" text-anchor="start" fill="#111111" stroke="#111111" stroke-width="0.2" >LP2</text>
<line x1="196.40" y1="455.55" x2="204.80" y2="455.55" stroke="#8a4a9a" stroke-width="0.8" />
<rect x="198.80" y="453.75" width="3.61" height="3.61" fill="#fff" stroke="#8a4a9a" stroke-width="0.8"/>
<text x="208.60" y="458.10" font-size="7.4" text-anchor="start" fill="#111111" stroke="#111111" stroke-width="0.2" >LP5</text>
<line x1="196.40" y1="467.00" x2="204.80" y2="467.00" stroke="#f0a040" stroke-width="0.8" />
<path d="M200.60,465.11L202.49,468.51L198.71,468.51Z" fill="#fff" stroke="#f0a040" stroke-width="0.8"/>
<text x="208.60" y="469.55" font-size="7.4" text-anchor="start" fill="#111111" stroke="#111111" stroke-width="0.2" >LP6</text>
<line x1="196.40" y1="478.45" x2="204.80" y2="478.45" stroke="#2f8a8a" stroke-width="0.8" />
<path d="M200.60,480.34L202.49,476.94L198.71,476.94Z" fill="#fff" stroke="#2f8a8a" stroke-width="0.8"/>
<text x="208.60" y="481.00" font-size="7.4" text-anchor="start" fill="#111111" stroke="#111111" stroke-width="0.2" >LP7</text>
<line x1="196.40" y1="489.90" x2="204.80" y2="489.90" stroke="#b0a8d8" stroke-width="0.8" />
<path d="M200.60,488.10L202.40,489.90L200.60,491.70L198.80,489.90Z" fill="#fff" stroke="#b0a8d8" stroke-width="0.8"/>
<text x="208.60" y="492.45" font-size="7.4" text-anchor="start" fill="#111111" stroke="#111111" stroke-width="0.2" >LP8</text>
<line x1="196.40" y1="501.35" x2="204.80" y2="501.35" stroke="#555" stroke-width="0.8" />
<circle cx="200.60" cy="501.35" r="0.9" fill="#555"/>
<text x="208.60" y="503.90" font-size="7.4" text-anchor="start" fill="#111111" stroke="#111111" stroke-width="0.2" >LP10</text>
<line x1="196.40" y1="512.80" x2="204.80" y2="512.80" stroke="#4ab0e8" stroke-width="0.8" />
<path d="M200.60,510.83L202.57,512.80L200.60,514.77L198.63,512.80Z" fill="#4ab0e8"/>
<text x="208.60" y="515.35" font-size="7.4" text-anchor="start" fill="#111111" stroke="#111111" stroke-width="0.2" >LP12</text>
<line x1="196.40" y1="524.25" x2="204.80" y2="524.25" stroke="#d040a0" stroke-width="0.8" />
<circle cx="200.60" cy="524.25" r="1.56" fill="#d040a0"/>
<text x="208.60" y="526.80" font-size="7.4" text-anchor="start" fill="#111111" stroke="#111111" stroke-width="0.2" >LP13</text>
<line x1="196.40" y1="535.70" x2="204.80" y2="535.70" stroke="#c87a2a" stroke-width="0.8" />
<circle cx="200.60" cy="535.70" r="1.56" fill="#c87a2a"/>
<text x="208.60" y="538.25" font-size="7.4" text-anchor="start" fill="#111111" stroke="#111111" stroke-width="0.2" >LP17</text>
<line x1="196.40" y1="547.15" x2="204.80" y2="547.15" stroke="#c8dcb0" stroke-width="0.8" />
<path d="M200.60,545.35L202.40,547.15L200.60,548.95L198.80,547.15Z" fill="#fff" stroke="#c8dcb0" stroke-width="0.8"/>
<text x="208.60" y="549.70" font-size="7.4" text-anchor="start" fill="#111111" stroke="#111111" stroke-width="0.2" >LP19</text>
<line x1="196.40" y1="558.60" x2="204.80" y2="558.60" stroke="#8a7a5a" stroke-width="0.8" />
<path d="M200.60,556.80V560.40" stroke="#8a7a5a" stroke-width="0.7"/>
<text x="208.60" y="561.15" font-size="7.4" text-anchor="start" fill="#111111" stroke="#111111" stroke-width="0.2" >LP21</text>
<rect x="0.5" y="0.5" width="519" height="613" fill="none" stroke="#5c5c5c" stroke-width="1"/>
</svg>
</body></html>
